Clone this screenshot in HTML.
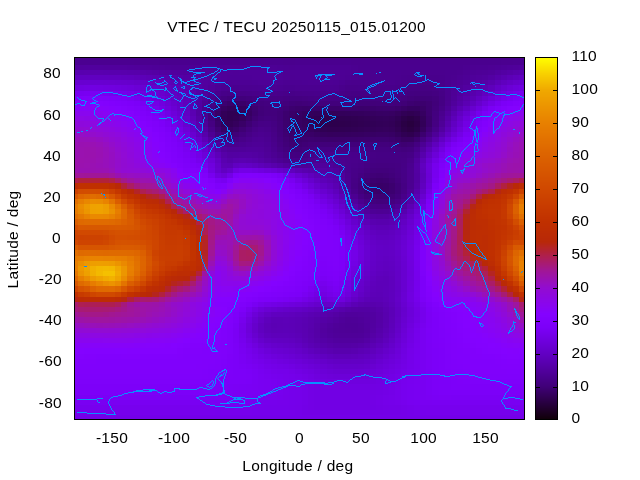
<!DOCTYPE html>
<html lang="en"><head><meta charset="utf-8"><title>VTEC / TECU 20250115_015.01200</title>
<style>html,body{margin:0;padding:0;background:#fff;overflow:hidden}svg{display:block}text{font-family:"Liberation Sans",Arial,Helvetica,sans-serif;font-size:15.5px;letter-spacing:0.28px;fill:#000}</style></head><body>
<svg width="640" height="480" viewBox="0 0 640 480">
<rect width="640" height="480" fill="#fff"/>
<g shape-rendering="crispEdges">
<rect x="74" y="57" width="103" height="3" fill="#49008c"/><rect x="177" y="57" width="31" height="3" fill="#49008b"/><rect x="208" y="57" width="56" height="3" fill="#48008b"/><rect x="264" y="57" width="31" height="3" fill="#49008b"/><rect x="295" y="57" width="230" height="3" fill="#49008c"/><rect x="74" y="60" width="60" height="5" fill="#4b0091"/><rect x="134" y="60" width="25" height="5" fill="#4b0090"/><rect x="159" y="60" width="43" height="5" fill="#4a008f"/><rect x="202" y="60" width="62" height="5" fill="#4a008e"/><rect x="264" y="60" width="19" height="5" fill="#4a008f"/><rect x="283" y="60" width="12" height="5" fill="#4a008e"/><rect x="295" y="60" width="56" height="5" fill="#4a008f"/><rect x="351" y="60" width="119" height="5" fill="#4a008e"/><rect x="470" y="60" width="31" height="5" fill="#4a008f"/><rect x="501" y="60" width="12" height="5" fill="#4b0090"/><rect x="513" y="60" width="12" height="5" fill="#4b0091"/><rect x="74" y="65" width="10" height="5" fill="#51009d"/><rect x="84" y="65" width="19" height="5" fill="#51009e"/><rect x="103" y="65" width="24" height="5" fill="#51009d"/><rect x="127" y="65" width="7" height="5" fill="#50009c"/><rect x="134" y="65" width="6" height="5" fill="#50009b"/><rect x="140" y="65" width="6" height="5" fill="#4f009a"/><rect x="146" y="65" width="6" height="5" fill="#4f0099"/><rect x="152" y="65" width="7" height="5" fill="#4e0098"/><rect x="159" y="65" width="6" height="5" fill="#4e0097"/><rect x="165" y="65" width="6" height="5" fill="#4d0096"/><rect x="171" y="65" width="37" height="5" fill="#4d0095"/><rect x="208" y="65" width="38" height="5" fill="#4d0094"/><rect x="246" y="65" width="31" height="5" fill="#4d0095"/><rect x="277" y="65" width="6" height="5" fill="#4c0094"/><rect x="283" y="65" width="6" height="5" fill="#4c0093"/><rect x="289" y="65" width="6" height="5" fill="#4c0092"/><rect x="295" y="65" width="56" height="5" fill="#4c0093"/><rect x="351" y="65" width="7" height="5" fill="#4b0091"/><rect x="358" y="65" width="105" height="5" fill="#4a008f"/><rect x="463" y="65" width="7" height="5" fill="#4b0091"/><rect x="470" y="65" width="6" height="5" fill="#4c0092"/><rect x="476" y="65" width="12" height="5" fill="#4c0093"/><rect x="488" y="65" width="7" height="5" fill="#4d0094"/><rect x="495" y="65" width="6" height="5" fill="#4d0096"/><rect x="501" y="65" width="6" height="5" fill="#4e0098"/><rect x="507" y="65" width="6" height="5" fill="#4f009a"/><rect x="513" y="65" width="6" height="5" fill="#50009b"/><rect x="519" y="65" width="6" height="5" fill="#51009d"/><rect x="74" y="70" width="4" height="5" fill="#5800ae"/><rect x="78" y="70" width="6" height="5" fill="#5800af"/><rect x="84" y="70" width="19" height="5" fill="#5900af"/><rect x="103" y="70" width="6" height="5" fill="#5800af"/><rect x="109" y="70" width="12" height="5" fill="#5800ae"/><rect x="121" y="70" width="6" height="5" fill="#5800ad"/><rect x="127" y="70" width="7" height="5" fill="#5700ac"/><rect x="134" y="70" width="6" height="5" fill="#5700ab"/><rect x="140" y="70" width="6" height="5" fill="#5600a8"/><rect x="146" y="70" width="6" height="5" fill="#5500a6"/><rect x="152" y="70" width="7" height="5" fill="#5400a4"/><rect x="159" y="70" width="6" height="5" fill="#5200a1"/><rect x="165" y="70" width="6" height="5" fill="#52009f"/><rect x="171" y="70" width="6" height="5" fill="#51009e"/><rect x="177" y="70" width="6" height="5" fill="#51009d"/><rect x="183" y="70" width="13" height="5" fill="#50009c"/><rect x="196" y="70" width="6" height="5" fill="#50009b"/><rect x="202" y="70" width="6" height="5" fill="#4f009b"/><rect x="208" y="70" width="7" height="5" fill="#4f009a"/><rect x="215" y="70" width="18" height="5" fill="#4f0099"/><rect x="233" y="70" width="6" height="5" fill="#4f0098"/><rect x="239" y="70" width="25" height="5" fill="#4f0099"/><rect x="264" y="70" width="7" height="5" fill="#4f009a"/><rect x="271" y="70" width="6" height="5" fill="#4f0099"/><rect x="277" y="70" width="6" height="5" fill="#4e0097"/><rect x="283" y="70" width="62" height="5" fill="#4d0095"/><rect x="345" y="70" width="6" height="5" fill="#4d0094"/><rect x="351" y="70" width="7" height="5" fill="#4c0092"/><rect x="358" y="70" width="43" height="5" fill="#4a008f"/><rect x="401" y="70" width="44" height="5" fill="#4a008e"/><rect x="445" y="70" width="12" height="5" fill="#4a008f"/><rect x="457" y="70" width="6" height="5" fill="#4b0090"/><rect x="463" y="70" width="7" height="5" fill="#4c0093"/><rect x="470" y="70" width="6" height="5" fill="#4d0096"/><rect x="476" y="70" width="6" height="5" fill="#4e0097"/><rect x="482" y="70" width="6" height="5" fill="#4e0098"/><rect x="488" y="70" width="7" height="5" fill="#4f009a"/><rect x="495" y="70" width="6" height="5" fill="#51009f"/><rect x="501" y="70" width="6" height="5" fill="#5300a3"/><rect x="507" y="70" width="6" height="5" fill="#5500a7"/><rect x="513" y="70" width="6" height="5" fill="#5700ab"/><rect x="519" y="70" width="6" height="5" fill="#5800ae"/><rect x="74" y="75" width="4" height="5" fill="#6000bf"/><rect x="78" y="75" width="31" height="5" fill="#6000c0"/><rect x="109" y="75" width="12" height="5" fill="#6000bf"/><rect x="121" y="75" width="6" height="5" fill="#5f00be"/><rect x="127" y="75" width="7" height="5" fill="#5f00bd"/><rect x="134" y="75" width="6" height="5" fill="#5e00ba"/><rect x="140" y="75" width="6" height="5" fill="#5c00b8"/><rect x="146" y="75" width="6" height="5" fill="#5b00b5"/><rect x="152" y="75" width="7" height="5" fill="#5a00b2"/><rect x="159" y="75" width="6" height="5" fill="#5800ae"/><rect x="165" y="75" width="6" height="5" fill="#5700ab"/><rect x="171" y="75" width="6" height="5" fill="#5600a8"/><rect x="177" y="75" width="6" height="5" fill="#5400a6"/><rect x="183" y="75" width="7" height="5" fill="#5300a3"/><rect x="190" y="75" width="6" height="5" fill="#5200a1"/><rect x="196" y="75" width="6" height="5" fill="#51009f"/><rect x="202" y="75" width="6" height="5" fill="#51009e"/><rect x="208" y="75" width="7" height="5" fill="#51009d"/><rect x="215" y="75" width="6" height="5" fill="#50009b"/><rect x="221" y="75" width="6" height="5" fill="#4f0099"/><rect x="227" y="75" width="25" height="5" fill="#4e0098"/><rect x="252" y="75" width="12" height="5" fill="#4f0099"/><rect x="264" y="75" width="7" height="5" fill="#4f009a"/><rect x="271" y="75" width="6" height="5" fill="#4f0099"/><rect x="277" y="75" width="6" height="5" fill="#4e0097"/><rect x="283" y="75" width="6" height="5" fill="#4d0095"/><rect x="289" y="75" width="6" height="5" fill="#4d0094"/><rect x="295" y="75" width="25" height="5" fill="#4d0095"/><rect x="320" y="75" width="13" height="5" fill="#4d0096"/><rect x="333" y="75" width="6" height="5" fill="#4d0095"/><rect x="339" y="75" width="6" height="5" fill="#4d0094"/><rect x="345" y="75" width="6" height="5" fill="#4c0093"/><rect x="351" y="75" width="7" height="5" fill="#4b0091"/><rect x="358" y="75" width="6" height="5" fill="#4a008f"/><rect x="364" y="75" width="12" height="5" fill="#4a008e"/><rect x="376" y="75" width="19" height="5" fill="#4a008f"/><rect x="395" y="75" width="6" height="5" fill="#4a008e"/><rect x="401" y="75" width="6" height="5" fill="#49008d"/><rect x="407" y="75" width="32" height="5" fill="#49008c"/><rect x="439" y="75" width="6" height="5" fill="#49008d"/><rect x="445" y="75" width="6" height="5" fill="#4a008f"/><rect x="451" y="75" width="6" height="5" fill="#4b0090"/><rect x="457" y="75" width="6" height="5" fill="#4c0093"/><rect x="463" y="75" width="7" height="5" fill="#4d0096"/><rect x="470" y="75" width="6" height="5" fill="#4f009a"/><rect x="476" y="75" width="6" height="5" fill="#50009c"/><rect x="482" y="75" width="6" height="5" fill="#51009e"/><rect x="488" y="75" width="7" height="5" fill="#5300a3"/><rect x="495" y="75" width="6" height="5" fill="#5600aa"/><rect x="501" y="75" width="6" height="5" fill="#5900b0"/><rect x="507" y="75" width="6" height="5" fill="#5c00b6"/><rect x="513" y="75" width="6" height="5" fill="#5e00bb"/><rect x="519" y="75" width="6" height="5" fill="#6000bf"/><rect x="74" y="80" width="4" height="5" fill="#6700cf"/><rect x="78" y="80" width="6" height="5" fill="#6800d0"/><rect x="84" y="80" width="19" height="5" fill="#6800d1"/><rect x="103" y="80" width="6" height="5" fill="#6800d0"/><rect x="109" y="80" width="6" height="5" fill="#6800cf"/><rect x="115" y="80" width="6" height="5" fill="#6700ce"/><rect x="121" y="80" width="6" height="5" fill="#6700cd"/><rect x="127" y="80" width="7" height="5" fill="#6600cc"/><rect x="134" y="80" width="6" height="5" fill="#6500c9"/><rect x="140" y="80" width="6" height="5" fill="#6300c6"/><rect x="146" y="80" width="6" height="5" fill="#6200c3"/><rect x="152" y="80" width="7" height="5" fill="#6000c0"/><rect x="159" y="80" width="6" height="5" fill="#5e00bb"/><rect x="165" y="80" width="6" height="5" fill="#5c00b7"/><rect x="171" y="80" width="6" height="5" fill="#5a00b3"/><rect x="177" y="80" width="6" height="5" fill="#5800ae"/><rect x="183" y="80" width="7" height="5" fill="#5600aa"/><rect x="190" y="80" width="6" height="5" fill="#5400a5"/><rect x="196" y="80" width="6" height="5" fill="#5300a2"/><rect x="202" y="80" width="6" height="5" fill="#52009f"/><rect x="208" y="80" width="7" height="5" fill="#51009d"/><rect x="215" y="80" width="6" height="5" fill="#4f0099"/><rect x="221" y="80" width="6" height="5" fill="#4e0096"/><rect x="227" y="80" width="25" height="5" fill="#4d0095"/><rect x="252" y="80" width="6" height="5" fill="#4d0096"/><rect x="258" y="80" width="19" height="5" fill="#4e0097"/><rect x="277" y="80" width="6" height="5" fill="#4d0095"/><rect x="283" y="80" width="19" height="5" fill="#4c0093"/><rect x="302" y="80" width="6" height="5" fill="#4c0094"/><rect x="308" y="80" width="25" height="5" fill="#4d0094"/><rect x="333" y="80" width="6" height="5" fill="#4c0094"/><rect x="339" y="80" width="6" height="5" fill="#4b0091"/><rect x="345" y="80" width="6" height="5" fill="#4a008e"/><rect x="351" y="80" width="25" height="5" fill="#4a008d"/><rect x="376" y="80" width="19" height="5" fill="#4a008e"/><rect x="395" y="80" width="6" height="5" fill="#49008d"/><rect x="401" y="80" width="6" height="5" fill="#48008b"/><rect x="407" y="80" width="7" height="5" fill="#470088"/><rect x="414" y="80" width="18" height="5" fill="#470087"/><rect x="432" y="80" width="7" height="5" fill="#470088"/><rect x="439" y="80" width="6" height="5" fill="#48008b"/><rect x="445" y="80" width="6" height="5" fill="#4a008f"/><rect x="451" y="80" width="6" height="5" fill="#4c0093"/><rect x="457" y="80" width="6" height="5" fill="#4e0096"/><rect x="463" y="80" width="7" height="5" fill="#4f009a"/><rect x="470" y="80" width="6" height="5" fill="#51009f"/><rect x="476" y="80" width="6" height="5" fill="#5300a2"/><rect x="482" y="80" width="6" height="5" fill="#5500a7"/><rect x="488" y="80" width="7" height="5" fill="#5800ae"/><rect x="495" y="80" width="6" height="5" fill="#5c00b7"/><rect x="501" y="80" width="6" height="5" fill="#6000bf"/><rect x="507" y="80" width="6" height="5" fill="#6300c6"/><rect x="513" y="80" width="6" height="5" fill="#6600cb"/><rect x="519" y="80" width="6" height="5" fill="#6700cf"/><rect x="74" y="85" width="4" height="6" fill="#6f00df"/><rect x="78" y="85" width="6" height="6" fill="#7000e0"/><rect x="84" y="85" width="6" height="6" fill="#7100e1"/><rect x="90" y="85" width="6" height="6" fill="#7100e2"/><rect x="96" y="85" width="7" height="6" fill="#7100e1"/><rect x="103" y="85" width="6" height="6" fill="#7000e0"/><rect x="109" y="85" width="6" height="6" fill="#7000df"/><rect x="115" y="85" width="6" height="6" fill="#6f00de"/><rect x="121" y="85" width="6" height="6" fill="#6e00dc"/><rect x="127" y="85" width="7" height="6" fill="#6d00da"/><rect x="134" y="85" width="6" height="6" fill="#6b00d6"/><rect x="140" y="85" width="6" height="6" fill="#6900d2"/><rect x="146" y="85" width="6" height="6" fill="#6700ce"/><rect x="152" y="85" width="7" height="6" fill="#6500ca"/><rect x="159" y="85" width="6" height="6" fill="#6300c5"/><rect x="165" y="85" width="6" height="6" fill="#6000c0"/><rect x="171" y="85" width="6" height="6" fill="#5e00bb"/><rect x="177" y="85" width="6" height="6" fill="#5c00b6"/><rect x="183" y="85" width="7" height="6" fill="#5900b1"/><rect x="190" y="85" width="6" height="6" fill="#5600aa"/><rect x="196" y="85" width="6" height="6" fill="#5400a4"/><rect x="202" y="85" width="6" height="6" fill="#51009e"/><rect x="208" y="85" width="7" height="6" fill="#4f0099"/><rect x="215" y="85" width="6" height="6" fill="#4d0094"/><rect x="221" y="85" width="6" height="6" fill="#4b0091"/><rect x="227" y="85" width="6" height="6" fill="#4b0090"/><rect x="233" y="85" width="6" height="6" fill="#4a008f"/><rect x="239" y="85" width="13" height="6" fill="#4b0090"/><rect x="252" y="85" width="6" height="6" fill="#4b0091"/><rect x="258" y="85" width="6" height="6" fill="#4b0092"/><rect x="264" y="85" width="13" height="6" fill="#4c0093"/><rect x="277" y="85" width="6" height="6" fill="#4b0091"/><rect x="283" y="85" width="12" height="6" fill="#4a008f"/><rect x="295" y="85" width="32" height="6" fill="#4b0090"/><rect x="327" y="85" width="6" height="6" fill="#4b0091"/><rect x="333" y="85" width="6" height="6" fill="#4b0090"/><rect x="339" y="85" width="6" height="6" fill="#49008c"/><rect x="345" y="85" width="13" height="6" fill="#480089"/><rect x="358" y="85" width="25" height="6" fill="#48008a"/><rect x="383" y="85" width="12" height="6" fill="#48008b"/><rect x="395" y="85" width="6" height="6" fill="#48008a"/><rect x="401" y="85" width="6" height="6" fill="#470087"/><rect x="407" y="85" width="7" height="6" fill="#450084"/><rect x="414" y="85" width="18" height="6" fill="#450083"/><rect x="432" y="85" width="7" height="6" fill="#460084"/><rect x="439" y="85" width="6" height="6" fill="#470088"/><rect x="445" y="85" width="6" height="6" fill="#4a008e"/><rect x="451" y="85" width="6" height="6" fill="#4d0095"/><rect x="457" y="85" width="6" height="6" fill="#4f009a"/><rect x="463" y="85" width="7" height="6" fill="#5200a0"/><rect x="470" y="85" width="6" height="6" fill="#5400a5"/><rect x="476" y="85" width="6" height="6" fill="#5700ab"/><rect x="482" y="85" width="6" height="6" fill="#5a00b2"/><rect x="488" y="85" width="7" height="6" fill="#5e00bb"/><rect x="495" y="85" width="6" height="6" fill="#6300c6"/><rect x="501" y="85" width="6" height="6" fill="#6700ce"/><rect x="507" y="85" width="6" height="6" fill="#6b00d5"/><rect x="513" y="85" width="6" height="6" fill="#6d00db"/><rect x="519" y="85" width="6" height="6" fill="#6f00df"/><rect x="74" y="91" width="4" height="5" fill="#7700ee"/><rect x="78" y="91" width="6" height="5" fill="#7800f1"/><rect x="84" y="91" width="19" height="5" fill="#7900f2"/><rect x="103" y="91" width="6" height="5" fill="#7800f1"/><rect x="109" y="91" width="6" height="5" fill="#7700ef"/><rect x="115" y="91" width="6" height="5" fill="#7600ed"/><rect x="121" y="91" width="6" height="5" fill="#7500ea"/><rect x="127" y="91" width="7" height="5" fill="#7400e7"/><rect x="134" y="91" width="6" height="5" fill="#7100e3"/><rect x="140" y="91" width="6" height="5" fill="#6f00dd"/><rect x="146" y="91" width="6" height="5" fill="#6c00d8"/><rect x="152" y="91" width="7" height="5" fill="#6900d3"/><rect x="159" y="91" width="6" height="5" fill="#6700cd"/><rect x="165" y="91" width="6" height="5" fill="#6400c7"/><rect x="171" y="91" width="6" height="5" fill="#6100c2"/><rect x="177" y="91" width="6" height="5" fill="#5e00bc"/><rect x="183" y="91" width="7" height="5" fill="#5c00b6"/><rect x="190" y="91" width="6" height="5" fill="#5800ae"/><rect x="196" y="91" width="6" height="5" fill="#5400a4"/><rect x="202" y="91" width="6" height="5" fill="#50009b"/><rect x="208" y="91" width="7" height="5" fill="#4c0093"/><rect x="215" y="91" width="6" height="5" fill="#49008d"/><rect x="221" y="91" width="6" height="5" fill="#470089"/><rect x="227" y="91" width="6" height="5" fill="#470087"/><rect x="233" y="91" width="6" height="5" fill="#460086"/><rect x="239" y="91" width="7" height="5" fill="#470087"/><rect x="246" y="91" width="6" height="5" fill="#470088"/><rect x="252" y="91" width="6" height="5" fill="#480089"/><rect x="258" y="91" width="6" height="5" fill="#48008a"/><rect x="264" y="91" width="13" height="5" fill="#49008c"/><rect x="277" y="91" width="6" height="5" fill="#48008b"/><rect x="283" y="91" width="6" height="5" fill="#480089"/><rect x="289" y="91" width="6" height="5" fill="#470088"/><rect x="295" y="91" width="7" height="5" fill="#480089"/><rect x="302" y="91" width="12" height="5" fill="#48008a"/><rect x="314" y="91" width="19" height="5" fill="#48008b"/><rect x="333" y="91" width="6" height="5" fill="#48008a"/><rect x="339" y="91" width="6" height="5" fill="#470087"/><rect x="345" y="91" width="6" height="5" fill="#460085"/><rect x="351" y="91" width="13" height="5" fill="#450084"/><rect x="364" y="91" width="19" height="5" fill="#460085"/><rect x="383" y="91" width="12" height="5" fill="#460086"/><rect x="395" y="91" width="6" height="5" fill="#460085"/><rect x="401" y="91" width="6" height="5" fill="#450083"/><rect x="407" y="91" width="7" height="5" fill="#430080"/><rect x="414" y="91" width="18" height="5" fill="#43007f"/><rect x="432" y="91" width="7" height="5" fill="#440081"/><rect x="439" y="91" width="6" height="5" fill="#460086"/><rect x="445" y="91" width="6" height="5" fill="#4a008e"/><rect x="451" y="91" width="6" height="5" fill="#4e0096"/><rect x="457" y="91" width="6" height="5" fill="#51009e"/><rect x="463" y="91" width="7" height="5" fill="#5400a6"/><rect x="470" y="91" width="6" height="5" fill="#5800ad"/><rect x="476" y="91" width="6" height="5" fill="#5b00b5"/><rect x="482" y="91" width="6" height="5" fill="#6000bf"/><rect x="488" y="91" width="7" height="5" fill="#6500c9"/><rect x="495" y="91" width="6" height="5" fill="#6a00d3"/><rect x="501" y="91" width="6" height="5" fill="#6e00dc"/><rect x="507" y="91" width="6" height="5" fill="#7200e4"/><rect x="513" y="91" width="6" height="5" fill="#7500ea"/><rect x="519" y="91" width="6" height="5" fill="#7700ee"/><rect x="74" y="96" width="4" height="5" fill="#7d00f9"/><rect x="78" y="96" width="6" height="5" fill="#7e01fa"/><rect x="84" y="96" width="6" height="5" fill="#7f01fa"/><rect x="90" y="96" width="6" height="5" fill="#7f01fb"/><rect x="96" y="96" width="7" height="5" fill="#7f01fa"/><rect x="103" y="96" width="6" height="5" fill="#7e01fa"/><rect x="109" y="96" width="6" height="5" fill="#7e00f9"/><rect x="115" y="96" width="6" height="5" fill="#7d00f9"/><rect x="121" y="96" width="6" height="5" fill="#7c00f7"/><rect x="127" y="96" width="7" height="5" fill="#7a00f3"/><rect x="134" y="96" width="6" height="5" fill="#7700ee"/><rect x="140" y="96" width="6" height="5" fill="#7400e8"/><rect x="146" y="96" width="6" height="5" fill="#7100e3"/><rect x="152" y="96" width="7" height="5" fill="#6e00dc"/><rect x="159" y="96" width="6" height="5" fill="#6b00d6"/><rect x="165" y="96" width="6" height="5" fill="#6700ce"/><rect x="171" y="96" width="6" height="5" fill="#6400c8"/><rect x="177" y="96" width="6" height="5" fill="#6100c1"/><rect x="183" y="96" width="7" height="5" fill="#5d00b9"/><rect x="190" y="96" width="6" height="5" fill="#5900af"/><rect x="196" y="96" width="6" height="5" fill="#5300a3"/><rect x="202" y="96" width="6" height="5" fill="#4e0097"/><rect x="208" y="96" width="7" height="5" fill="#49008d"/><rect x="215" y="96" width="6" height="5" fill="#460084"/><rect x="221" y="96" width="6" height="5" fill="#43007f"/><rect x="227" y="96" width="6" height="5" fill="#41007b"/><rect x="233" y="96" width="6" height="5" fill="#410079"/><rect x="239" y="96" width="7" height="5" fill="#41007b"/><rect x="246" y="96" width="6" height="5" fill="#42007d"/><rect x="252" y="96" width="6" height="5" fill="#440080"/><rect x="258" y="96" width="6" height="5" fill="#450083"/><rect x="264" y="96" width="13" height="5" fill="#460085"/><rect x="277" y="96" width="6" height="5" fill="#460084"/><rect x="283" y="96" width="6" height="5" fill="#450082"/><rect x="289" y="96" width="13" height="5" fill="#440081"/><rect x="302" y="96" width="6" height="5" fill="#450082"/><rect x="308" y="96" width="6" height="5" fill="#450084"/><rect x="314" y="96" width="19" height="5" fill="#460084"/><rect x="333" y="96" width="6" height="5" fill="#450084"/><rect x="339" y="96" width="6" height="5" fill="#450083"/><rect x="345" y="96" width="6" height="5" fill="#440081"/><rect x="351" y="96" width="7" height="5" fill="#430080"/><rect x="358" y="96" width="12" height="5" fill="#43007f"/><rect x="370" y="96" width="6" height="5" fill="#430080"/><rect x="376" y="96" width="7" height="5" fill="#440080"/><rect x="383" y="96" width="6" height="5" fill="#440081"/><rect x="389" y="96" width="6" height="5" fill="#440082"/><rect x="395" y="96" width="6" height="5" fill="#440081"/><rect x="401" y="96" width="6" height="5" fill="#43007e"/><rect x="407" y="96" width="7" height="5" fill="#41007a"/><rect x="414" y="96" width="12" height="5" fill="#400078"/><rect x="426" y="96" width="6" height="5" fill="#400079"/><rect x="432" y="96" width="7" height="5" fill="#42007c"/><rect x="439" y="96" width="6" height="5" fill="#450084"/><rect x="445" y="96" width="6" height="5" fill="#4a008e"/><rect x="451" y="96" width="6" height="5" fill="#4e0098"/><rect x="457" y="96" width="6" height="5" fill="#5300a2"/><rect x="463" y="96" width="7" height="5" fill="#5700ab"/><rect x="470" y="96" width="6" height="5" fill="#5b00b5"/><rect x="476" y="96" width="6" height="5" fill="#6100c1"/><rect x="482" y="96" width="6" height="5" fill="#6600cc"/><rect x="488" y="96" width="7" height="5" fill="#6c00d7"/><rect x="495" y="96" width="6" height="5" fill="#7100e1"/><rect x="501" y="96" width="6" height="5" fill="#7500e9"/><rect x="507" y="96" width="6" height="5" fill="#7800f0"/><rect x="513" y="96" width="6" height="5" fill="#7b00f7"/><rect x="519" y="96" width="6" height="5" fill="#7d00f9"/><rect x="74" y="101" width="4" height="5" fill="#8101fd"/><rect x="78" y="101" width="6" height="5" fill="#8202fe"/><rect x="84" y="101" width="19" height="5" fill="#8302fe"/><rect x="103" y="101" width="6" height="5" fill="#8202fd"/><rect x="109" y="101" width="6" height="5" fill="#8101fd"/><rect x="115" y="101" width="6" height="5" fill="#8001fc"/><rect x="121" y="101" width="6" height="5" fill="#7f01fb"/><rect x="127" y="101" width="7" height="5" fill="#7e00fa"/><rect x="134" y="101" width="6" height="5" fill="#7c00f8"/><rect x="140" y="101" width="6" height="5" fill="#7900f2"/><rect x="146" y="101" width="6" height="5" fill="#7600ec"/><rect x="152" y="101" width="7" height="5" fill="#7300e5"/><rect x="159" y="101" width="6" height="5" fill="#6f00de"/><rect x="165" y="101" width="6" height="5" fill="#6b00d6"/><rect x="171" y="101" width="6" height="5" fill="#6700ce"/><rect x="177" y="101" width="6" height="5" fill="#6300c6"/><rect x="183" y="101" width="7" height="5" fill="#5e00bc"/><rect x="190" y="101" width="6" height="5" fill="#5900af"/><rect x="196" y="101" width="6" height="5" fill="#5200a1"/><rect x="202" y="101" width="6" height="5" fill="#4c0093"/><rect x="208" y="101" width="7" height="5" fill="#460086"/><rect x="215" y="101" width="6" height="5" fill="#42007b"/><rect x="221" y="101" width="6" height="5" fill="#3d0071"/><rect x="227" y="101" width="6" height="5" fill="#3a006a"/><rect x="233" y="101" width="6" height="5" fill="#390067"/><rect x="239" y="101" width="7" height="5" fill="#3a006a"/><rect x="246" y="101" width="6" height="5" fill="#3d0071"/><rect x="252" y="101" width="6" height="5" fill="#400079"/><rect x="258" y="101" width="6" height="5" fill="#42007d"/><rect x="264" y="101" width="7" height="5" fill="#43007f"/><rect x="271" y="101" width="6" height="5" fill="#440080"/><rect x="277" y="101" width="6" height="5" fill="#43007f"/><rect x="283" y="101" width="6" height="5" fill="#42007c"/><rect x="289" y="101" width="6" height="5" fill="#400079"/><rect x="295" y="101" width="7" height="5" fill="#400077"/><rect x="302" y="101" width="6" height="5" fill="#410079"/><rect x="308" y="101" width="6" height="5" fill="#41007b"/><rect x="314" y="101" width="37" height="5" fill="#42007c"/><rect x="351" y="101" width="7" height="5" fill="#41007a"/><rect x="358" y="101" width="12" height="5" fill="#400078"/><rect x="370" y="101" width="6" height="5" fill="#410079"/><rect x="376" y="101" width="7" height="5" fill="#41007a"/><rect x="383" y="101" width="6" height="5" fill="#41007b"/><rect x="389" y="101" width="6" height="5" fill="#42007c"/><rect x="395" y="101" width="6" height="5" fill="#41007b"/><rect x="401" y="101" width="6" height="5" fill="#400077"/><rect x="407" y="101" width="7" height="5" fill="#3d0071"/><rect x="414" y="101" width="12" height="5" fill="#3c006e"/><rect x="426" y="101" width="6" height="5" fill="#3e0072"/><rect x="432" y="101" width="7" height="5" fill="#41007a"/><rect x="439" y="101" width="6" height="5" fill="#450084"/><rect x="445" y="101" width="6" height="5" fill="#4b0090"/><rect x="451" y="101" width="6" height="5" fill="#50009c"/><rect x="457" y="101" width="6" height="5" fill="#5500a8"/><rect x="463" y="101" width="7" height="5" fill="#5b00b3"/><rect x="470" y="101" width="6" height="5" fill="#6000c0"/><rect x="476" y="101" width="6" height="5" fill="#6700cd"/><rect x="482" y="101" width="6" height="5" fill="#6d00da"/><rect x="488" y="101" width="7" height="5" fill="#7300e6"/><rect x="495" y="101" width="6" height="5" fill="#7800f0"/><rect x="501" y="101" width="6" height="5" fill="#7c00f7"/><rect x="507" y="101" width="6" height="5" fill="#7e00fa"/><rect x="513" y="101" width="6" height="5" fill="#8001fb"/><rect x="519" y="101" width="6" height="5" fill="#8101fd"/><rect x="74" y="106" width="4" height="5" fill="#8503fa"/><rect x="78" y="106" width="6" height="5" fill="#8603f8"/><rect x="84" y="106" width="12" height="5" fill="#8604f8"/><rect x="96" y="106" width="7" height="5" fill="#8603f9"/><rect x="103" y="106" width="6" height="5" fill="#8503fb"/><rect x="109" y="106" width="6" height="5" fill="#8402fd"/><rect x="115" y="106" width="6" height="5" fill="#8302ff"/><rect x="121" y="106" width="6" height="5" fill="#8202fd"/><rect x="127" y="106" width="7" height="5" fill="#8101fc"/><rect x="134" y="106" width="6" height="5" fill="#7f01fb"/><rect x="140" y="106" width="6" height="5" fill="#7d00f9"/><rect x="146" y="106" width="6" height="5" fill="#7a00f4"/><rect x="152" y="106" width="7" height="5" fill="#7700ed"/><rect x="159" y="106" width="6" height="5" fill="#7300e5"/><rect x="165" y="106" width="6" height="5" fill="#6e00dd"/><rect x="171" y="106" width="6" height="5" fill="#6a00d4"/><rect x="177" y="106" width="6" height="5" fill="#6500ca"/><rect x="183" y="106" width="7" height="5" fill="#6000bf"/><rect x="190" y="106" width="6" height="5" fill="#5900b0"/><rect x="196" y="106" width="6" height="5" fill="#5200a0"/><rect x="202" y="106" width="6" height="5" fill="#4a008f"/><rect x="208" y="106" width="7" height="5" fill="#430080"/><rect x="215" y="106" width="6" height="5" fill="#3c0070"/><rect x="221" y="106" width="6" height="5" fill="#370062"/><rect x="227" y="106" width="6" height="5" fill="#34005b"/><rect x="233" y="106" width="6" height="5" fill="#33005a"/><rect x="239" y="106" width="7" height="5" fill="#35005e"/><rect x="246" y="106" width="6" height="5" fill="#380066"/><rect x="252" y="106" width="6" height="5" fill="#3d0071"/><rect x="258" y="106" width="6" height="5" fill="#410079"/><rect x="264" y="106" width="7" height="5" fill="#42007c"/><rect x="271" y="106" width="6" height="5" fill="#42007d"/><rect x="277" y="106" width="6" height="5" fill="#41007a"/><rect x="283" y="106" width="6" height="5" fill="#3f0075"/><rect x="289" y="106" width="6" height="5" fill="#3c006f"/><rect x="295" y="106" width="7" height="5" fill="#3b006c"/><rect x="302" y="106" width="6" height="5" fill="#3a006a"/><rect x="308" y="106" width="12" height="5" fill="#3a006b"/><rect x="320" y="106" width="19" height="5" fill="#3b006b"/><rect x="339" y="106" width="6" height="5" fill="#3b006c"/><rect x="345" y="106" width="6" height="5" fill="#3b006d"/><rect x="351" y="106" width="7" height="5" fill="#3b006c"/><rect x="358" y="106" width="6" height="5" fill="#3a006b"/><rect x="364" y="106" width="6" height="5" fill="#3b006b"/><rect x="370" y="106" width="6" height="5" fill="#3b006d"/><rect x="376" y="106" width="7" height="5" fill="#3c006f"/><rect x="383" y="106" width="12" height="5" fill="#3d0070"/><rect x="395" y="106" width="6" height="5" fill="#3b006d"/><rect x="401" y="106" width="6" height="5" fill="#390067"/><rect x="407" y="106" width="13" height="5" fill="#360062"/><rect x="420" y="106" width="6" height="5" fill="#390067"/><rect x="426" y="106" width="6" height="5" fill="#3d0071"/><rect x="432" y="106" width="7" height="5" fill="#42007c"/><rect x="439" y="106" width="6" height="5" fill="#470088"/><rect x="445" y="106" width="6" height="5" fill="#4d0096"/><rect x="451" y="106" width="6" height="5" fill="#5400a5"/><rect x="457" y="106" width="6" height="5" fill="#5b00b4"/><rect x="463" y="106" width="7" height="5" fill="#6100c2"/><rect x="470" y="106" width="6" height="5" fill="#6800cf"/><rect x="476" y="106" width="6" height="5" fill="#6e00dd"/><rect x="482" y="106" width="6" height="5" fill="#7500ea"/><rect x="488" y="106" width="7" height="5" fill="#7b00f5"/><rect x="495" y="106" width="6" height="5" fill="#7e01fa"/><rect x="501" y="106" width="6" height="5" fill="#8101fc"/><rect x="507" y="106" width="6" height="5" fill="#8302fe"/><rect x="513" y="106" width="6" height="5" fill="#8402fe"/><rect x="519" y="106" width="6" height="5" fill="#8503fa"/><rect x="74" y="111" width="10" height="5" fill="#8906ee"/><rect x="84" y="111" width="6" height="5" fill="#8906ef"/><rect x="90" y="111" width="6" height="5" fill="#8905f0"/><rect x="96" y="111" width="7" height="5" fill="#8805f1"/><rect x="103" y="111" width="6" height="5" fill="#8805f3"/><rect x="109" y="111" width="6" height="5" fill="#8704f6"/><rect x="115" y="111" width="6" height="5" fill="#8603fa"/><rect x="121" y="111" width="6" height="5" fill="#8402fd"/><rect x="127" y="111" width="7" height="5" fill="#8302fe"/><rect x="134" y="111" width="6" height="5" fill="#8101fc"/><rect x="140" y="111" width="6" height="5" fill="#7f01fb"/><rect x="146" y="111" width="6" height="5" fill="#7d00f9"/><rect x="152" y="111" width="7" height="5" fill="#7a00f5"/><rect x="159" y="111" width="6" height="5" fill="#7600ed"/><rect x="165" y="111" width="6" height="5" fill="#7200e4"/><rect x="171" y="111" width="6" height="5" fill="#6d00da"/><rect x="177" y="111" width="6" height="5" fill="#6800d0"/><rect x="183" y="111" width="7" height="5" fill="#6100c3"/><rect x="190" y="111" width="6" height="5" fill="#5a00b2"/><rect x="196" y="111" width="6" height="5" fill="#5200a0"/><rect x="202" y="111" width="6" height="5" fill="#4a008e"/><rect x="208" y="111" width="7" height="5" fill="#42007c"/><rect x="215" y="111" width="6" height="5" fill="#390067"/><rect x="221" y="111" width="6" height="5" fill="#330059"/><rect x="227" y="111" width="6" height="5" fill="#300054"/><rect x="233" y="111" width="6" height="5" fill="#310054"/><rect x="239" y="111" width="7" height="5" fill="#320058"/><rect x="246" y="111" width="6" height="5" fill="#370062"/><rect x="252" y="111" width="6" height="5" fill="#3c006f"/><rect x="258" y="111" width="6" height="5" fill="#400079"/><rect x="264" y="111" width="13" height="5" fill="#42007c"/><rect x="277" y="111" width="6" height="5" fill="#400078"/><rect x="283" y="111" width="6" height="5" fill="#3c006f"/><rect x="289" y="111" width="6" height="5" fill="#3a0069"/><rect x="295" y="111" width="7" height="5" fill="#380064"/><rect x="302" y="111" width="6" height="5" fill="#35005f"/><rect x="308" y="111" width="6" height="5" fill="#34005c"/><rect x="314" y="111" width="6" height="5" fill="#33005a"/><rect x="320" y="111" width="19" height="5" fill="#330059"/><rect x="339" y="111" width="6" height="5" fill="#33005a"/><rect x="345" y="111" width="6" height="5" fill="#33005b"/><rect x="351" y="111" width="7" height="5" fill="#34005c"/><rect x="358" y="111" width="6" height="5" fill="#34005d"/><rect x="364" y="111" width="6" height="5" fill="#35005f"/><rect x="370" y="111" width="6" height="5" fill="#360061"/><rect x="376" y="111" width="7" height="5" fill="#370063"/><rect x="383" y="111" width="6" height="5" fill="#370064"/><rect x="389" y="111" width="6" height="5" fill="#370062"/><rect x="395" y="111" width="6" height="5" fill="#35005d"/><rect x="401" y="111" width="6" height="5" fill="#310056"/><rect x="407" y="111" width="7" height="5" fill="#300052"/><rect x="414" y="111" width="6" height="5" fill="#310056"/><rect x="420" y="111" width="6" height="5" fill="#360061"/><rect x="426" y="111" width="6" height="5" fill="#3d0070"/><rect x="432" y="111" width="7" height="5" fill="#43007f"/><rect x="439" y="111" width="6" height="5" fill="#4a008e"/><rect x="445" y="111" width="6" height="5" fill="#51009e"/><rect x="451" y="111" width="6" height="5" fill="#5900b0"/><rect x="457" y="111" width="6" height="5" fill="#6100c2"/><rect x="463" y="111" width="7" height="5" fill="#6800d1"/><rect x="470" y="111" width="6" height="5" fill="#6f00de"/><rect x="476" y="111" width="6" height="5" fill="#7600ec"/><rect x="482" y="111" width="6" height="5" fill="#7c00f8"/><rect x="488" y="111" width="7" height="5" fill="#7f01fb"/><rect x="495" y="111" width="6" height="5" fill="#8202fd"/><rect x="501" y="111" width="6" height="5" fill="#8503fc"/><rect x="507" y="111" width="6" height="5" fill="#8704f5"/><rect x="513" y="111" width="6" height="5" fill="#8805f0"/><rect x="519" y="111" width="6" height="5" fill="#8906ee"/><rect x="74" y="116" width="4" height="5" fill="#8c08e4"/><rect x="78" y="116" width="6" height="5" fill="#8c08e5"/><rect x="84" y="116" width="6" height="5" fill="#8b07e6"/><rect x="90" y="116" width="6" height="5" fill="#8b07e8"/><rect x="96" y="116" width="7" height="5" fill="#8a06ea"/><rect x="103" y="116" width="6" height="5" fill="#8906ed"/><rect x="109" y="116" width="6" height="5" fill="#8805f0"/><rect x="115" y="116" width="6" height="5" fill="#8704f4"/><rect x="121" y="116" width="6" height="5" fill="#8603f8"/><rect x="127" y="116" width="7" height="5" fill="#8502fd"/><rect x="134" y="116" width="6" height="5" fill="#8302fe"/><rect x="140" y="116" width="6" height="5" fill="#8101fd"/><rect x="146" y="116" width="6" height="5" fill="#8001fb"/><rect x="152" y="116" width="7" height="5" fill="#7d00f9"/><rect x="159" y="116" width="6" height="5" fill="#7a00f5"/><rect x="165" y="116" width="6" height="5" fill="#7600eb"/><rect x="171" y="116" width="6" height="5" fill="#7100e1"/><rect x="177" y="116" width="6" height="5" fill="#6b00d6"/><rect x="183" y="116" width="7" height="5" fill="#6400c9"/><rect x="190" y="116" width="6" height="5" fill="#5d00b8"/><rect x="196" y="116" width="6" height="5" fill="#5400a5"/><rect x="202" y="116" width="6" height="5" fill="#4b0091"/><rect x="208" y="116" width="7" height="5" fill="#42007d"/><rect x="215" y="116" width="6" height="5" fill="#380066"/><rect x="221" y="116" width="6" height="5" fill="#320057"/><rect x="227" y="116" width="6" height="5" fill="#300053"/><rect x="233" y="116" width="6" height="5" fill="#310056"/><rect x="239" y="116" width="7" height="5" fill="#34005c"/><rect x="246" y="116" width="6" height="5" fill="#390068"/><rect x="252" y="116" width="6" height="5" fill="#3f0075"/><rect x="258" y="116" width="6" height="5" fill="#42007d"/><rect x="264" y="116" width="7" height="5" fill="#430080"/><rect x="271" y="116" width="6" height="5" fill="#43007e"/><rect x="277" y="116" width="6" height="5" fill="#400078"/><rect x="283" y="116" width="6" height="5" fill="#3c006e"/><rect x="289" y="116" width="6" height="5" fill="#390067"/><rect x="295" y="116" width="7" height="5" fill="#370062"/><rect x="302" y="116" width="6" height="5" fill="#34005d"/><rect x="308" y="116" width="6" height="5" fill="#320057"/><rect x="314" y="116" width="6" height="5" fill="#300053"/><rect x="320" y="116" width="7" height="5" fill="#2f0050"/><rect x="327" y="116" width="12" height="5" fill="#2e004f"/><rect x="339" y="116" width="6" height="5" fill="#2f0050"/><rect x="345" y="116" width="6" height="5" fill="#2f0051"/><rect x="351" y="116" width="7" height="5" fill="#300052"/><rect x="358" y="116" width="6" height="5" fill="#310054"/><rect x="364" y="116" width="6" height="5" fill="#320056"/><rect x="370" y="116" width="6" height="5" fill="#330059"/><rect x="376" y="116" width="7" height="5" fill="#33005b"/><rect x="383" y="116" width="6" height="5" fill="#34005c"/><rect x="389" y="116" width="6" height="5" fill="#33005a"/><rect x="395" y="116" width="6" height="5" fill="#300054"/><rect x="401" y="116" width="6" height="5" fill="#2c004a"/><rect x="407" y="116" width="7" height="5" fill="#2a0045"/><rect x="414" y="116" width="6" height="5" fill="#2d004b"/><rect x="420" y="116" width="6" height="5" fill="#33005a"/><rect x="426" y="116" width="6" height="5" fill="#3b006d"/><rect x="432" y="116" width="7" height="5" fill="#440080"/><rect x="439" y="116" width="6" height="5" fill="#4c0092"/><rect x="445" y="116" width="6" height="5" fill="#5400a6"/><rect x="451" y="116" width="6" height="5" fill="#5d00b9"/><rect x="457" y="116" width="6" height="5" fill="#6600cb"/><rect x="463" y="116" width="7" height="5" fill="#6e00db"/><rect x="470" y="116" width="6" height="5" fill="#7500ea"/><rect x="476" y="116" width="6" height="5" fill="#7b00f7"/><rect x="482" y="116" width="6" height="5" fill="#7f01fb"/><rect x="488" y="116" width="7" height="5" fill="#8302fe"/><rect x="495" y="116" width="6" height="5" fill="#8503fa"/><rect x="501" y="116" width="6" height="5" fill="#8805f2"/><rect x="507" y="116" width="6" height="5" fill="#8a06ec"/><rect x="513" y="116" width="6" height="5" fill="#8b07e7"/><rect x="519" y="116" width="6" height="5" fill="#8c08e4"/><rect x="74" y="121" width="4" height="6" fill="#8f0adb"/><rect x="78" y="121" width="6" height="6" fill="#8e09dc"/><rect x="84" y="121" width="6" height="6" fill="#8e09de"/><rect x="90" y="121" width="6" height="6" fill="#8d09e0"/><rect x="96" y="121" width="7" height="6" fill="#8c08e3"/><rect x="103" y="121" width="6" height="6" fill="#8b07e6"/><rect x="109" y="121" width="6" height="6" fill="#8a07ea"/><rect x="115" y="121" width="6" height="6" fill="#8906ee"/><rect x="121" y="121" width="6" height="6" fill="#8805f3"/><rect x="127" y="121" width="7" height="6" fill="#8604f7"/><rect x="134" y="121" width="6" height="6" fill="#8503fc"/><rect x="140" y="121" width="6" height="6" fill="#8302ff"/><rect x="146" y="121" width="6" height="6" fill="#8201fd"/><rect x="152" y="121" width="7" height="6" fill="#8001fb"/><rect x="159" y="121" width="6" height="6" fill="#7d00f9"/><rect x="165" y="121" width="6" height="6" fill="#7900f3"/><rect x="171" y="121" width="6" height="6" fill="#7400e8"/><rect x="177" y="121" width="6" height="6" fill="#6f00dd"/><rect x="183" y="121" width="7" height="6" fill="#6800d0"/><rect x="190" y="121" width="6" height="6" fill="#6000c1"/><rect x="196" y="121" width="6" height="6" fill="#5800ad"/><rect x="202" y="121" width="6" height="6" fill="#4e0098"/><rect x="208" y="121" width="7" height="6" fill="#450082"/><rect x="215" y="121" width="6" height="6" fill="#3a006b"/><rect x="221" y="121" width="6" height="6" fill="#33005a"/><rect x="227" y="121" width="6" height="6" fill="#320057"/><rect x="233" y="121" width="6" height="6" fill="#35005d"/><rect x="239" y="121" width="7" height="6" fill="#390067"/><rect x="246" y="121" width="6" height="6" fill="#3e0074"/><rect x="252" y="121" width="6" height="6" fill="#43007f"/><rect x="258" y="121" width="6" height="6" fill="#460085"/><rect x="264" y="121" width="7" height="6" fill="#460086"/><rect x="271" y="121" width="6" height="6" fill="#440082"/><rect x="277" y="121" width="6" height="6" fill="#41007a"/><rect x="283" y="121" width="6" height="6" fill="#3c006f"/><rect x="289" y="121" width="6" height="6" fill="#390068"/><rect x="295" y="121" width="7" height="6" fill="#370063"/><rect x="302" y="121" width="6" height="6" fill="#35005e"/><rect x="308" y="121" width="6" height="6" fill="#320058"/><rect x="314" y="121" width="6" height="6" fill="#300052"/><rect x="320" y="121" width="7" height="6" fill="#2e004e"/><rect x="327" y="121" width="12" height="6" fill="#2d004d"/><rect x="339" y="121" width="6" height="6" fill="#2e004d"/><rect x="345" y="121" width="6" height="6" fill="#2e004e"/><rect x="351" y="121" width="7" height="6" fill="#2f0050"/><rect x="358" y="121" width="6" height="6" fill="#300052"/><rect x="364" y="121" width="6" height="6" fill="#300054"/><rect x="370" y="121" width="6" height="6" fill="#310056"/><rect x="376" y="121" width="7" height="6" fill="#320058"/><rect x="383" y="121" width="6" height="6" fill="#330059"/><rect x="389" y="121" width="6" height="6" fill="#320057"/><rect x="395" y="121" width="6" height="6" fill="#2f0050"/><rect x="401" y="121" width="6" height="6" fill="#2a0045"/><rect x="407" y="121" width="7" height="6" fill="#28003f"/><rect x="414" y="121" width="6" height="6" fill="#2b0047"/><rect x="420" y="121" width="6" height="6" fill="#320058"/><rect x="426" y="121" width="6" height="6" fill="#3b006d"/><rect x="432" y="121" width="7" height="6" fill="#450082"/><rect x="439" y="121" width="6" height="6" fill="#4e0097"/><rect x="445" y="121" width="6" height="6" fill="#5800ad"/><rect x="451" y="121" width="6" height="6" fill="#6100c2"/><rect x="457" y="121" width="6" height="6" fill="#6900d3"/><rect x="463" y="121" width="7" height="6" fill="#7200e3"/><rect x="470" y="121" width="6" height="6" fill="#7900f2"/><rect x="476" y="121" width="6" height="6" fill="#7e01fa"/><rect x="482" y="121" width="6" height="6" fill="#8201fd"/><rect x="488" y="121" width="7" height="6" fill="#8503fb"/><rect x="495" y="121" width="6" height="6" fill="#8805f2"/><rect x="501" y="121" width="6" height="6" fill="#8a06eb"/><rect x="507" y="121" width="6" height="6" fill="#8c08e4"/><rect x="513" y="121" width="6" height="6" fill="#8e09df"/><rect x="519" y="121" width="6" height="6" fill="#8f0adb"/><rect x="74" y="127" width="4" height="5" fill="#910bd2"/><rect x="78" y="127" width="6" height="5" fill="#910bd3"/><rect x="84" y="127" width="6" height="5" fill="#910bd5"/><rect x="90" y="127" width="6" height="5" fill="#900bd7"/><rect x="96" y="127" width="7" height="5" fill="#8f0ada"/><rect x="103" y="127" width="6" height="5" fill="#8e09de"/><rect x="109" y="127" width="6" height="5" fill="#8d08e2"/><rect x="115" y="127" width="6" height="5" fill="#8b07e7"/><rect x="121" y="127" width="6" height="5" fill="#8a06ec"/><rect x="127" y="127" width="7" height="5" fill="#8805f1"/><rect x="134" y="127" width="6" height="5" fill="#8704f6"/><rect x="140" y="127" width="6" height="5" fill="#8503fb"/><rect x="146" y="127" width="6" height="5" fill="#8402ff"/><rect x="152" y="127" width="7" height="5" fill="#8101fd"/><rect x="159" y="127" width="6" height="5" fill="#7f01fb"/><rect x="165" y="127" width="6" height="5" fill="#7c00f8"/><rect x="171" y="127" width="6" height="5" fill="#7800f0"/><rect x="177" y="127" width="6" height="5" fill="#7200e5"/><rect x="183" y="127" width="7" height="5" fill="#6c00d7"/><rect x="190" y="127" width="6" height="5" fill="#6400c9"/><rect x="196" y="127" width="6" height="5" fill="#5c00b6"/><rect x="202" y="127" width="6" height="5" fill="#5200a0"/><rect x="208" y="127" width="7" height="5" fill="#48008a"/><rect x="215" y="127" width="6" height="5" fill="#3f0075"/><rect x="221" y="127" width="6" height="5" fill="#370064"/><rect x="227" y="127" width="6" height="5" fill="#370062"/><rect x="233" y="127" width="6" height="5" fill="#3a006a"/><rect x="239" y="127" width="7" height="5" fill="#3f0075"/><rect x="246" y="127" width="6" height="5" fill="#43007f"/><rect x="252" y="127" width="6" height="5" fill="#470087"/><rect x="258" y="127" width="6" height="5" fill="#49008c"/><rect x="264" y="127" width="7" height="5" fill="#48008a"/><rect x="271" y="127" width="6" height="5" fill="#460084"/><rect x="277" y="127" width="6" height="5" fill="#41007b"/><rect x="283" y="127" width="6" height="5" fill="#3d0071"/><rect x="289" y="127" width="6" height="5" fill="#3a0069"/><rect x="295" y="127" width="7" height="5" fill="#380065"/><rect x="302" y="127" width="6" height="5" fill="#370062"/><rect x="308" y="127" width="6" height="5" fill="#35005e"/><rect x="314" y="127" width="6" height="5" fill="#320058"/><rect x="320" y="127" width="7" height="5" fill="#300054"/><rect x="327" y="127" width="12" height="5" fill="#300052"/><rect x="339" y="127" width="6" height="5" fill="#300053"/><rect x="345" y="127" width="6" height="5" fill="#300054"/><rect x="351" y="127" width="7" height="5" fill="#310055"/><rect x="358" y="127" width="6" height="5" fill="#320057"/><rect x="364" y="127" width="6" height="5" fill="#330059"/><rect x="370" y="127" width="6" height="5" fill="#33005a"/><rect x="376" y="127" width="7" height="5" fill="#34005c"/><rect x="383" y="127" width="6" height="5" fill="#35005d"/><rect x="389" y="127" width="6" height="5" fill="#34005b"/><rect x="395" y="127" width="6" height="5" fill="#310054"/><rect x="401" y="127" width="6" height="5" fill="#2c0049"/><rect x="407" y="127" width="7" height="5" fill="#2a0044"/><rect x="414" y="127" width="6" height="5" fill="#2d004c"/><rect x="420" y="127" width="6" height="5" fill="#35005f"/><rect x="426" y="127" width="6" height="5" fill="#3f0076"/><rect x="432" y="127" width="7" height="5" fill="#48008a"/><rect x="439" y="127" width="6" height="5" fill="#5200a0"/><rect x="445" y="127" width="6" height="5" fill="#5c00b7"/><rect x="451" y="127" width="6" height="5" fill="#6500cb"/><rect x="457" y="127" width="6" height="5" fill="#6e00db"/><rect x="463" y="127" width="7" height="5" fill="#7600eb"/><rect x="470" y="127" width="6" height="5" fill="#7d00f9"/><rect x="476" y="127" width="6" height="5" fill="#8101fc"/><rect x="482" y="127" width="6" height="5" fill="#8402fe"/><rect x="488" y="127" width="7" height="5" fill="#8704f4"/><rect x="495" y="127" width="6" height="5" fill="#8a06eb"/><rect x="501" y="127" width="6" height="5" fill="#8c08e3"/><rect x="507" y="127" width="6" height="5" fill="#8e09dc"/><rect x="513" y="127" width="6" height="5" fill="#900bd7"/><rect x="519" y="127" width="6" height="5" fill="#910bd2"/><rect x="74" y="132" width="10" height="5" fill="#950ec6"/><rect x="84" y="132" width="6" height="5" fill="#940dc8"/><rect x="90" y="132" width="6" height="5" fill="#930dcc"/><rect x="96" y="132" width="7" height="5" fill="#920cd1"/><rect x="103" y="132" width="6" height="5" fill="#900bd5"/><rect x="109" y="132" width="6" height="5" fill="#8f0ada"/><rect x="115" y="132" width="6" height="5" fill="#8e09df"/><rect x="121" y="132" width="6" height="5" fill="#8c08e5"/><rect x="127" y="132" width="7" height="5" fill="#8a06eb"/><rect x="134" y="132" width="6" height="5" fill="#8805f0"/><rect x="140" y="132" width="6" height="5" fill="#8704f6"/><rect x="146" y="132" width="6" height="5" fill="#8503fc"/><rect x="152" y="132" width="7" height="5" fill="#8302fe"/><rect x="159" y="132" width="6" height="5" fill="#8101fc"/><rect x="165" y="132" width="6" height="5" fill="#7e01fa"/><rect x="171" y="132" width="6" height="5" fill="#7b00f6"/><rect x="177" y="132" width="6" height="5" fill="#7600ec"/><rect x="183" y="132" width="7" height="5" fill="#6f00df"/><rect x="190" y="132" width="6" height="5" fill="#6800d1"/><rect x="196" y="132" width="6" height="5" fill="#6000c0"/><rect x="202" y="132" width="6" height="5" fill="#5700ab"/><rect x="208" y="132" width="7" height="5" fill="#4d0095"/><rect x="215" y="132" width="6" height="5" fill="#440081"/><rect x="221" y="132" width="6" height="5" fill="#3f0075"/><rect x="227" y="132" width="6" height="5" fill="#3e0072"/><rect x="233" y="132" width="6" height="5" fill="#400079"/><rect x="239" y="132" width="7" height="5" fill="#430080"/><rect x="246" y="132" width="6" height="5" fill="#470087"/><rect x="252" y="132" width="6" height="5" fill="#4a008d"/><rect x="258" y="132" width="6" height="5" fill="#4b0090"/><rect x="264" y="132" width="7" height="5" fill="#4a008e"/><rect x="271" y="132" width="6" height="5" fill="#470087"/><rect x="277" y="132" width="6" height="5" fill="#42007d"/><rect x="283" y="132" width="6" height="5" fill="#3e0073"/><rect x="289" y="132" width="6" height="5" fill="#3b006c"/><rect x="295" y="132" width="7" height="5" fill="#3a0069"/><rect x="302" y="132" width="6" height="5" fill="#390068"/><rect x="308" y="132" width="6" height="5" fill="#390067"/><rect x="314" y="132" width="6" height="5" fill="#370063"/><rect x="320" y="132" width="7" height="5" fill="#35005f"/><rect x="327" y="132" width="6" height="5" fill="#35005d"/><rect x="333" y="132" width="12" height="5" fill="#35005e"/><rect x="345" y="132" width="6" height="5" fill="#35005f"/><rect x="351" y="132" width="7" height="5" fill="#360060"/><rect x="358" y="132" width="6" height="5" fill="#360061"/><rect x="364" y="132" width="6" height="5" fill="#370063"/><rect x="370" y="132" width="6" height="5" fill="#370064"/><rect x="376" y="132" width="13" height="5" fill="#380066"/><rect x="389" y="132" width="6" height="5" fill="#370064"/><rect x="395" y="132" width="6" height="5" fill="#34005d"/><rect x="401" y="132" width="6" height="5" fill="#300054"/><rect x="407" y="132" width="7" height="5" fill="#2f0050"/><rect x="414" y="132" width="6" height="5" fill="#33005a"/><rect x="420" y="132" width="6" height="5" fill="#3c006f"/><rect x="426" y="132" width="6" height="5" fill="#450083"/><rect x="432" y="132" width="7" height="5" fill="#4e0098"/><rect x="439" y="132" width="6" height="5" fill="#5900af"/><rect x="445" y="132" width="6" height="5" fill="#6300c5"/><rect x="451" y="132" width="6" height="5" fill="#6b00d7"/><rect x="457" y="132" width="6" height="5" fill="#7300e6"/><rect x="463" y="132" width="7" height="5" fill="#7a00f4"/><rect x="470" y="132" width="6" height="5" fill="#7f01fb"/><rect x="476" y="132" width="6" height="5" fill="#8302fe"/><rect x="482" y="132" width="6" height="5" fill="#8704f6"/><rect x="488" y="132" width="7" height="5" fill="#8906ed"/><rect x="495" y="132" width="6" height="5" fill="#8c08e5"/><rect x="501" y="132" width="6" height="5" fill="#8e09dc"/><rect x="507" y="132" width="6" height="5" fill="#910bd5"/><rect x="513" y="132" width="6" height="5" fill="#930cce"/><rect x="519" y="132" width="6" height="5" fill="#950ec6"/><rect x="74" y="137" width="4" height="5" fill="#9710bb"/><rect x="78" y="137" width="6" height="5" fill="#9810b9"/><rect x="84" y="137" width="6" height="5" fill="#9710bb"/><rect x="90" y="137" width="6" height="5" fill="#970fbe"/><rect x="96" y="137" width="7" height="5" fill="#950ec3"/><rect x="103" y="137" width="6" height="5" fill="#930dcb"/><rect x="109" y="137" width="6" height="5" fill="#910bd3"/><rect x="115" y="137" width="6" height="5" fill="#8f0ad8"/><rect x="121" y="137" width="6" height="5" fill="#8e09df"/><rect x="127" y="137" width="7" height="5" fill="#8c07e5"/><rect x="134" y="137" width="6" height="5" fill="#8a06ec"/><rect x="140" y="137" width="6" height="5" fill="#8805f2"/><rect x="146" y="137" width="6" height="5" fill="#8603f9"/><rect x="152" y="137" width="7" height="5" fill="#8402ff"/><rect x="159" y="137" width="6" height="5" fill="#8201fd"/><rect x="165" y="137" width="6" height="5" fill="#7f01fb"/><rect x="171" y="137" width="6" height="5" fill="#7d00f9"/><rect x="177" y="137" width="6" height="5" fill="#7900f2"/><rect x="183" y="137" width="7" height="5" fill="#7300e7"/><rect x="190" y="137" width="6" height="5" fill="#6d00da"/><rect x="196" y="137" width="6" height="5" fill="#6500cb"/><rect x="202" y="137" width="6" height="5" fill="#5c00b7"/><rect x="208" y="137" width="7" height="5" fill="#5300a2"/><rect x="215" y="137" width="6" height="5" fill="#4a008f"/><rect x="221" y="137" width="6" height="5" fill="#450083"/><rect x="227" y="137" width="6" height="5" fill="#440081"/><rect x="233" y="137" width="6" height="5" fill="#450084"/><rect x="239" y="137" width="7" height="5" fill="#480089"/><rect x="246" y="137" width="6" height="5" fill="#4a008e"/><rect x="252" y="137" width="6" height="5" fill="#4c0093"/><rect x="258" y="137" width="6" height="5" fill="#4d0094"/><rect x="264" y="137" width="7" height="5" fill="#4b0091"/><rect x="271" y="137" width="6" height="5" fill="#480089"/><rect x="277" y="137" width="6" height="5" fill="#430080"/><rect x="283" y="137" width="6" height="5" fill="#400077"/><rect x="289" y="137" width="6" height="5" fill="#3c0070"/><rect x="295" y="137" width="7" height="5" fill="#3b006d"/><rect x="302" y="137" width="6" height="5" fill="#3c006f"/><rect x="308" y="137" width="6" height="5" fill="#3d0071"/><rect x="314" y="137" width="6" height="5" fill="#3c006f"/><rect x="320" y="137" width="7" height="5" fill="#3b006d"/><rect x="327" y="137" width="18" height="5" fill="#3b006c"/><rect x="345" y="137" width="13" height="5" fill="#3b006d"/><rect x="358" y="137" width="6" height="5" fill="#3c006e"/><rect x="364" y="137" width="6" height="5" fill="#3c0070"/><rect x="370" y="137" width="6" height="5" fill="#3d0071"/><rect x="376" y="137" width="13" height="5" fill="#3d0072"/><rect x="389" y="137" width="6" height="5" fill="#3c006f"/><rect x="395" y="137" width="6" height="5" fill="#3a0069"/><rect x="401" y="137" width="13" height="5" fill="#370062"/><rect x="414" y="137" width="6" height="5" fill="#3c006f"/><rect x="420" y="137" width="6" height="5" fill="#450082"/><rect x="426" y="137" width="6" height="5" fill="#4d0095"/><rect x="432" y="137" width="7" height="5" fill="#5700aa"/><rect x="439" y="137" width="6" height="5" fill="#6100c3"/><rect x="445" y="137" width="6" height="5" fill="#6b00d6"/><rect x="451" y="137" width="6" height="5" fill="#7300e6"/><rect x="457" y="137" width="6" height="5" fill="#7900f2"/><rect x="463" y="137" width="7" height="5" fill="#7e00fa"/><rect x="470" y="137" width="6" height="5" fill="#8201fd"/><rect x="476" y="137" width="6" height="5" fill="#8603f9"/><rect x="482" y="137" width="6" height="5" fill="#8906ee"/><rect x="488" y="137" width="7" height="5" fill="#8b07e6"/><rect x="495" y="137" width="6" height="5" fill="#8e09df"/><rect x="501" y="137" width="6" height="5" fill="#900bd6"/><rect x="507" y="137" width="6" height="5" fill="#930ccd"/><rect x="513" y="137" width="6" height="5" fill="#950ec3"/><rect x="519" y="137" width="6" height="5" fill="#9710bb"/><rect x="74" y="142" width="4" height="5" fill="#9911b5"/><rect x="78" y="142" width="6" height="5" fill="#9911b2"/><rect x="84" y="142" width="6" height="5" fill="#9a11b2"/><rect x="90" y="142" width="6" height="5" fill="#9911b4"/><rect x="96" y="142" width="7" height="5" fill="#9810b9"/><rect x="103" y="142" width="6" height="5" fill="#960fc1"/><rect x="109" y="142" width="6" height="5" fill="#930dcb"/><rect x="115" y="142" width="6" height="5" fill="#910bd4"/><rect x="121" y="142" width="6" height="5" fill="#8f0ada"/><rect x="127" y="142" width="7" height="5" fill="#8d08e1"/><rect x="134" y="142" width="6" height="5" fill="#8b07e8"/><rect x="140" y="142" width="6" height="5" fill="#8905ef"/><rect x="146" y="142" width="6" height="5" fill="#8704f6"/><rect x="152" y="142" width="7" height="5" fill="#8502fd"/><rect x="159" y="142" width="6" height="5" fill="#8302fe"/><rect x="165" y="142" width="6" height="5" fill="#8001fc"/><rect x="171" y="142" width="6" height="5" fill="#7e01fa"/><rect x="177" y="142" width="6" height="5" fill="#7b00f7"/><rect x="183" y="142" width="7" height="5" fill="#7700ed"/><rect x="190" y="142" width="6" height="5" fill="#7100e2"/><rect x="196" y="142" width="6" height="5" fill="#6b00d5"/><rect x="202" y="142" width="6" height="5" fill="#6200c5"/><rect x="208" y="142" width="7" height="5" fill="#5900b0"/><rect x="215" y="142" width="6" height="5" fill="#51009d"/><rect x="221" y="142" width="6" height="5" fill="#4b0091"/><rect x="227" y="142" width="12" height="5" fill="#4a008e"/><rect x="239" y="142" width="7" height="5" fill="#4b0092"/><rect x="246" y="142" width="6" height="5" fill="#4d0095"/><rect x="252" y="142" width="12" height="5" fill="#4e0097"/><rect x="264" y="142" width="7" height="5" fill="#4c0094"/><rect x="271" y="142" width="6" height="5" fill="#49008c"/><rect x="277" y="142" width="6" height="5" fill="#450082"/><rect x="283" y="142" width="6" height="5" fill="#41007a"/><rect x="289" y="142" width="6" height="5" fill="#3e0074"/><rect x="295" y="142" width="7" height="5" fill="#3e0072"/><rect x="302" y="142" width="6" height="5" fill="#3f0076"/><rect x="308" y="142" width="6" height="5" fill="#410079"/><rect x="314" y="142" width="25" height="5" fill="#41007a"/><rect x="339" y="142" width="19" height="5" fill="#41007b"/><rect x="358" y="142" width="6" height="5" fill="#42007b"/><rect x="364" y="142" width="25" height="5" fill="#42007c"/><rect x="389" y="142" width="6" height="5" fill="#41007a"/><rect x="395" y="142" width="6" height="5" fill="#3f0076"/><rect x="401" y="142" width="6" height="5" fill="#3e0072"/><rect x="407" y="142" width="7" height="5" fill="#3f0075"/><rect x="414" y="142" width="6" height="5" fill="#440081"/><rect x="420" y="142" width="6" height="5" fill="#4c0094"/><rect x="426" y="142" width="6" height="5" fill="#5500a8"/><rect x="432" y="142" width="7" height="5" fill="#5f00bd"/><rect x="439" y="142" width="6" height="5" fill="#6a00d4"/><rect x="445" y="142" width="6" height="5" fill="#7400e8"/><rect x="451" y="142" width="6" height="5" fill="#7b00f5"/><rect x="457" y="142" width="6" height="5" fill="#7e01fa"/><rect x="463" y="142" width="7" height="5" fill="#8101fd"/><rect x="470" y="142" width="6" height="5" fill="#8402fd"/><rect x="476" y="142" width="6" height="5" fill="#8805f2"/><rect x="482" y="142" width="6" height="5" fill="#8b07e8"/><rect x="488" y="142" width="7" height="5" fill="#8d08e1"/><rect x="495" y="142" width="6" height="5" fill="#8f0ada"/><rect x="501" y="142" width="6" height="5" fill="#910cd2"/><rect x="507" y="142" width="6" height="5" fill="#950ec6"/><rect x="513" y="142" width="6" height="5" fill="#9710bc"/><rect x="519" y="142" width="6" height="5" fill="#9911b5"/><rect x="74" y="147" width="4" height="5" fill="#9911b4"/><rect x="78" y="147" width="6" height="5" fill="#9a12b0"/><rect x="84" y="147" width="6" height="5" fill="#9a12ae"/><rect x="90" y="147" width="6" height="5" fill="#9a12b0"/><rect x="96" y="147" width="7" height="5" fill="#9911b4"/><rect x="103" y="147" width="6" height="5" fill="#9710bb"/><rect x="109" y="147" width="6" height="5" fill="#950ec5"/><rect x="115" y="147" width="6" height="5" fill="#920cd0"/><rect x="121" y="147" width="6" height="5" fill="#900ad7"/><rect x="127" y="147" width="7" height="5" fill="#8e09de"/><rect x="134" y="147" width="6" height="5" fill="#8c07e6"/><rect x="140" y="147" width="6" height="5" fill="#8906ed"/><rect x="146" y="147" width="6" height="5" fill="#8704f4"/><rect x="152" y="147" width="7" height="5" fill="#8503fb"/><rect x="159" y="147" width="6" height="5" fill="#8302fe"/><rect x="165" y="147" width="6" height="5" fill="#8101fd"/><rect x="171" y="147" width="6" height="5" fill="#7f01fb"/><rect x="177" y="147" width="6" height="5" fill="#7d00f9"/><rect x="183" y="147" width="7" height="5" fill="#7900f2"/><rect x="190" y="147" width="6" height="5" fill="#7500e9"/><rect x="196" y="147" width="6" height="5" fill="#6f00de"/><rect x="202" y="147" width="6" height="5" fill="#6800cf"/><rect x="208" y="147" width="7" height="5" fill="#5f00be"/><rect x="215" y="147" width="6" height="5" fill="#5700ab"/><rect x="221" y="147" width="6" height="5" fill="#51009e"/><rect x="227" y="147" width="12" height="5" fill="#4f0099"/><rect x="239" y="147" width="7" height="5" fill="#4f009a"/><rect x="246" y="147" width="12" height="5" fill="#50009c"/><rect x="258" y="147" width="6" height="5" fill="#50009b"/><rect x="264" y="147" width="7" height="5" fill="#4e0096"/><rect x="271" y="147" width="6" height="5" fill="#4a008f"/><rect x="277" y="147" width="6" height="5" fill="#460086"/><rect x="283" y="147" width="6" height="5" fill="#43007f"/><rect x="289" y="147" width="6" height="5" fill="#41007a"/><rect x="295" y="147" width="7" height="5" fill="#400079"/><rect x="302" y="147" width="6" height="5" fill="#42007c"/><rect x="308" y="147" width="6" height="5" fill="#43007f"/><rect x="314" y="147" width="6" height="5" fill="#450082"/><rect x="320" y="147" width="19" height="5" fill="#450084"/><rect x="339" y="147" width="25" height="5" fill="#460085"/><rect x="364" y="147" width="6" height="5" fill="#450083"/><rect x="370" y="147" width="19" height="5" fill="#440082"/><rect x="389" y="147" width="6" height="5" fill="#440081"/><rect x="395" y="147" width="6" height="5" fill="#43007f"/><rect x="401" y="147" width="6" height="5" fill="#42007d"/><rect x="407" y="147" width="7" height="5" fill="#43007f"/><rect x="414" y="147" width="6" height="5" fill="#49008c"/><rect x="420" y="147" width="6" height="5" fill="#5200a1"/><rect x="426" y="147" width="6" height="5" fill="#5c00b7"/><rect x="432" y="147" width="7" height="5" fill="#6600cc"/><rect x="439" y="147" width="6" height="5" fill="#7000e1"/><rect x="445" y="147" width="6" height="5" fill="#7a00f4"/><rect x="451" y="147" width="6" height="5" fill="#7f01fb"/><rect x="457" y="147" width="6" height="5" fill="#8202fd"/><rect x="463" y="147" width="7" height="5" fill="#8502fd"/><rect x="470" y="147" width="6" height="5" fill="#8704f6"/><rect x="476" y="147" width="6" height="5" fill="#8906ed"/><rect x="482" y="147" width="6" height="5" fill="#8c08e4"/><rect x="488" y="147" width="7" height="5" fill="#8e09de"/><rect x="495" y="147" width="6" height="5" fill="#900ad7"/><rect x="501" y="147" width="6" height="5" fill="#920ccf"/><rect x="507" y="147" width="6" height="5" fill="#950ec2"/><rect x="513" y="147" width="6" height="5" fill="#9810ba"/><rect x="519" y="147" width="6" height="5" fill="#9911b4"/><rect x="74" y="152" width="4" height="6" fill="#9911b3"/><rect x="78" y="152" width="6" height="6" fill="#9a12b0"/><rect x="84" y="152" width="6" height="6" fill="#9a12ae"/><rect x="90" y="152" width="6" height="6" fill="#9a12af"/><rect x="96" y="152" width="7" height="6" fill="#9911b3"/><rect x="103" y="152" width="6" height="6" fill="#9810ba"/><rect x="109" y="152" width="6" height="6" fill="#950ec2"/><rect x="115" y="152" width="6" height="6" fill="#930dcd"/><rect x="121" y="152" width="6" height="6" fill="#910bd5"/><rect x="127" y="152" width="7" height="6" fill="#8e09dc"/><rect x="134" y="152" width="6" height="6" fill="#8c08e4"/><rect x="140" y="152" width="6" height="6" fill="#8a06eb"/><rect x="146" y="152" width="6" height="6" fill="#8805f2"/><rect x="152" y="152" width="7" height="6" fill="#8603f9"/><rect x="159" y="152" width="6" height="6" fill="#8402ff"/><rect x="165" y="152" width="6" height="6" fill="#8202fd"/><rect x="171" y="152" width="6" height="6" fill="#8001fc"/><rect x="177" y="152" width="6" height="6" fill="#7e00fa"/><rect x="183" y="152" width="7" height="6" fill="#7b00f6"/><rect x="190" y="152" width="6" height="6" fill="#7700ef"/><rect x="196" y="152" width="6" height="6" fill="#7300e6"/><rect x="202" y="152" width="6" height="6" fill="#6d00d9"/><rect x="208" y="152" width="7" height="6" fill="#6500ca"/><rect x="215" y="152" width="6" height="6" fill="#5d00b9"/><rect x="221" y="152" width="6" height="6" fill="#5600a8"/><rect x="227" y="152" width="6" height="6" fill="#5300a2"/><rect x="233" y="152" width="6" height="6" fill="#5300a3"/><rect x="239" y="152" width="13" height="6" fill="#5400a4"/><rect x="252" y="152" width="6" height="6" fill="#5300a2"/><rect x="258" y="152" width="6" height="6" fill="#51009f"/><rect x="264" y="152" width="7" height="6" fill="#4f0099"/><rect x="271" y="152" width="6" height="6" fill="#4c0093"/><rect x="277" y="152" width="6" height="6" fill="#49008c"/><rect x="283" y="152" width="6" height="6" fill="#460085"/><rect x="289" y="152" width="6" height="6" fill="#440081"/><rect x="295" y="152" width="7" height="6" fill="#430080"/><rect x="302" y="152" width="6" height="6" fill="#440082"/><rect x="308" y="152" width="6" height="6" fill="#460086"/><rect x="314" y="152" width="6" height="6" fill="#48008a"/><rect x="320" y="152" width="19" height="6" fill="#49008c"/><rect x="339" y="152" width="12" height="6" fill="#49008b"/><rect x="351" y="152" width="7" height="6" fill="#48008b"/><rect x="358" y="152" width="6" height="6" fill="#48008a"/><rect x="364" y="152" width="6" height="6" fill="#470087"/><rect x="370" y="152" width="6" height="6" fill="#460085"/><rect x="376" y="152" width="25" height="6" fill="#450084"/><rect x="401" y="152" width="6" height="6" fill="#450083"/><rect x="407" y="152" width="7" height="6" fill="#460086"/><rect x="414" y="152" width="6" height="6" fill="#4d0095"/><rect x="420" y="152" width="6" height="6" fill="#5700ac"/><rect x="426" y="152" width="6" height="6" fill="#6200c4"/><rect x="432" y="152" width="7" height="6" fill="#6c00d8"/><rect x="439" y="152" width="6" height="6" fill="#7600ec"/><rect x="445" y="152" width="6" height="6" fill="#7e00f9"/><rect x="451" y="152" width="6" height="6" fill="#8202fd"/><rect x="457" y="152" width="6" height="6" fill="#8503fb"/><rect x="463" y="152" width="7" height="6" fill="#8805f3"/><rect x="470" y="152" width="6" height="6" fill="#8a06ec"/><rect x="476" y="152" width="6" height="6" fill="#8c08e5"/><rect x="482" y="152" width="6" height="6" fill="#8e09de"/><rect x="488" y="152" width="7" height="6" fill="#8f0ad9"/><rect x="495" y="152" width="6" height="6" fill="#910bd4"/><rect x="501" y="152" width="6" height="6" fill="#940dca"/><rect x="507" y="152" width="6" height="6" fill="#970fbe"/><rect x="513" y="152" width="6" height="6" fill="#9810b7"/><rect x="519" y="152" width="6" height="6" fill="#9911b3"/><rect x="74" y="158" width="4" height="5" fill="#9a12ae"/><rect x="78" y="158" width="6" height="5" fill="#9b12ae"/><rect x="84" y="158" width="6" height="5" fill="#9a12af"/><rect x="90" y="158" width="6" height="5" fill="#9a11b1"/><rect x="96" y="158" width="7" height="5" fill="#9911b5"/><rect x="103" y="158" width="6" height="5" fill="#9710bb"/><rect x="109" y="158" width="6" height="5" fill="#950ec2"/><rect x="115" y="158" width="6" height="5" fill="#930dcb"/><rect x="121" y="158" width="6" height="5" fill="#910bd3"/><rect x="127" y="158" width="7" height="5" fill="#8f0ad9"/><rect x="134" y="158" width="6" height="5" fill="#8d08e1"/><rect x="140" y="158" width="6" height="5" fill="#8b07e8"/><rect x="146" y="158" width="6" height="5" fill="#8905ef"/><rect x="152" y="158" width="7" height="5" fill="#8704f6"/><rect x="159" y="158" width="6" height="5" fill="#8503fc"/><rect x="165" y="158" width="6" height="5" fill="#8302fe"/><rect x="171" y="158" width="6" height="5" fill="#8101fc"/><rect x="177" y="158" width="6" height="5" fill="#7f01fb"/><rect x="183" y="158" width="7" height="5" fill="#7d00f9"/><rect x="190" y="158" width="6" height="5" fill="#7a00f5"/><rect x="196" y="158" width="6" height="5" fill="#7600ed"/><rect x="202" y="158" width="6" height="5" fill="#7100e3"/><rect x="208" y="158" width="7" height="5" fill="#6b00d6"/><rect x="215" y="158" width="6" height="5" fill="#6200c5"/><rect x="221" y="158" width="6" height="5" fill="#5900b0"/><rect x="227" y="158" width="6" height="5" fill="#5600aa"/><rect x="233" y="158" width="6" height="5" fill="#5900af"/><rect x="239" y="158" width="7" height="5" fill="#5a00b1"/><rect x="246" y="158" width="6" height="5" fill="#5900af"/><rect x="252" y="158" width="6" height="5" fill="#5700ac"/><rect x="258" y="158" width="6" height="5" fill="#5500a6"/><rect x="264" y="158" width="7" height="5" fill="#5200a0"/><rect x="271" y="158" width="6" height="5" fill="#4f009a"/><rect x="277" y="158" width="6" height="5" fill="#4c0094"/><rect x="283" y="158" width="6" height="5" fill="#4a008e"/><rect x="289" y="158" width="6" height="5" fill="#480089"/><rect x="295" y="158" width="7" height="5" fill="#470088"/><rect x="302" y="158" width="6" height="5" fill="#480089"/><rect x="308" y="158" width="6" height="5" fill="#4a008e"/><rect x="314" y="158" width="6" height="5" fill="#4c0092"/><rect x="320" y="158" width="7" height="5" fill="#4d0094"/><rect x="327" y="158" width="6" height="5" fill="#4c0093"/><rect x="333" y="158" width="6" height="5" fill="#4b0091"/><rect x="339" y="158" width="6" height="5" fill="#4a008e"/><rect x="345" y="158" width="6" height="5" fill="#49008c"/><rect x="351" y="158" width="7" height="5" fill="#49008b"/><rect x="358" y="158" width="6" height="5" fill="#48008a"/><rect x="364" y="158" width="6" height="5" fill="#470087"/><rect x="370" y="158" width="6" height="5" fill="#450084"/><rect x="376" y="158" width="19" height="5" fill="#450083"/><rect x="395" y="158" width="6" height="5" fill="#450084"/><rect x="401" y="158" width="6" height="5" fill="#460085"/><rect x="407" y="158" width="7" height="5" fill="#49008b"/><rect x="414" y="158" width="6" height="5" fill="#51009e"/><rect x="420" y="158" width="6" height="5" fill="#5d00b8"/><rect x="426" y="158" width="6" height="5" fill="#6800d1"/><rect x="432" y="158" width="7" height="5" fill="#7200e5"/><rect x="439" y="158" width="6" height="5" fill="#7b00f6"/><rect x="445" y="158" width="6" height="5" fill="#8001fb"/><rect x="451" y="158" width="6" height="5" fill="#8402ff"/><rect x="457" y="158" width="6" height="5" fill="#8805f3"/><rect x="463" y="158" width="7" height="5" fill="#8b07e8"/><rect x="470" y="158" width="6" height="5" fill="#8e09df"/><rect x="476" y="158" width="6" height="5" fill="#8f0ad9"/><rect x="482" y="158" width="6" height="5" fill="#910bd4"/><rect x="488" y="158" width="7" height="5" fill="#920cd0"/><rect x="495" y="158" width="6" height="5" fill="#940dc9"/><rect x="501" y="158" width="6" height="5" fill="#960fbf"/><rect x="507" y="158" width="6" height="5" fill="#9911b6"/><rect x="513" y="158" width="6" height="5" fill="#9a12b1"/><rect x="519" y="158" width="6" height="5" fill="#9a12ae"/><rect x="74" y="163" width="4" height="5" fill="#9b12ac"/><rect x="78" y="163" width="6" height="5" fill="#9a12af"/><rect x="84" y="163" width="6" height="5" fill="#9a12b1"/><rect x="90" y="163" width="6" height="5" fill="#9911b3"/><rect x="96" y="163" width="7" height="5" fill="#9810b7"/><rect x="103" y="163" width="6" height="5" fill="#9710bb"/><rect x="109" y="163" width="6" height="5" fill="#950ec2"/><rect x="115" y="163" width="6" height="5" fill="#930dcc"/><rect x="121" y="163" width="6" height="5" fill="#910bd2"/><rect x="127" y="163" width="7" height="5" fill="#900ad7"/><rect x="134" y="163" width="6" height="5" fill="#8e09dd"/><rect x="140" y="163" width="6" height="5" fill="#8c08e3"/><rect x="146" y="163" width="6" height="5" fill="#8a07ea"/><rect x="152" y="163" width="7" height="5" fill="#8905ef"/><rect x="159" y="163" width="6" height="5" fill="#8704f5"/><rect x="165" y="163" width="6" height="5" fill="#8503fa"/><rect x="171" y="163" width="6" height="5" fill="#8302fe"/><rect x="177" y="163" width="6" height="5" fill="#8101fc"/><rect x="183" y="163" width="7" height="5" fill="#7e01fa"/><rect x="190" y="163" width="6" height="5" fill="#7d00f9"/><rect x="196" y="163" width="6" height="5" fill="#7b00f6"/><rect x="202" y="163" width="6" height="5" fill="#7600ec"/><rect x="208" y="163" width="7" height="5" fill="#6f00de"/><rect x="215" y="163" width="6" height="5" fill="#6600cb"/><rect x="221" y="163" width="6" height="5" fill="#5c00b6"/><rect x="227" y="163" width="6" height="5" fill="#5b00b5"/><rect x="233" y="163" width="6" height="5" fill="#6100c2"/><rect x="239" y="163" width="7" height="5" fill="#6300c6"/><rect x="246" y="163" width="6" height="5" fill="#6200c4"/><rect x="252" y="163" width="6" height="5" fill="#6000bf"/><rect x="258" y="163" width="6" height="5" fill="#5d00b9"/><rect x="264" y="163" width="7" height="5" fill="#5b00b3"/><rect x="271" y="163" width="6" height="5" fill="#5800ad"/><rect x="277" y="163" width="6" height="5" fill="#5500a6"/><rect x="283" y="163" width="6" height="5" fill="#52009f"/><rect x="289" y="163" width="6" height="5" fill="#4f009a"/><rect x="295" y="163" width="13" height="5" fill="#4e0096"/><rect x="308" y="163" width="6" height="5" fill="#4f0099"/><rect x="314" y="163" width="6" height="5" fill="#50009b"/><rect x="320" y="163" width="7" height="5" fill="#50009c"/><rect x="327" y="163" width="6" height="5" fill="#4f009a"/><rect x="333" y="163" width="6" height="5" fill="#4d0095"/><rect x="339" y="163" width="6" height="5" fill="#4b0090"/><rect x="345" y="163" width="6" height="5" fill="#49008c"/><rect x="351" y="163" width="7" height="5" fill="#48008a"/><rect x="358" y="163" width="6" height="5" fill="#470088"/><rect x="364" y="163" width="6" height="5" fill="#450084"/><rect x="370" y="163" width="6" height="5" fill="#440081"/><rect x="376" y="163" width="13" height="5" fill="#440080"/><rect x="389" y="163" width="6" height="5" fill="#440081"/><rect x="395" y="163" width="6" height="5" fill="#450082"/><rect x="401" y="163" width="6" height="5" fill="#460086"/><rect x="407" y="163" width="7" height="5" fill="#4a008f"/><rect x="414" y="163" width="6" height="5" fill="#5300a3"/><rect x="420" y="163" width="6" height="5" fill="#6000bf"/><rect x="426" y="163" width="6" height="5" fill="#6c00d8"/><rect x="432" y="163" width="7" height="5" fill="#7700ed"/><rect x="439" y="163" width="6" height="5" fill="#7e00fa"/><rect x="445" y="163" width="6" height="5" fill="#8202fe"/><rect x="451" y="163" width="6" height="5" fill="#8603f8"/><rect x="457" y="163" width="6" height="5" fill="#8a06ec"/><rect x="463" y="163" width="7" height="5" fill="#8d09e0"/><rect x="470" y="163" width="6" height="5" fill="#900ad7"/><rect x="476" y="163" width="6" height="5" fill="#920cd1"/><rect x="482" y="163" width="6" height="5" fill="#940dc9"/><rect x="488" y="163" width="7" height="5" fill="#950ec4"/><rect x="495" y="163" width="6" height="5" fill="#960fbf"/><rect x="501" y="163" width="6" height="5" fill="#9811b7"/><rect x="507" y="163" width="6" height="5" fill="#9a12af"/><rect x="513" y="163" width="12" height="5" fill="#9b12ac"/><rect x="74" y="168" width="4" height="5" fill="#9a12af"/><rect x="78" y="168" width="6" height="5" fill="#9911b3"/><rect x="84" y="168" width="12" height="5" fill="#9911b2"/><rect x="96" y="168" width="7" height="5" fill="#9911b3"/><rect x="103" y="168" width="6" height="5" fill="#9911b4"/><rect x="109" y="168" width="6" height="5" fill="#9710bc"/><rect x="115" y="168" width="6" height="5" fill="#930dcd"/><rect x="121" y="168" width="6" height="5" fill="#910bd4"/><rect x="127" y="168" width="7" height="5" fill="#910bd5"/><rect x="134" y="168" width="6" height="5" fill="#900bd7"/><rect x="140" y="168" width="6" height="5" fill="#8f0ada"/><rect x="146" y="168" width="6" height="5" fill="#8e09dd"/><rect x="152" y="168" width="7" height="5" fill="#8d09e0"/><rect x="159" y="168" width="6" height="5" fill="#8c08e3"/><rect x="165" y="168" width="6" height="5" fill="#8b07e8"/><rect x="171" y="168" width="6" height="5" fill="#8805f2"/><rect x="177" y="168" width="6" height="5" fill="#8302fe"/><rect x="183" y="168" width="7" height="5" fill="#8001fc"/><rect x="190" y="168" width="6" height="5" fill="#8001fb"/><rect x="196" y="168" width="6" height="5" fill="#7f01fb"/><rect x="202" y="168" width="6" height="5" fill="#7c00f8"/><rect x="208" y="168" width="7" height="5" fill="#7100e2"/><rect x="215" y="168" width="6" height="5" fill="#6700cf"/><rect x="221" y="168" width="6" height="5" fill="#6100c1"/><rect x="227" y="168" width="6" height="5" fill="#6500ca"/><rect x="233" y="168" width="6" height="5" fill="#6f00de"/><rect x="239" y="168" width="13" height="5" fill="#7300e6"/><rect x="252" y="168" width="6" height="5" fill="#7100e3"/><rect x="258" y="168" width="6" height="5" fill="#6f00df"/><rect x="264" y="168" width="7" height="5" fill="#6d00da"/><rect x="271" y="168" width="6" height="5" fill="#6b00d5"/><rect x="277" y="168" width="6" height="5" fill="#6700ce"/><rect x="283" y="168" width="6" height="5" fill="#6300c7"/><rect x="289" y="168" width="6" height="5" fill="#5f00bd"/><rect x="295" y="168" width="7" height="5" fill="#5b00b4"/><rect x="302" y="168" width="6" height="5" fill="#5800ae"/><rect x="308" y="168" width="6" height="5" fill="#5600aa"/><rect x="314" y="168" width="6" height="5" fill="#5500a7"/><rect x="320" y="168" width="7" height="5" fill="#5400a4"/><rect x="327" y="168" width="6" height="5" fill="#5300a1"/><rect x="333" y="168" width="6" height="5" fill="#50009d"/><rect x="339" y="168" width="6" height="5" fill="#4d0095"/><rect x="345" y="168" width="6" height="5" fill="#49008d"/><rect x="351" y="168" width="7" height="5" fill="#470088"/><rect x="358" y="168" width="6" height="5" fill="#460085"/><rect x="364" y="168" width="6" height="5" fill="#440080"/><rect x="370" y="168" width="6" height="5" fill="#42007d"/><rect x="376" y="168" width="13" height="5" fill="#42007c"/><rect x="389" y="168" width="6" height="5" fill="#43007e"/><rect x="395" y="168" width="6" height="5" fill="#440082"/><rect x="401" y="168" width="6" height="5" fill="#460087"/><rect x="407" y="168" width="7" height="5" fill="#4b0090"/><rect x="414" y="168" width="6" height="5" fill="#5300a2"/><rect x="420" y="168" width="6" height="5" fill="#5f00bd"/><rect x="426" y="168" width="6" height="5" fill="#6c00d7"/><rect x="432" y="168" width="7" height="5" fill="#7700ef"/><rect x="439" y="168" width="6" height="5" fill="#8001fb"/><rect x="445" y="168" width="6" height="5" fill="#8503fb"/><rect x="451" y="168" width="6" height="5" fill="#8906ee"/><rect x="457" y="168" width="6" height="5" fill="#8c08e3"/><rect x="463" y="168" width="7" height="5" fill="#8e09dd"/><rect x="470" y="168" width="6" height="5" fill="#8f0ada"/><rect x="476" y="168" width="6" height="5" fill="#910bd4"/><rect x="482" y="168" width="6" height="5" fill="#930dcc"/><rect x="488" y="168" width="7" height="5" fill="#950ec5"/><rect x="495" y="168" width="6" height="5" fill="#970fbe"/><rect x="501" y="168" width="6" height="5" fill="#9911b4"/><rect x="507" y="168" width="6" height="5" fill="#9b12ad"/><rect x="513" y="168" width="6" height="5" fill="#9b13ab"/><rect x="519" y="168" width="6" height="5" fill="#9a12af"/><rect x="74" y="173" width="4" height="5" fill="#a01699"/><rect x="78" y="173" width="6" height="5" fill="#a0169a"/><rect x="84" y="173" width="6" height="5" fill="#a01698"/><rect x="90" y="173" width="13" height="5" fill="#a01697"/><rect x="103" y="173" width="6" height="5" fill="#a01696"/><rect x="109" y="173" width="6" height="5" fill="#9e15a0"/><rect x="115" y="173" width="6" height="5" fill="#9a11b1"/><rect x="121" y="173" width="6" height="5" fill="#970fbd"/><rect x="127" y="173" width="7" height="5" fill="#960fc2"/><rect x="134" y="173" width="6" height="5" fill="#950ec5"/><rect x="140" y="173" width="6" height="5" fill="#940ec7"/><rect x="146" y="173" width="6" height="5" fill="#940dca"/><rect x="152" y="173" width="7" height="5" fill="#930dcd"/><rect x="159" y="173" width="6" height="5" fill="#910bd5"/><rect x="165" y="173" width="6" height="5" fill="#8d09e0"/><rect x="171" y="173" width="6" height="5" fill="#8a06ec"/><rect x="177" y="173" width="6" height="5" fill="#8603fa"/><rect x="183" y="173" width="19" height="5" fill="#8302fe"/><rect x="202" y="173" width="6" height="5" fill="#8001fb"/><rect x="208" y="173" width="7" height="5" fill="#7800f0"/><rect x="215" y="173" width="6" height="5" fill="#6f00de"/><rect x="221" y="173" width="6" height="5" fill="#6c00d7"/><rect x="227" y="173" width="6" height="5" fill="#7300e6"/><rect x="233" y="173" width="6" height="5" fill="#7e00fa"/><rect x="239" y="173" width="7" height="5" fill="#8101fc"/><rect x="246" y="173" width="6" height="5" fill="#8101fd"/><rect x="252" y="173" width="6" height="5" fill="#8101fc"/><rect x="258" y="173" width="6" height="5" fill="#8001fb"/><rect x="264" y="173" width="7" height="5" fill="#7f01fa"/><rect x="271" y="173" width="6" height="5" fill="#7d00f9"/><rect x="277" y="173" width="6" height="5" fill="#7a00f4"/><rect x="283" y="173" width="6" height="5" fill="#7500ea"/><rect x="289" y="173" width="6" height="5" fill="#6f00de"/><rect x="295" y="173" width="7" height="5" fill="#6900d2"/><rect x="302" y="173" width="6" height="5" fill="#6400c8"/><rect x="308" y="173" width="6" height="5" fill="#5f00bd"/><rect x="314" y="173" width="6" height="5" fill="#5b00b4"/><rect x="320" y="173" width="7" height="5" fill="#5800ad"/><rect x="327" y="173" width="6" height="5" fill="#5600aa"/><rect x="333" y="173" width="6" height="5" fill="#5400a5"/><rect x="339" y="173" width="6" height="5" fill="#50009b"/><rect x="345" y="173" width="6" height="5" fill="#4a008f"/><rect x="351" y="173" width="7" height="5" fill="#470087"/><rect x="358" y="173" width="6" height="5" fill="#440081"/><rect x="364" y="173" width="6" height="5" fill="#41007b"/><rect x="370" y="173" width="6" height="5" fill="#400077"/><rect x="376" y="173" width="7" height="5" fill="#3f0075"/><rect x="383" y="173" width="6" height="5" fill="#400077"/><rect x="389" y="173" width="6" height="5" fill="#41007b"/><rect x="395" y="173" width="6" height="5" fill="#440080"/><rect x="401" y="173" width="6" height="5" fill="#460086"/><rect x="407" y="173" width="7" height="5" fill="#4b0090"/><rect x="414" y="173" width="6" height="5" fill="#5200a1"/><rect x="420" y="173" width="6" height="5" fill="#5d00ba"/><rect x="426" y="173" width="6" height="5" fill="#6b00d5"/><rect x="432" y="173" width="7" height="5" fill="#7800ef"/><rect x="439" y="173" width="6" height="5" fill="#8101fc"/><rect x="445" y="173" width="6" height="5" fill="#8805f3"/><rect x="451" y="173" width="6" height="5" fill="#8d08e2"/><rect x="457" y="173" width="6" height="5" fill="#8f0adb"/><rect x="463" y="173" width="7" height="5" fill="#8f0ad9"/><rect x="470" y="173" width="6" height="5" fill="#910bd5"/><rect x="476" y="173" width="6" height="5" fill="#940dca"/><rect x="482" y="173" width="6" height="5" fill="#960fbf"/><rect x="488" y="173" width="7" height="5" fill="#9811b6"/><rect x="495" y="173" width="6" height="5" fill="#9c13aa"/><rect x="501" y="173" width="6" height="5" fill="#9e14a0"/><rect x="507" y="173" width="6" height="5" fill="#9f159c"/><rect x="513" y="173" width="12" height="5" fill="#a01699"/><rect x="74" y="178" width="4" height="5" fill="#af1f4c"/><rect x="78" y="178" width="6" height="5" fill="#b2223b"/><rect x="84" y="178" width="25" height="5" fill="#b2223a"/><rect x="109" y="178" width="6" height="5" fill="#b02049"/><rect x="115" y="178" width="6" height="5" fill="#a91c6a"/><rect x="121" y="178" width="6" height="5" fill="#a3188a"/><rect x="127" y="178" width="7" height="5" fill="#9e14a0"/><rect x="134" y="178" width="6" height="5" fill="#9b12ac"/><rect x="140" y="178" width="6" height="5" fill="#9a12b1"/><rect x="146" y="178" width="6" height="5" fill="#9a11b2"/><rect x="152" y="178" width="7" height="5" fill="#9810b7"/><rect x="159" y="178" width="6" height="5" fill="#940dc9"/><rect x="165" y="178" width="6" height="5" fill="#900ad8"/><rect x="171" y="178" width="6" height="5" fill="#8c08e4"/><rect x="177" y="178" width="6" height="5" fill="#8905ef"/><rect x="183" y="178" width="7" height="5" fill="#8603f9"/><rect x="190" y="178" width="12" height="5" fill="#8402ff"/><rect x="202" y="178" width="6" height="5" fill="#8302fe"/><rect x="208" y="178" width="7" height="5" fill="#8001fb"/><rect x="215" y="178" width="6" height="5" fill="#7a00f4"/><rect x="221" y="178" width="6" height="5" fill="#7800f0"/><rect x="227" y="178" width="6" height="5" fill="#7f01fb"/><rect x="233" y="178" width="6" height="5" fill="#8503fb"/><rect x="239" y="178" width="13" height="5" fill="#8704f4"/><rect x="252" y="178" width="6" height="5" fill="#8704f5"/><rect x="258" y="178" width="6" height="5" fill="#8603f8"/><rect x="264" y="178" width="7" height="5" fill="#8503fd"/><rect x="271" y="178" width="6" height="5" fill="#8302fe"/><rect x="277" y="178" width="6" height="5" fill="#8001fc"/><rect x="283" y="178" width="6" height="5" fill="#7d00f9"/><rect x="289" y="178" width="6" height="5" fill="#7900f1"/><rect x="295" y="178" width="7" height="5" fill="#7200e5"/><rect x="302" y="178" width="6" height="5" fill="#6c00d9"/><rect x="308" y="178" width="6" height="5" fill="#6600cd"/><rect x="314" y="178" width="6" height="5" fill="#6100c1"/><rect x="320" y="178" width="7" height="5" fill="#5c00b8"/><rect x="327" y="178" width="6" height="5" fill="#5a00b2"/><rect x="333" y="178" width="6" height="5" fill="#5700ac"/><rect x="339" y="178" width="6" height="5" fill="#51009f"/><rect x="345" y="178" width="6" height="5" fill="#4b0090"/><rect x="351" y="178" width="7" height="5" fill="#460085"/><rect x="358" y="178" width="6" height="5" fill="#42007d"/><rect x="364" y="178" width="6" height="5" fill="#3f0075"/><rect x="370" y="178" width="6" height="5" fill="#3c006f"/><rect x="376" y="178" width="7" height="5" fill="#3b006d"/><rect x="383" y="178" width="6" height="5" fill="#3c006f"/><rect x="389" y="178" width="6" height="5" fill="#3f0075"/><rect x="395" y="178" width="6" height="5" fill="#42007d"/><rect x="401" y="178" width="6" height="5" fill="#460085"/><rect x="407" y="178" width="7" height="5" fill="#4b0090"/><rect x="414" y="178" width="6" height="5" fill="#5200a1"/><rect x="420" y="178" width="6" height="5" fill="#5e00bb"/><rect x="426" y="178" width="6" height="5" fill="#6b00d7"/><rect x="432" y="178" width="7" height="5" fill="#7900f3"/><rect x="439" y="178" width="6" height="5" fill="#8302fe"/><rect x="445" y="178" width="6" height="5" fill="#8a06eb"/><rect x="451" y="178" width="6" height="5" fill="#900ad8"/><rect x="457" y="178" width="6" height="5" fill="#920cd0"/><rect x="463" y="178" width="7" height="5" fill="#930dcb"/><rect x="470" y="178" width="6" height="5" fill="#970fbe"/><rect x="476" y="178" width="6" height="5" fill="#9911b3"/><rect x="482" y="178" width="6" height="5" fill="#9b13ab"/><rect x="488" y="178" width="7" height="5" fill="#9e159f"/><rect x="495" y="178" width="6" height="5" fill="#a21790"/><rect x="501" y="178" width="6" height="5" fill="#a41982"/><rect x="507" y="178" width="6" height="5" fill="#a81b71"/><rect x="513" y="178" width="6" height="5" fill="#ab1d63"/><rect x="519" y="178" width="6" height="5" fill="#af1f4c"/><rect x="74" y="183" width="4" height="6" fill="#bd2d03"/><rect x="78" y="183" width="12" height="6" fill="#c03100"/><rect x="90" y="183" width="19" height="6" fill="#c03000"/><rect x="109" y="183" width="6" height="6" fill="#bd2d03"/><rect x="115" y="183" width="6" height="6" fill="#b92907"/><rect x="121" y="183" width="6" height="6" fill="#b22238"/><rect x="127" y="183" width="7" height="6" fill="#ab1d62"/><rect x="134" y="183" width="6" height="6" fill="#a51980"/><rect x="140" y="183" width="6" height="6" fill="#a11694"/><rect x="146" y="183" width="6" height="6" fill="#a01698"/><rect x="152" y="183" width="7" height="6" fill="#9f159e"/><rect x="159" y="183" width="6" height="6" fill="#9911b3"/><rect x="165" y="183" width="6" height="6" fill="#940dca"/><rect x="171" y="183" width="6" height="6" fill="#900ad7"/><rect x="177" y="183" width="6" height="6" fill="#8d08e2"/><rect x="183" y="183" width="7" height="6" fill="#8906ed"/><rect x="190" y="183" width="6" height="6" fill="#8604f7"/><rect x="196" y="183" width="6" height="6" fill="#8503fc"/><rect x="202" y="183" width="6" height="6" fill="#8502fd"/><rect x="208" y="183" width="7" height="6" fill="#8302fe"/><rect x="215" y="183" width="6" height="6" fill="#7f01fb"/><rect x="221" y="183" width="6" height="6" fill="#8001fc"/><rect x="227" y="183" width="6" height="6" fill="#8604f7"/><rect x="233" y="183" width="6" height="6" fill="#8b07e8"/><rect x="239" y="183" width="7" height="6" fill="#8c08e5"/><rect x="246" y="183" width="6" height="6" fill="#8b07e7"/><rect x="252" y="183" width="6" height="6" fill="#8a07ea"/><rect x="258" y="183" width="6" height="6" fill="#8906ee"/><rect x="264" y="183" width="7" height="6" fill="#8805f3"/><rect x="271" y="183" width="6" height="6" fill="#8603f9"/><rect x="277" y="183" width="6" height="6" fill="#8402ff"/><rect x="283" y="183" width="6" height="6" fill="#8101fc"/><rect x="289" y="183" width="6" height="6" fill="#7e00f9"/><rect x="295" y="183" width="7" height="6" fill="#7900f2"/><rect x="302" y="183" width="6" height="6" fill="#7300e6"/><rect x="308" y="183" width="6" height="6" fill="#6d00da"/><rect x="314" y="183" width="6" height="6" fill="#6700ce"/><rect x="320" y="183" width="7" height="6" fill="#6200c4"/><rect x="327" y="183" width="6" height="6" fill="#5e00bc"/><rect x="333" y="183" width="6" height="6" fill="#5a00b2"/><rect x="339" y="183" width="6" height="6" fill="#5300a3"/><rect x="345" y="183" width="6" height="6" fill="#4c0092"/><rect x="351" y="183" width="7" height="6" fill="#450084"/><rect x="358" y="183" width="6" height="6" fill="#41007a"/><rect x="364" y="183" width="6" height="6" fill="#3c006f"/><rect x="370" y="183" width="6" height="6" fill="#390069"/><rect x="376" y="183" width="7" height="6" fill="#390067"/><rect x="383" y="183" width="6" height="6" fill="#390069"/><rect x="389" y="183" width="6" height="6" fill="#3c006f"/><rect x="395" y="183" width="6" height="6" fill="#400079"/><rect x="401" y="183" width="6" height="6" fill="#450083"/><rect x="407" y="183" width="7" height="6" fill="#4b0091"/><rect x="414" y="183" width="6" height="6" fill="#5400a4"/><rect x="420" y="183" width="6" height="6" fill="#6000bf"/><rect x="426" y="183" width="6" height="6" fill="#6e00dc"/><rect x="432" y="183" width="7" height="6" fill="#7d00f9"/><rect x="439" y="183" width="6" height="6" fill="#8503fc"/><rect x="445" y="183" width="6" height="6" fill="#8c08e4"/><rect x="451" y="183" width="6" height="6" fill="#920cd0"/><rect x="457" y="183" width="6" height="6" fill="#9710bc"/><rect x="463" y="183" width="7" height="6" fill="#9911b4"/><rect x="470" y="183" width="6" height="6" fill="#9b13aa"/><rect x="476" y="183" width="6" height="6" fill="#9f159e"/><rect x="482" y="183" width="6" height="6" fill="#a01696"/><rect x="488" y="183" width="7" height="6" fill="#a31887"/><rect x="495" y="183" width="6" height="6" fill="#aa1c64"/><rect x="501" y="183" width="6" height="6" fill="#b1213f"/><rect x="507" y="183" width="6" height="6" fill="#b5251e"/><rect x="513" y="183" width="6" height="6" fill="#b92907"/><rect x="519" y="183" width="6" height="6" fill="#bd2d03"/><rect x="74" y="189" width="4" height="5" fill="#cc4200"/><rect x="78" y="189" width="6" height="5" fill="#d24c00"/><rect x="84" y="189" width="12" height="5" fill="#d24d00"/><rect x="96" y="189" width="7" height="5" fill="#d24c00"/><rect x="103" y="189" width="6" height="5" fill="#d04800"/><rect x="109" y="189" width="6" height="5" fill="#cb4000"/><rect x="115" y="189" width="6" height="5" fill="#c43700"/><rect x="121" y="189" width="6" height="5" fill="#be2e02"/><rect x="127" y="189" width="7" height="5" fill="#b92907"/><rect x="134" y="189" width="6" height="5" fill="#b42428"/><rect x="140" y="189" width="6" height="5" fill="#ae1f51"/><rect x="146" y="189" width="6" height="5" fill="#aa1c67"/><rect x="152" y="189" width="7" height="5" fill="#a71b74"/><rect x="159" y="189" width="6" height="5" fill="#a2178e"/><rect x="165" y="189" width="6" height="5" fill="#9c13a8"/><rect x="171" y="189" width="6" height="5" fill="#960fbe"/><rect x="177" y="189" width="6" height="5" fill="#920cd0"/><rect x="183" y="189" width="7" height="5" fill="#8f0adb"/><rect x="190" y="189" width="6" height="5" fill="#8c07e5"/><rect x="196" y="189" width="6" height="5" fill="#8906ee"/><rect x="202" y="189" width="6" height="5" fill="#8805f2"/><rect x="208" y="189" width="7" height="5" fill="#8603f9"/><rect x="215" y="189" width="6" height="5" fill="#8402ff"/><rect x="221" y="189" width="6" height="5" fill="#8704f4"/><rect x="227" y="189" width="6" height="5" fill="#8d08e1"/><rect x="233" y="189" width="13" height="5" fill="#900bd6"/><rect x="246" y="189" width="6" height="5" fill="#8f0adb"/><rect x="252" y="189" width="6" height="5" fill="#8e09df"/><rect x="258" y="189" width="6" height="5" fill="#8c08e4"/><rect x="264" y="189" width="7" height="5" fill="#8a06ea"/><rect x="271" y="189" width="6" height="5" fill="#8805f1"/><rect x="277" y="189" width="6" height="5" fill="#8603f9"/><rect x="283" y="189" width="6" height="5" fill="#8302ff"/><rect x="289" y="189" width="6" height="5" fill="#8101fc"/><rect x="295" y="189" width="7" height="5" fill="#7e00fa"/><rect x="302" y="189" width="6" height="5" fill="#7a00f3"/><rect x="308" y="189" width="6" height="5" fill="#7400e7"/><rect x="314" y="189" width="6" height="5" fill="#6d00db"/><rect x="320" y="189" width="7" height="5" fill="#6800d0"/><rect x="327" y="189" width="6" height="5" fill="#6300c7"/><rect x="333" y="189" width="6" height="5" fill="#5e00bc"/><rect x="339" y="189" width="6" height="5" fill="#5700ab"/><rect x="345" y="189" width="6" height="5" fill="#4f0099"/><rect x="351" y="189" width="7" height="5" fill="#470088"/><rect x="358" y="189" width="6" height="5" fill="#42007c"/><rect x="364" y="189" width="6" height="5" fill="#3d0072"/><rect x="370" y="189" width="6" height="5" fill="#3a006b"/><rect x="376" y="189" width="7" height="5" fill="#3a0069"/><rect x="383" y="189" width="6" height="5" fill="#3a006a"/><rect x="389" y="189" width="6" height="5" fill="#3c0070"/><rect x="395" y="189" width="6" height="5" fill="#400079"/><rect x="401" y="189" width="6" height="5" fill="#460084"/><rect x="407" y="189" width="7" height="5" fill="#4d0095"/><rect x="414" y="189" width="6" height="5" fill="#5700ab"/><rect x="420" y="189" width="6" height="5" fill="#6300c6"/><rect x="426" y="189" width="6" height="5" fill="#7200e4"/><rect x="432" y="189" width="7" height="5" fill="#8001fb"/><rect x="439" y="189" width="6" height="5" fill="#8905f0"/><rect x="445" y="189" width="6" height="5" fill="#900bd6"/><rect x="451" y="189" width="6" height="5" fill="#9810ba"/><rect x="457" y="189" width="6" height="5" fill="#9b12ae"/><rect x="463" y="189" width="7" height="5" fill="#9c13a7"/><rect x="470" y="189" width="6" height="5" fill="#a0169a"/><rect x="476" y="189" width="6" height="5" fill="#a51981"/><rect x="482" y="189" width="6" height="5" fill="#a91c6b"/><rect x="488" y="189" width="7" height="5" fill="#af1f4e"/><rect x="495" y="189" width="6" height="5" fill="#b62614"/><rect x="501" y="189" width="6" height="5" fill="#bc2c04"/><rect x="507" y="189" width="6" height="5" fill="#bf2f01"/><rect x="513" y="189" width="6" height="5" fill="#c33500"/><rect x="519" y="189" width="6" height="5" fill="#cc4200"/><rect x="74" y="194" width="4" height="5" fill="#d85900"/><rect x="78" y="194" width="6" height="5" fill="#de6600"/><rect x="84" y="194" width="6" height="5" fill="#df6b00"/><rect x="90" y="194" width="6" height="5" fill="#e06d00"/><rect x="96" y="194" width="7" height="5" fill="#df6a00"/><rect x="103" y="194" width="6" height="5" fill="#dc6200"/><rect x="109" y="194" width="6" height="5" fill="#d75700"/><rect x="115" y="194" width="6" height="5" fill="#d04800"/><rect x="121" y="194" width="6" height="5" fill="#c63a00"/><rect x="127" y="194" width="7" height="5" fill="#c13200"/><rect x="134" y="194" width="6" height="5" fill="#be2e02"/><rect x="140" y="194" width="6" height="5" fill="#b82808"/><rect x="146" y="194" width="6" height="5" fill="#b52522"/><rect x="152" y="194" width="7" height="5" fill="#b3232f"/><rect x="159" y="194" width="6" height="5" fill="#ad1e55"/><rect x="165" y="194" width="6" height="5" fill="#a41984"/><rect x="171" y="194" width="6" height="5" fill="#9d14a5"/><rect x="177" y="194" width="6" height="5" fill="#9810b8"/><rect x="183" y="194" width="7" height="5" fill="#940dc8"/><rect x="190" y="194" width="6" height="5" fill="#900bd6"/><rect x="196" y="194" width="6" height="5" fill="#8e09dc"/><rect x="202" y="194" width="6" height="5" fill="#8d08e2"/><rect x="208" y="194" width="7" height="5" fill="#8a06eb"/><rect x="215" y="194" width="6" height="5" fill="#8a06ec"/><rect x="221" y="194" width="6" height="5" fill="#8e09dd"/><rect x="227" y="194" width="6" height="5" fill="#930dca"/><rect x="233" y="194" width="6" height="5" fill="#950ec2"/><rect x="239" y="194" width="7" height="5" fill="#940dca"/><rect x="246" y="194" width="6" height="5" fill="#910bd3"/><rect x="252" y="194" width="6" height="5" fill="#8f0ad9"/><rect x="258" y="194" width="6" height="5" fill="#8e09de"/><rect x="264" y="194" width="7" height="5" fill="#8c08e4"/><rect x="271" y="194" width="6" height="5" fill="#8a06eb"/><rect x="277" y="194" width="6" height="5" fill="#8805f3"/><rect x="283" y="194" width="6" height="5" fill="#8503fa"/><rect x="289" y="194" width="6" height="5" fill="#8302fe"/><rect x="295" y="194" width="7" height="5" fill="#8001fc"/><rect x="302" y="194" width="6" height="5" fill="#7e00f9"/><rect x="308" y="194" width="6" height="5" fill="#7a00f3"/><rect x="314" y="194" width="6" height="5" fill="#7400e7"/><rect x="320" y="194" width="7" height="5" fill="#6e00dc"/><rect x="327" y="194" width="6" height="5" fill="#6900d2"/><rect x="333" y="194" width="6" height="5" fill="#6300c7"/><rect x="339" y="194" width="6" height="5" fill="#5c00b6"/><rect x="345" y="194" width="6" height="5" fill="#5300a3"/><rect x="351" y="194" width="7" height="5" fill="#4c0092"/><rect x="358" y="194" width="6" height="5" fill="#450084"/><rect x="364" y="194" width="6" height="5" fill="#41007b"/><rect x="370" y="194" width="6" height="5" fill="#3f0075"/><rect x="376" y="194" width="7" height="5" fill="#3e0072"/><rect x="383" y="194" width="6" height="5" fill="#3e0074"/><rect x="389" y="194" width="6" height="5" fill="#400077"/><rect x="395" y="194" width="6" height="5" fill="#42007e"/><rect x="401" y="194" width="6" height="5" fill="#48008a"/><rect x="407" y="194" width="7" height="5" fill="#50009c"/><rect x="414" y="194" width="6" height="5" fill="#5b00b4"/><rect x="420" y="194" width="6" height="5" fill="#6800d0"/><rect x="426" y="194" width="6" height="5" fill="#7700ee"/><rect x="432" y="194" width="7" height="5" fill="#8302fe"/><rect x="439" y="194" width="6" height="5" fill="#8c08e5"/><rect x="445" y="194" width="6" height="5" fill="#950ec6"/><rect x="451" y="194" width="6" height="5" fill="#9c13a7"/><rect x="457" y="194" width="6" height="5" fill="#9f159e"/><rect x="463" y="194" width="7" height="5" fill="#a01696"/><rect x="470" y="194" width="6" height="5" fill="#a61a79"/><rect x="476" y="194" width="6" height="5" fill="#b02044"/><rect x="482" y="194" width="6" height="5" fill="#b7270f"/><rect x="488" y="194" width="7" height="5" fill="#bb2b05"/><rect x="495" y="194" width="6" height="5" fill="#be2e02"/><rect x="501" y="194" width="6" height="5" fill="#c13200"/><rect x="507" y="194" width="6" height="5" fill="#c53800"/><rect x="513" y="194" width="6" height="5" fill="#cd4400"/><rect x="519" y="194" width="6" height="5" fill="#d85900"/><rect x="74" y="199" width="4" height="5" fill="#e27000"/><rect x="78" y="199" width="6" height="5" fill="#e77e00"/><rect x="84" y="199" width="6" height="5" fill="#e98700"/><rect x="90" y="199" width="6" height="5" fill="#eb8d00"/><rect x="96" y="199" width="7" height="5" fill="#ea8c00"/><rect x="103" y="199" width="6" height="5" fill="#e98300"/><rect x="109" y="199" width="6" height="5" fill="#e37300"/><rect x="115" y="199" width="6" height="5" fill="#da5d00"/><rect x="121" y="199" width="6" height="5" fill="#d14a00"/><rect x="127" y="199" width="7" height="5" fill="#c93d00"/><rect x="134" y="199" width="6" height="5" fill="#c33500"/><rect x="140" y="199" width="6" height="5" fill="#be2e02"/><rect x="146" y="199" width="6" height="5" fill="#bc2c04"/><rect x="152" y="199" width="7" height="5" fill="#bb2b05"/><rect x="159" y="199" width="6" height="5" fill="#b62616"/><rect x="165" y="199" width="6" height="5" fill="#ae1f53"/><rect x="171" y="199" width="6" height="5" fill="#a41885"/><rect x="177" y="199" width="6" height="5" fill="#9e15a0"/><rect x="183" y="199" width="7" height="5" fill="#9b12ac"/><rect x="190" y="199" width="6" height="5" fill="#9710ba"/><rect x="196" y="199" width="6" height="5" fill="#940dc8"/><rect x="202" y="199" width="6" height="5" fill="#910bd2"/><rect x="208" y="199" width="13" height="5" fill="#8f0ada"/><rect x="221" y="199" width="6" height="5" fill="#940dc8"/><rect x="227" y="199" width="6" height="5" fill="#9a11b2"/><rect x="233" y="199" width="6" height="5" fill="#9911b5"/><rect x="239" y="199" width="7" height="5" fill="#950ec3"/><rect x="246" y="199" width="6" height="5" fill="#920cd1"/><rect x="252" y="199" width="6" height="5" fill="#900ad7"/><rect x="258" y="199" width="6" height="5" fill="#8e09dc"/><rect x="264" y="199" width="7" height="5" fill="#8d08e1"/><rect x="271" y="199" width="6" height="5" fill="#8b07e7"/><rect x="277" y="199" width="6" height="5" fill="#8906ee"/><rect x="283" y="199" width="6" height="5" fill="#8704f6"/><rect x="289" y="199" width="6" height="5" fill="#8402fd"/><rect x="295" y="199" width="7" height="5" fill="#8202fd"/><rect x="302" y="199" width="6" height="5" fill="#8001fb"/><rect x="308" y="199" width="6" height="5" fill="#7d00f9"/><rect x="314" y="199" width="6" height="5" fill="#7900f1"/><rect x="320" y="199" width="7" height="5" fill="#7300e6"/><rect x="327" y="199" width="6" height="5" fill="#6e00dc"/><rect x="333" y="199" width="6" height="5" fill="#6900d1"/><rect x="339" y="199" width="6" height="5" fill="#6100c2"/><rect x="345" y="199" width="6" height="5" fill="#5800af"/><rect x="351" y="199" width="7" height="5" fill="#51009d"/><rect x="358" y="199" width="6" height="5" fill="#4a008f"/><rect x="364" y="199" width="6" height="5" fill="#460084"/><rect x="370" y="199" width="6" height="5" fill="#43007e"/><rect x="376" y="199" width="7" height="5" fill="#42007c"/><rect x="383" y="199" width="6" height="5" fill="#42007d"/><rect x="389" y="199" width="6" height="5" fill="#440080"/><rect x="395" y="199" width="6" height="5" fill="#470087"/><rect x="401" y="199" width="6" height="5" fill="#4c0094"/><rect x="407" y="199" width="7" height="5" fill="#5500a7"/><rect x="414" y="199" width="6" height="5" fill="#6000bf"/><rect x="420" y="199" width="6" height="5" fill="#6d00da"/><rect x="426" y="199" width="6" height="5" fill="#7c00f8"/><rect x="432" y="199" width="7" height="5" fill="#8503fa"/><rect x="439" y="199" width="6" height="5" fill="#8e09df"/><rect x="445" y="199" width="6" height="5" fill="#960fbf"/><rect x="451" y="199" width="6" height="5" fill="#9d14a3"/><rect x="457" y="199" width="6" height="5" fill="#a11695"/><rect x="463" y="199" width="7" height="5" fill="#a6197c"/><rect x="470" y="199" width="6" height="5" fill="#b02047"/><rect x="476" y="199" width="6" height="5" fill="#b92907"/><rect x="482" y="199" width="6" height="5" fill="#be2e02"/><rect x="488" y="199" width="7" height="5" fill="#c03000"/><rect x="495" y="199" width="6" height="5" fill="#c13100"/><rect x="501" y="199" width="6" height="5" fill="#c33500"/><rect x="507" y="199" width="6" height="5" fill="#cb4100"/><rect x="513" y="199" width="6" height="5" fill="#d65500"/><rect x="519" y="199" width="6" height="5" fill="#e27000"/><rect x="74" y="204" width="4" height="5" fill="#e77d00"/><rect x="78" y="204" width="6" height="5" fill="#eb8d00"/><rect x="84" y="204" width="6" height="5" fill="#ed9900"/><rect x="90" y="204" width="6" height="5" fill="#efa200"/><rect x="96" y="204" width="7" height="5" fill="#efa300"/><rect x="103" y="204" width="6" height="5" fill="#ee9d00"/><rect x="109" y="204" width="6" height="5" fill="#ea8a00"/><rect x="115" y="204" width="6" height="5" fill="#e37400"/><rect x="121" y="204" width="6" height="5" fill="#da5e00"/><rect x="127" y="204" width="7" height="5" fill="#d14b00"/><rect x="134" y="204" width="6" height="5" fill="#c93e00"/><rect x="140" y="204" width="6" height="5" fill="#c43600"/><rect x="146" y="204" width="6" height="5" fill="#c13100"/><rect x="152" y="204" width="7" height="5" fill="#c03000"/><rect x="159" y="204" width="6" height="5" fill="#bc2c04"/><rect x="165" y="204" width="6" height="5" fill="#b62616"/><rect x="171" y="204" width="6" height="5" fill="#ae1f54"/><rect x="177" y="204" width="6" height="5" fill="#a51980"/><rect x="183" y="204" width="7" height="5" fill="#a01698"/><rect x="190" y="204" width="6" height="5" fill="#9d14a4"/><rect x="196" y="204" width="6" height="5" fill="#9a11b1"/><rect x="202" y="204" width="6" height="5" fill="#9710bc"/><rect x="208" y="204" width="7" height="5" fill="#950ec4"/><rect x="215" y="204" width="6" height="5" fill="#940ec6"/><rect x="221" y="204" width="6" height="5" fill="#9a12b1"/><rect x="227" y="204" width="6" height="5" fill="#9d14a5"/><rect x="233" y="204" width="6" height="5" fill="#9a12b1"/><rect x="239" y="204" width="7" height="5" fill="#950ec3"/><rect x="246" y="204" width="6" height="5" fill="#910cd2"/><rect x="252" y="204" width="6" height="5" fill="#900ad8"/><rect x="258" y="204" width="6" height="5" fill="#8f0adc"/><rect x="264" y="204" width="7" height="5" fill="#8d09e0"/><rect x="271" y="204" width="6" height="5" fill="#8c08e5"/><rect x="277" y="204" width="6" height="5" fill="#8a06ec"/><rect x="283" y="204" width="6" height="5" fill="#8805f3"/><rect x="289" y="204" width="6" height="5" fill="#8503fa"/><rect x="295" y="204" width="7" height="5" fill="#8302fe"/><rect x="302" y="204" width="6" height="5" fill="#8101fc"/><rect x="308" y="204" width="6" height="5" fill="#7f01fa"/><rect x="314" y="204" width="6" height="5" fill="#7c00f8"/><rect x="320" y="204" width="7" height="5" fill="#7800ef"/><rect x="327" y="204" width="6" height="5" fill="#7300e6"/><rect x="333" y="204" width="6" height="5" fill="#6d00db"/><rect x="339" y="204" width="6" height="5" fill="#6600cc"/><rect x="345" y="204" width="6" height="5" fill="#5e00bb"/><rect x="351" y="204" width="7" height="5" fill="#5600aa"/><rect x="358" y="204" width="6" height="5" fill="#50009b"/><rect x="364" y="204" width="6" height="5" fill="#4b0090"/><rect x="370" y="204" width="6" height="5" fill="#470089"/><rect x="376" y="204" width="7" height="5" fill="#470087"/><rect x="383" y="204" width="6" height="5" fill="#470088"/><rect x="389" y="204" width="6" height="5" fill="#49008c"/><rect x="395" y="204" width="6" height="5" fill="#4c0094"/><rect x="401" y="204" width="6" height="5" fill="#5200a1"/><rect x="407" y="204" width="7" height="5" fill="#5b00b3"/><rect x="414" y="204" width="6" height="5" fill="#6500ca"/><rect x="420" y="204" width="6" height="5" fill="#7200e3"/><rect x="426" y="204" width="6" height="5" fill="#7f01fa"/><rect x="432" y="204" width="7" height="5" fill="#8805f2"/><rect x="439" y="204" width="6" height="5" fill="#8f0ada"/><rect x="445" y="204" width="6" height="5" fill="#9710bb"/><rect x="451" y="204" width="6" height="5" fill="#9e14a1"/><rect x="457" y="204" width="6" height="5" fill="#a3188b"/><rect x="463" y="204" width="7" height="5" fill="#ac1d5c"/><rect x="470" y="204" width="6" height="5" fill="#b72714"/><rect x="476" y="204" width="6" height="5" fill="#bd2d03"/><rect x="482" y="204" width="6" height="5" fill="#c03000"/><rect x="488" y="204" width="7" height="5" fill="#c13200"/><rect x="495" y="204" width="6" height="5" fill="#c23200"/><rect x="501" y="204" width="6" height="5" fill="#c53700"/><rect x="507" y="204" width="6" height="5" fill="#cf4700"/><rect x="513" y="204" width="6" height="5" fill="#db6000"/><rect x="519" y="204" width="6" height="5" fill="#e77d00"/><rect x="74" y="209" width="4" height="5" fill="#e67c00"/><rect x="78" y="209" width="6" height="5" fill="#ea8900"/><rect x="84" y="209" width="6" height="5" fill="#ec9600"/><rect x="90" y="209" width="6" height="5" fill="#efa100"/><rect x="96" y="209" width="7" height="5" fill="#efa200"/><rect x="103" y="209" width="6" height="5" fill="#ee9e00"/><rect x="109" y="209" width="6" height="5" fill="#eb9100"/><rect x="115" y="209" width="6" height="5" fill="#e77d00"/><rect x="121" y="209" width="6" height="5" fill="#df6900"/><rect x="127" y="209" width="7" height="5" fill="#d65500"/><rect x="134" y="209" width="6" height="5" fill="#ce4600"/><rect x="140" y="209" width="6" height="5" fill="#c93d00"/><rect x="146" y="209" width="6" height="5" fill="#c63900"/><rect x="152" y="209" width="7" height="5" fill="#c43600"/><rect x="159" y="209" width="6" height="5" fill="#c13200"/><rect x="165" y="209" width="6" height="5" fill="#bd2d03"/><rect x="171" y="209" width="6" height="5" fill="#b82808"/><rect x="177" y="209" width="6" height="5" fill="#b1213e"/><rect x="183" y="209" width="7" height="5" fill="#aa1c68"/><rect x="190" y="209" width="6" height="5" fill="#a41983"/><rect x="196" y="209" width="6" height="5" fill="#a01698"/><rect x="202" y="209" width="6" height="5" fill="#9d14a5"/><rect x="208" y="209" width="7" height="5" fill="#9a12b0"/><rect x="215" y="209" width="6" height="5" fill="#9911b3"/><rect x="221" y="209" width="6" height="5" fill="#9d14a4"/><rect x="227" y="209" width="6" height="5" fill="#9d14a3"/><rect x="233" y="209" width="6" height="5" fill="#9810b7"/><rect x="239" y="209" width="7" height="5" fill="#930dca"/><rect x="246" y="209" width="6" height="5" fill="#900bd5"/><rect x="252" y="209" width="6" height="5" fill="#8f0ada"/><rect x="258" y="209" width="6" height="5" fill="#8e09dc"/><rect x="264" y="209" width="7" height="5" fill="#8d09e0"/><rect x="271" y="209" width="6" height="5" fill="#8c08e4"/><rect x="277" y="209" width="6" height="5" fill="#8a07ea"/><rect x="283" y="209" width="6" height="5" fill="#8805f0"/><rect x="289" y="209" width="6" height="5" fill="#8604f8"/><rect x="295" y="209" width="7" height="5" fill="#8402ff"/><rect x="302" y="209" width="6" height="5" fill="#8202fd"/><rect x="308" y="209" width="6" height="5" fill="#8001fc"/><rect x="314" y="209" width="6" height="5" fill="#7e00fa"/><rect x="320" y="209" width="7" height="5" fill="#7b00f6"/><rect x="327" y="209" width="6" height="5" fill="#7700ee"/><rect x="333" y="209" width="6" height="5" fill="#7200e3"/><rect x="339" y="209" width="6" height="5" fill="#6b00d6"/><rect x="345" y="209" width="6" height="5" fill="#6400c7"/><rect x="351" y="209" width="7" height="5" fill="#5c00b6"/><rect x="358" y="209" width="6" height="5" fill="#5500a7"/><rect x="364" y="209" width="6" height="5" fill="#50009c"/><rect x="370" y="209" width="6" height="5" fill="#4d0096"/><rect x="376" y="209" width="7" height="5" fill="#4d0094"/><rect x="383" y="209" width="6" height="5" fill="#4d0095"/><rect x="389" y="209" width="6" height="5" fill="#4f0099"/><rect x="395" y="209" width="6" height="5" fill="#5300a2"/><rect x="401" y="209" width="6" height="5" fill="#5800af"/><rect x="407" y="209" width="7" height="5" fill="#6000c0"/><rect x="414" y="209" width="6" height="5" fill="#6a00d4"/><rect x="420" y="209" width="6" height="5" fill="#7600ec"/><rect x="426" y="209" width="6" height="5" fill="#8101fd"/><rect x="432" y="209" width="7" height="5" fill="#8a06eb"/><rect x="439" y="209" width="6" height="5" fill="#920cd2"/><rect x="445" y="209" width="6" height="5" fill="#9a12b1"/><rect x="451" y="209" width="6" height="5" fill="#a0169a"/><rect x="457" y="209" width="6" height="5" fill="#a71b74"/><rect x="463" y="209" width="7" height="5" fill="#b3232e"/><rect x="470" y="209" width="6" height="5" fill="#bb2b05"/><rect x="476" y="209" width="6" height="5" fill="#bf2f01"/><rect x="482" y="209" width="6" height="5" fill="#c13100"/><rect x="488" y="209" width="13" height="5" fill="#c23300"/><rect x="501" y="209" width="6" height="5" fill="#c63800"/><rect x="507" y="209" width="6" height="5" fill="#d04800"/><rect x="513" y="209" width="6" height="5" fill="#db6100"/><rect x="519" y="209" width="6" height="5" fill="#e67c00"/><rect x="74" y="214" width="4" height="5" fill="#e27000"/><rect x="78" y="214" width="6" height="5" fill="#e57900"/><rect x="84" y="214" width="6" height="5" fill="#e88200"/><rect x="90" y="214" width="13" height="5" fill="#ea8900"/><rect x="103" y="214" width="6" height="5" fill="#ea8800"/><rect x="109" y="214" width="6" height="5" fill="#e88200"/><rect x="115" y="214" width="6" height="5" fill="#e47700"/><rect x="121" y="214" width="6" height="5" fill="#df6800"/><rect x="127" y="214" width="7" height="5" fill="#d85900"/><rect x="134" y="214" width="6" height="5" fill="#d24c00"/><rect x="140" y="214" width="6" height="5" fill="#cd4300"/><rect x="146" y="214" width="6" height="5" fill="#ca3e00"/><rect x="152" y="214" width="7" height="5" fill="#c83c00"/><rect x="159" y="214" width="6" height="5" fill="#c53800"/><rect x="165" y="214" width="6" height="5" fill="#c23300"/><rect x="171" y="214" width="6" height="5" fill="#be2e02"/><rect x="177" y="214" width="6" height="5" fill="#bb2b05"/><rect x="183" y="214" width="7" height="5" fill="#b62618"/><rect x="190" y="214" width="6" height="5" fill="#af204c"/><rect x="196" y="214" width="6" height="5" fill="#a81b70"/><rect x="202" y="214" width="6" height="5" fill="#a31887"/><rect x="208" y="214" width="7" height="5" fill="#9f169b"/><rect x="215" y="214" width="6" height="5" fill="#9d14a2"/><rect x="221" y="214" width="6" height="5" fill="#9f159c"/><rect x="227" y="214" width="6" height="5" fill="#9c13a6"/><rect x="233" y="214" width="6" height="5" fill="#960fc0"/><rect x="239" y="214" width="7" height="5" fill="#910cd2"/><rect x="246" y="214" width="6" height="5" fill="#900ad8"/><rect x="252" y="214" width="6" height="5" fill="#8f0adb"/><rect x="258" y="214" width="6" height="5" fill="#8e09dc"/><rect x="264" y="214" width="7" height="5" fill="#8d09e0"/><rect x="271" y="214" width="6" height="5" fill="#8c08e4"/><rect x="277" y="214" width="6" height="5" fill="#8a07e9"/><rect x="283" y="214" width="6" height="5" fill="#8905ef"/><rect x="289" y="214" width="6" height="5" fill="#8704f6"/><rect x="295" y="214" width="7" height="5" fill="#8503fc"/><rect x="302" y="214" width="6" height="5" fill="#8302fe"/><rect x="308" y="214" width="6" height="5" fill="#8101fc"/><rect x="314" y="214" width="6" height="5" fill="#7f01fb"/><rect x="320" y="214" width="7" height="5" fill="#7d00f9"/><rect x="327" y="214" width="6" height="5" fill="#7a00f4"/><rect x="333" y="214" width="6" height="5" fill="#7500eb"/><rect x="339" y="214" width="6" height="5" fill="#7000df"/><rect x="345" y="214" width="6" height="5" fill="#6900d1"/><rect x="351" y="214" width="7" height="5" fill="#6100c2"/><rect x="358" y="214" width="6" height="5" fill="#5a00b3"/><rect x="364" y="214" width="6" height="5" fill="#5600a9"/><rect x="370" y="214" width="6" height="5" fill="#5400a4"/><rect x="376" y="214" width="7" height="5" fill="#5300a2"/><rect x="383" y="214" width="6" height="5" fill="#5300a3"/><rect x="389" y="214" width="6" height="5" fill="#5500a7"/><rect x="395" y="214" width="6" height="5" fill="#5800ae"/><rect x="401" y="214" width="6" height="5" fill="#5e00bb"/><rect x="407" y="214" width="7" height="5" fill="#6500ca"/><rect x="414" y="214" width="6" height="5" fill="#6e00dc"/><rect x="420" y="214" width="6" height="5" fill="#7900f2"/><rect x="426" y="214" width="6" height="5" fill="#8302fe"/><rect x="432" y="214" width="7" height="5" fill="#8c08e5"/><rect x="439" y="214" width="6" height="5" fill="#950ec6"/><rect x="445" y="214" width="6" height="5" fill="#9d14a5"/><rect x="451" y="214" width="6" height="5" fill="#a11791"/><rect x="457" y="214" width="6" height="5" fill="#ab1d63"/><rect x="463" y="214" width="7" height="5" fill="#b62616"/><rect x="470" y="214" width="6" height="5" fill="#bc2c04"/><rect x="476" y="214" width="6" height="5" fill="#bf2f01"/><rect x="482" y="214" width="6" height="5" fill="#c03000"/><rect x="488" y="214" width="7" height="5" fill="#c23200"/><rect x="495" y="214" width="6" height="5" fill="#c23300"/><rect x="501" y="214" width="6" height="5" fill="#c53800"/><rect x="507" y="214" width="6" height="5" fill="#ce4500"/><rect x="513" y="214" width="6" height="5" fill="#d85a00"/><rect x="519" y="214" width="6" height="5" fill="#e27000"/><rect x="74" y="219" width="4" height="6" fill="#db6000"/><rect x="78" y="219" width="6" height="6" fill="#df6900"/><rect x="84" y="219" width="6" height="6" fill="#df6b00"/><rect x="90" y="219" width="19" height="6" fill="#e06b00"/><rect x="109" y="219" width="6" height="6" fill="#df6a00"/><rect x="115" y="219" width="6" height="6" fill="#de6700"/><rect x="121" y="219" width="6" height="6" fill="#dc6100"/><rect x="127" y="219" width="7" height="6" fill="#d95b00"/><rect x="134" y="219" width="6" height="6" fill="#d45200"/><rect x="140" y="219" width="6" height="6" fill="#d04900"/><rect x="146" y="219" width="6" height="6" fill="#cd4400"/><rect x="152" y="219" width="7" height="6" fill="#cb4000"/><rect x="159" y="219" width="6" height="6" fill="#c73b00"/><rect x="165" y="219" width="6" height="6" fill="#c53700"/><rect x="171" y="219" width="6" height="6" fill="#c33500"/><rect x="177" y="219" width="6" height="6" fill="#c03000"/><rect x="183" y="219" width="7" height="6" fill="#bc2c04"/><rect x="190" y="219" width="6" height="6" fill="#b8280b"/><rect x="196" y="219" width="6" height="6" fill="#b12143"/><rect x="202" y="219" width="6" height="6" fill="#a91c6b"/><rect x="208" y="219" width="7" height="6" fill="#a41886"/><rect x="215" y="219" width="6" height="6" fill="#a11793"/><rect x="221" y="219" width="6" height="6" fill="#a11694"/><rect x="227" y="219" width="6" height="6" fill="#9c13a9"/><rect x="233" y="219" width="6" height="6" fill="#950ec6"/><rect x="239" y="219" width="7" height="6" fill="#910bd4"/><rect x="246" y="219" width="6" height="6" fill="#900ad7"/><rect x="252" y="219" width="6" height="6" fill="#8f0ad9"/><rect x="258" y="219" width="6" height="6" fill="#8f0ada"/><rect x="264" y="219" width="7" height="6" fill="#8e09de"/><rect x="271" y="219" width="6" height="6" fill="#8c08e5"/><rect x="277" y="219" width="6" height="6" fill="#8a06ea"/><rect x="283" y="219" width="6" height="6" fill="#8905ef"/><rect x="289" y="219" width="6" height="6" fill="#8704f5"/><rect x="295" y="219" width="7" height="6" fill="#8503fa"/><rect x="302" y="219" width="6" height="6" fill="#8402ff"/><rect x="308" y="219" width="6" height="6" fill="#8202fd"/><rect x="314" y="219" width="6" height="6" fill="#8001fc"/><rect x="320" y="219" width="7" height="6" fill="#7f01fa"/><rect x="327" y="219" width="6" height="6" fill="#7d00f9"/><rect x="333" y="219" width="6" height="6" fill="#7900f2"/><rect x="339" y="219" width="6" height="6" fill="#7400e8"/><rect x="345" y="219" width="6" height="6" fill="#6d00db"/><rect x="351" y="219" width="7" height="6" fill="#6600cd"/><rect x="358" y="219" width="6" height="6" fill="#6000c0"/><rect x="364" y="219" width="6" height="6" fill="#5c00b6"/><rect x="370" y="219" width="6" height="6" fill="#5900b0"/><rect x="376" y="219" width="13" height="6" fill="#5800ae"/><rect x="389" y="219" width="6" height="6" fill="#5a00b1"/><rect x="395" y="219" width="6" height="6" fill="#5d00b8"/><rect x="401" y="219" width="6" height="6" fill="#6200c3"/><rect x="407" y="219" width="7" height="6" fill="#6800d0"/><rect x="414" y="219" width="6" height="6" fill="#7000e1"/><rect x="420" y="219" width="6" height="6" fill="#7c00f7"/><rect x="426" y="219" width="6" height="6" fill="#8502fd"/><rect x="432" y="219" width="7" height="6" fill="#8d08e2"/><rect x="439" y="219" width="6" height="6" fill="#950ec5"/><rect x="445" y="219" width="6" height="6" fill="#9d14a5"/><rect x="451" y="219" width="6" height="6" fill="#a2178d"/><rect x="457" y="219" width="6" height="6" fill="#ab1d5f"/><rect x="463" y="219" width="7" height="6" fill="#b72711"/><rect x="470" y="219" width="6" height="6" fill="#bc2c04"/><rect x="476" y="219" width="12" height="6" fill="#be2e02"/><rect x="488" y="219" width="7" height="6" fill="#c03100"/><rect x="495" y="219" width="6" height="6" fill="#c23300"/><rect x="501" y="219" width="6" height="6" fill="#c33500"/><rect x="507" y="219" width="6" height="6" fill="#c93d00"/><rect x="513" y="219" width="6" height="6" fill="#d24d00"/><rect x="519" y="219" width="6" height="6" fill="#db6000"/><rect x="74" y="225" width="4" height="5" fill="#d45000"/><rect x="78" y="225" width="6" height="5" fill="#d85800"/><rect x="84" y="225" width="25" height="5" fill="#d75800"/><rect x="109" y="225" width="6" height="5" fill="#d85900"/><rect x="115" y="225" width="6" height="5" fill="#d85a00"/><rect x="121" y="225" width="6" height="5" fill="#d85900"/><rect x="127" y="225" width="7" height="5" fill="#d75800"/><rect x="134" y="225" width="6" height="5" fill="#d55400"/><rect x="140" y="225" width="6" height="5" fill="#d24d00"/><rect x="146" y="225" width="6" height="5" fill="#cf4700"/><rect x="152" y="225" width="7" height="5" fill="#cc4200"/><rect x="159" y="225" width="6" height="5" fill="#c83c00"/><rect x="165" y="225" width="6" height="5" fill="#c63800"/><rect x="171" y="225" width="6" height="5" fill="#c53800"/><rect x="177" y="225" width="6" height="5" fill="#c43600"/><rect x="183" y="225" width="7" height="5" fill="#c03100"/><rect x="190" y="225" width="6" height="5" fill="#bc2c04"/><rect x="196" y="225" width="6" height="5" fill="#b62619"/><rect x="202" y="225" width="6" height="5" fill="#ad1e57"/><rect x="208" y="225" width="7" height="5" fill="#a51980"/><rect x="215" y="225" width="6" height="5" fill="#a2178f"/><rect x="221" y="225" width="6" height="5" fill="#a11794"/><rect x="227" y="225" width="6" height="5" fill="#9b12ac"/><rect x="233" y="225" width="6" height="5" fill="#940ec7"/><rect x="239" y="225" width="7" height="5" fill="#910cd2"/><rect x="246" y="225" width="12" height="5" fill="#910bd4"/><rect x="258" y="225" width="6" height="5" fill="#910bd5"/><rect x="264" y="225" width="7" height="5" fill="#8f0adb"/><rect x="271" y="225" width="6" height="5" fill="#8c08e4"/><rect x="277" y="225" width="6" height="5" fill="#8a06eb"/><rect x="283" y="225" width="6" height="5" fill="#8905f0"/><rect x="289" y="225" width="6" height="5" fill="#8704f4"/><rect x="295" y="225" width="7" height="5" fill="#8603f9"/><rect x="302" y="225" width="6" height="5" fill="#8402fe"/><rect x="308" y="225" width="6" height="5" fill="#8302fe"/><rect x="314" y="225" width="6" height="5" fill="#8101fc"/><rect x="320" y="225" width="7" height="5" fill="#8001fb"/><rect x="327" y="225" width="6" height="5" fill="#7e01fa"/><rect x="333" y="225" width="6" height="5" fill="#7c00f8"/><rect x="339" y="225" width="6" height="5" fill="#7700ef"/><rect x="345" y="225" width="6" height="5" fill="#7100e2"/><rect x="351" y="225" width="7" height="5" fill="#6b00d6"/><rect x="358" y="225" width="6" height="5" fill="#6500ca"/><rect x="364" y="225" width="6" height="5" fill="#6000c0"/><rect x="370" y="225" width="6" height="5" fill="#5d00b9"/><rect x="376" y="225" width="13" height="5" fill="#5c00b6"/><rect x="389" y="225" width="6" height="5" fill="#5d00b9"/><rect x="395" y="225" width="6" height="5" fill="#6000c0"/><rect x="401" y="225" width="6" height="5" fill="#6400c9"/><rect x="407" y="225" width="7" height="5" fill="#6a00d4"/><rect x="414" y="225" width="6" height="5" fill="#7200e4"/><rect x="420" y="225" width="6" height="5" fill="#7d00f9"/><rect x="426" y="225" width="6" height="5" fill="#8503fa"/><rect x="432" y="225" width="7" height="5" fill="#8d08e0"/><rect x="439" y="225" width="6" height="5" fill="#940dc9"/><rect x="445" y="225" width="6" height="5" fill="#9b13aa"/><rect x="451" y="225" width="6" height="5" fill="#a2188c"/><rect x="457" y="225" width="6" height="5" fill="#ac1e5b"/><rect x="463" y="225" width="7" height="5" fill="#b72710"/><rect x="470" y="225" width="6" height="5" fill="#bc2c04"/><rect x="476" y="225" width="6" height="5" fill="#bd2d03"/><rect x="482" y="225" width="6" height="5" fill="#be2e02"/><rect x="488" y="225" width="7" height="5" fill="#c03000"/><rect x="495" y="225" width="6" height="5" fill="#c13200"/><rect x="501" y="225" width="6" height="5" fill="#c23300"/><rect x="507" y="225" width="6" height="5" fill="#c63900"/><rect x="513" y="225" width="6" height="5" fill="#cc4200"/><rect x="519" y="225" width="6" height="5" fill="#d45000"/><rect x="74" y="230" width="4" height="5" fill="#ce4500"/><rect x="78" y="230" width="25" height="5" fill="#d14900"/><rect x="103" y="230" width="6" height="5" fill="#d14b00"/><rect x="109" y="230" width="6" height="5" fill="#d34f00"/><rect x="115" y="230" width="12" height="5" fill="#d45100"/><rect x="127" y="230" width="7" height="5" fill="#d45000"/><rect x="134" y="230" width="6" height="5" fill="#d34e00"/><rect x="140" y="230" width="6" height="5" fill="#d14a00"/><rect x="146" y="230" width="6" height="5" fill="#cf4700"/><rect x="152" y="230" width="7" height="5" fill="#cd4300"/><rect x="159" y="230" width="6" height="5" fill="#c83c00"/><rect x="165" y="230" width="12" height="5" fill="#c63900"/><rect x="177" y="230" width="6" height="5" fill="#c73a00"/><rect x="183" y="230" width="7" height="5" fill="#c43600"/><rect x="190" y="230" width="6" height="5" fill="#be2e02"/><rect x="196" y="230" width="6" height="5" fill="#b7270d"/><rect x="202" y="230" width="6" height="5" fill="#ae1e54"/><rect x="208" y="230" width="7" height="5" fill="#a41984"/><rect x="215" y="230" width="6" height="5" fill="#9f159b"/><rect x="221" y="230" width="6" height="5" fill="#9e14a1"/><rect x="227" y="230" width="6" height="5" fill="#9a12b1"/><rect x="233" y="230" width="6" height="5" fill="#960fc1"/><rect x="239" y="230" width="13" height="5" fill="#950ec6"/><rect x="252" y="230" width="6" height="5" fill="#950ec3"/><rect x="258" y="230" width="6" height="5" fill="#940ec6"/><rect x="264" y="230" width="7" height="5" fill="#910bd4"/><rect x="271" y="230" width="6" height="5" fill="#8d09e0"/><rect x="277" y="230" width="6" height="5" fill="#8b07e8"/><rect x="283" y="230" width="6" height="5" fill="#8905ef"/><rect x="289" y="230" width="6" height="5" fill="#8704f4"/><rect x="295" y="230" width="7" height="5" fill="#8603fa"/><rect x="302" y="230" width="6" height="5" fill="#8402fe"/><rect x="308" y="230" width="6" height="5" fill="#8302fe"/><rect x="314" y="230" width="6" height="5" fill="#8101fc"/><rect x="320" y="230" width="7" height="5" fill="#8001fb"/><rect x="327" y="230" width="6" height="5" fill="#7f01fb"/><rect x="333" y="230" width="6" height="5" fill="#7e00f9"/><rect x="339" y="230" width="6" height="5" fill="#7a00f4"/><rect x="345" y="230" width="6" height="5" fill="#7400e8"/><rect x="351" y="230" width="7" height="5" fill="#6e00dc"/><rect x="358" y="230" width="6" height="5" fill="#6800d0"/><rect x="364" y="230" width="6" height="5" fill="#6300c6"/><rect x="370" y="230" width="6" height="5" fill="#6000bf"/><rect x="376" y="230" width="13" height="5" fill="#5e00bc"/><rect x="389" y="230" width="6" height="5" fill="#6000bf"/><rect x="395" y="230" width="6" height="5" fill="#6200c5"/><rect x="401" y="230" width="6" height="5" fill="#6600cc"/><rect x="407" y="230" width="7" height="5" fill="#6c00d7"/><rect x="414" y="230" width="6" height="5" fill="#7300e6"/><rect x="420" y="230" width="6" height="5" fill="#7d00f9"/><rect x="426" y="230" width="6" height="5" fill="#8603f9"/><rect x="432" y="230" width="7" height="5" fill="#8d09e0"/><rect x="439" y="230" width="6" height="5" fill="#940dca"/><rect x="445" y="230" width="6" height="5" fill="#9b13ab"/><rect x="451" y="230" width="6" height="5" fill="#a3188a"/><rect x="457" y="230" width="6" height="5" fill="#ad1e58"/><rect x="463" y="230" width="7" height="5" fill="#b7270e"/><rect x="470" y="230" width="6" height="5" fill="#bd2d03"/><rect x="476" y="230" width="12" height="5" fill="#be2e02"/><rect x="488" y="230" width="7" height="5" fill="#bf2f01"/><rect x="495" y="230" width="6" height="5" fill="#c13200"/><rect x="501" y="230" width="6" height="5" fill="#c33400"/><rect x="507" y="230" width="6" height="5" fill="#c53800"/><rect x="513" y="230" width="6" height="5" fill="#c93d00"/><rect x="519" y="230" width="6" height="5" fill="#ce4500"/><rect x="74" y="235" width="4" height="5" fill="#cc4200"/><rect x="78" y="235" width="6" height="5" fill="#cc4100"/><rect x="84" y="235" width="19" height="5" fill="#cc4200"/><rect x="103" y="235" width="6" height="5" fill="#ce4400"/><rect x="109" y="235" width="6" height="5" fill="#d14a00"/><rect x="115" y="235" width="12" height="5" fill="#d34e00"/><rect x="127" y="235" width="7" height="5" fill="#d24d00"/><rect x="134" y="235" width="6" height="5" fill="#d24c00"/><rect x="140" y="235" width="6" height="5" fill="#d14900"/><rect x="146" y="235" width="6" height="5" fill="#d04700"/><rect x="152" y="235" width="7" height="5" fill="#cd4400"/><rect x="159" y="235" width="6" height="5" fill="#c93d00"/><rect x="165" y="235" width="12" height="5" fill="#c73a00"/><rect x="177" y="235" width="6" height="5" fill="#c83b00"/><rect x="183" y="235" width="7" height="5" fill="#c63900"/><rect x="190" y="235" width="6" height="5" fill="#c13100"/><rect x="196" y="235" width="6" height="5" fill="#bb2b05"/><rect x="202" y="235" width="6" height="5" fill="#b32333"/><rect x="208" y="235" width="7" height="5" fill="#a41885"/><rect x="215" y="235" width="6" height="5" fill="#9b12ad"/><rect x="221" y="235" width="6" height="5" fill="#9a11b1"/><rect x="227" y="235" width="6" height="5" fill="#9911b6"/><rect x="233" y="235" width="6" height="5" fill="#9911b5"/><rect x="239" y="235" width="7" height="5" fill="#9b12ae"/><rect x="246" y="235" width="6" height="5" fill="#9b12ac"/><rect x="252" y="235" width="6" height="5" fill="#9c13a9"/><rect x="258" y="235" width="6" height="5" fill="#9a12ae"/><rect x="264" y="235" width="7" height="5" fill="#940ec6"/><rect x="271" y="235" width="6" height="5" fill="#8f0ada"/><rect x="277" y="235" width="6" height="5" fill="#8c07e6"/><rect x="283" y="235" width="6" height="5" fill="#8906ee"/><rect x="289" y="235" width="6" height="5" fill="#8704f5"/><rect x="295" y="235" width="7" height="5" fill="#8503fa"/><rect x="302" y="235" width="6" height="5" fill="#8402ff"/><rect x="308" y="235" width="6" height="5" fill="#8202fe"/><rect x="314" y="235" width="6" height="5" fill="#8101fc"/><rect x="320" y="235" width="7" height="5" fill="#8001fb"/><rect x="327" y="235" width="6" height="5" fill="#7f01fb"/><rect x="333" y="235" width="6" height="5" fill="#7e01fa"/><rect x="339" y="235" width="6" height="5" fill="#7c00f8"/><rect x="345" y="235" width="6" height="5" fill="#7600ec"/><rect x="351" y="235" width="7" height="5" fill="#7000e0"/><rect x="358" y="235" width="6" height="5" fill="#6a00d5"/><rect x="364" y="235" width="6" height="5" fill="#6500ca"/><rect x="370" y="235" width="6" height="5" fill="#6200c4"/><rect x="376" y="235" width="13" height="5" fill="#6000c0"/><rect x="389" y="235" width="6" height="5" fill="#6100c2"/><rect x="395" y="235" width="6" height="5" fill="#6400c8"/><rect x="401" y="235" width="6" height="5" fill="#6800d0"/><rect x="407" y="235" width="7" height="5" fill="#6d00da"/><rect x="414" y="235" width="6" height="5" fill="#7400e9"/><rect x="420" y="235" width="6" height="5" fill="#7e00f9"/><rect x="426" y="235" width="6" height="5" fill="#8603f9"/><rect x="432" y="235" width="7" height="5" fill="#8d09df"/><rect x="439" y="235" width="6" height="5" fill="#940dc8"/><rect x="445" y="235" width="6" height="5" fill="#9c13aa"/><rect x="451" y="235" width="6" height="5" fill="#a31888"/><rect x="457" y="235" width="6" height="5" fill="#ad1e56"/><rect x="463" y="235" width="7" height="5" fill="#b8280c"/><rect x="470" y="235" width="6" height="5" fill="#bd2d03"/><rect x="476" y="235" width="6" height="5" fill="#be2e02"/><rect x="482" y="235" width="6" height="5" fill="#bd2d03"/><rect x="488" y="235" width="7" height="5" fill="#bf2f01"/><rect x="495" y="235" width="6" height="5" fill="#c13200"/><rect x="501" y="235" width="6" height="5" fill="#c43500"/><rect x="507" y="235" width="6" height="5" fill="#c63a00"/><rect x="513" y="235" width="6" height="5" fill="#ca3f00"/><rect x="519" y="235" width="6" height="5" fill="#cc4200"/><rect x="74" y="240" width="4" height="5" fill="#d14900"/><rect x="78" y="240" width="25" height="5" fill="#ce4400"/><rect x="103" y="240" width="6" height="5" fill="#cf4700"/><rect x="109" y="240" width="6" height="5" fill="#d24d00"/><rect x="115" y="240" width="6" height="5" fill="#d55200"/><rect x="121" y="240" width="6" height="5" fill="#d55300"/><rect x="127" y="240" width="7" height="5" fill="#d55200"/><rect x="134" y="240" width="6" height="5" fill="#d45100"/><rect x="140" y="240" width="6" height="5" fill="#d34e00"/><rect x="146" y="240" width="6" height="5" fill="#d14a00"/><rect x="152" y="240" width="7" height="5" fill="#ce4500"/><rect x="159" y="240" width="6" height="5" fill="#c93e00"/><rect x="165" y="240" width="12" height="5" fill="#c73b00"/><rect x="177" y="240" width="6" height="5" fill="#c83c00"/><rect x="183" y="240" width="7" height="5" fill="#c63900"/><rect x="190" y="240" width="6" height="5" fill="#c23300"/><rect x="196" y="240" width="6" height="5" fill="#bd2d03"/><rect x="202" y="240" width="6" height="5" fill="#b52524"/><rect x="208" y="240" width="7" height="5" fill="#a3188b"/><rect x="215" y="240" width="6" height="5" fill="#9710ba"/><rect x="221" y="240" width="6" height="5" fill="#9710bb"/><rect x="227" y="240" width="6" height="5" fill="#9911b6"/><rect x="233" y="240" width="6" height="5" fill="#9d14a5"/><rect x="239" y="240" width="7" height="5" fill="#a11792"/><rect x="246" y="240" width="6" height="5" fill="#a2178c"/><rect x="252" y="240" width="6" height="5" fill="#a2178d"/><rect x="258" y="240" width="6" height="5" fill="#9f159b"/><rect x="264" y="240" width="7" height="5" fill="#9810ba"/><rect x="271" y="240" width="6" height="5" fill="#900bd7"/><rect x="277" y="240" width="6" height="5" fill="#8c08e4"/><rect x="283" y="240" width="6" height="5" fill="#8906ee"/><rect x="289" y="240" width="6" height="5" fill="#8704f6"/><rect x="295" y="240" width="7" height="5" fill="#8503fb"/><rect x="302" y="240" width="6" height="5" fill="#8402ff"/><rect x="308" y="240" width="6" height="5" fill="#8202fe"/><rect x="314" y="240" width="6" height="5" fill="#8101fc"/><rect x="320" y="240" width="7" height="5" fill="#8001fc"/><rect x="327" y="240" width="6" height="5" fill="#8001fb"/><rect x="333" y="240" width="6" height="5" fill="#7f01fb"/><rect x="339" y="240" width="6" height="5" fill="#7d00f9"/><rect x="345" y="240" width="6" height="5" fill="#7800f0"/><rect x="351" y="240" width="7" height="5" fill="#7200e4"/><rect x="358" y="240" width="6" height="5" fill="#6c00d9"/><rect x="364" y="240" width="6" height="5" fill="#6700ce"/><rect x="370" y="240" width="6" height="5" fill="#6400c7"/><rect x="376" y="240" width="7" height="5" fill="#6200c4"/><rect x="383" y="240" width="6" height="5" fill="#6200c3"/><rect x="389" y="240" width="6" height="5" fill="#6300c5"/><rect x="395" y="240" width="6" height="5" fill="#6500cb"/><rect x="401" y="240" width="6" height="5" fill="#6900d3"/><rect x="407" y="240" width="7" height="5" fill="#6f00dd"/><rect x="414" y="240" width="6" height="5" fill="#7600ec"/><rect x="420" y="240" width="6" height="5" fill="#7e01fa"/><rect x="426" y="240" width="6" height="5" fill="#8604f7"/><rect x="432" y="240" width="7" height="5" fill="#8e09de"/><rect x="439" y="240" width="6" height="5" fill="#940ec7"/><rect x="445" y="240" width="6" height="5" fill="#9c13a8"/><rect x="451" y="240" width="6" height="5" fill="#a41884"/><rect x="457" y="240" width="6" height="5" fill="#ad1e55"/><rect x="463" y="240" width="7" height="5" fill="#b7270e"/><rect x="470" y="240" width="6" height="5" fill="#bd2d03"/><rect x="476" y="240" width="6" height="5" fill="#be2e02"/><rect x="482" y="240" width="6" height="5" fill="#bd2d03"/><rect x="488" y="240" width="7" height="5" fill="#bf2f01"/><rect x="495" y="240" width="6" height="5" fill="#c23300"/><rect x="501" y="240" width="6" height="5" fill="#c53800"/><rect x="507" y="240" width="6" height="5" fill="#cb4000"/><rect x="513" y="240" width="6" height="5" fill="#d14a00"/><rect x="519" y="240" width="6" height="5" fill="#d14900"/><rect x="74" y="245" width="4" height="5" fill="#d95c00"/><rect x="78" y="245" width="31" height="5" fill="#d65500"/><rect x="109" y="245" width="6" height="5" fill="#d75800"/><rect x="115" y="245" width="6" height="5" fill="#d85a00"/><rect x="121" y="245" width="13" height="5" fill="#d95b00"/><rect x="134" y="245" width="6" height="5" fill="#d85a00"/><rect x="140" y="245" width="6" height="5" fill="#d65600"/><rect x="146" y="245" width="6" height="5" fill="#d24d00"/><rect x="152" y="245" width="7" height="5" fill="#ce4500"/><rect x="159" y="245" width="6" height="5" fill="#ca3e00"/><rect x="165" y="245" width="12" height="5" fill="#c83c00"/><rect x="177" y="245" width="6" height="5" fill="#c93d00"/><rect x="183" y="245" width="7" height="5" fill="#c73a00"/><rect x="190" y="245" width="6" height="5" fill="#c23300"/><rect x="196" y="245" width="6" height="5" fill="#bd2d03"/><rect x="202" y="245" width="6" height="5" fill="#b52523"/><rect x="208" y="245" width="7" height="5" fill="#a21790"/><rect x="215" y="245" width="6" height="5" fill="#960fc1"/><rect x="221" y="245" width="6" height="5" fill="#960fc0"/><rect x="227" y="245" width="6" height="5" fill="#9911b4"/><rect x="233" y="245" width="6" height="5" fill="#a01699"/><rect x="239" y="245" width="7" height="5" fill="#a71b74"/><rect x="246" y="245" width="6" height="5" fill="#a81b6e"/><rect x="252" y="245" width="6" height="5" fill="#a71a75"/><rect x="258" y="245" width="6" height="5" fill="#a2178f"/><rect x="264" y="245" width="7" height="5" fill="#9911b5"/><rect x="271" y="245" width="6" height="5" fill="#900bd6"/><rect x="277" y="245" width="6" height="5" fill="#8c08e5"/><rect x="283" y="245" width="6" height="5" fill="#8905ef"/><rect x="289" y="245" width="6" height="5" fill="#8604f7"/><rect x="295" y="245" width="7" height="5" fill="#8503fc"/><rect x="302" y="245" width="6" height="5" fill="#8302fe"/><rect x="308" y="245" width="6" height="5" fill="#8202fd"/><rect x="314" y="245" width="6" height="5" fill="#8101fc"/><rect x="320" y="245" width="13" height="5" fill="#8001fb"/><rect x="333" y="245" width="6" height="5" fill="#7f01fb"/><rect x="339" y="245" width="6" height="5" fill="#7d00f9"/><rect x="345" y="245" width="6" height="5" fill="#7900f3"/><rect x="351" y="245" width="7" height="5" fill="#7400e7"/><rect x="358" y="245" width="6" height="5" fill="#6e00db"/><rect x="364" y="245" width="6" height="5" fill="#6800d1"/><rect x="370" y="245" width="6" height="5" fill="#6500c9"/><rect x="376" y="245" width="7" height="5" fill="#6300c6"/><rect x="383" y="245" width="6" height="5" fill="#6200c5"/><rect x="389" y="245" width="6" height="5" fill="#6300c6"/><rect x="395" y="245" width="6" height="5" fill="#6600cc"/><rect x="401" y="245" width="6" height="5" fill="#6a00d4"/><rect x="407" y="245" width="7" height="5" fill="#6f00df"/><rect x="414" y="245" width="6" height="5" fill="#7700ee"/><rect x="420" y="245" width="6" height="5" fill="#7f01fb"/><rect x="426" y="245" width="6" height="5" fill="#8704f6"/><rect x="432" y="245" width="7" height="5" fill="#8e09de"/><rect x="439" y="245" width="6" height="5" fill="#940ec7"/><rect x="445" y="245" width="6" height="5" fill="#9d14a5"/><rect x="451" y="245" width="6" height="5" fill="#a5197f"/><rect x="457" y="245" width="6" height="5" fill="#ac1e5b"/><rect x="463" y="245" width="7" height="5" fill="#b52521"/><rect x="470" y="245" width="6" height="5" fill="#bb2b05"/><rect x="476" y="245" width="12" height="5" fill="#bd2d03"/><rect x="488" y="245" width="7" height="5" fill="#bf2f01"/><rect x="495" y="245" width="6" height="5" fill="#c23400"/><rect x="501" y="245" width="6" height="5" fill="#c83d00"/><rect x="507" y="245" width="6" height="5" fill="#d14a00"/><rect x="513" y="245" width="6" height="5" fill="#d85a00"/><rect x="519" y="245" width="6" height="5" fill="#d95c00"/><rect x="74" y="250" width="4" height="6" fill="#e16f00"/><rect x="78" y="250" width="6" height="6" fill="#df6a00"/><rect x="84" y="250" width="6" height="6" fill="#e06b00"/><rect x="90" y="250" width="6" height="6" fill="#df6b00"/><rect x="96" y="250" width="7" height="6" fill="#df6a00"/><rect x="103" y="250" width="6" height="6" fill="#df6900"/><rect x="109" y="250" width="18" height="6" fill="#df6a00"/><rect x="127" y="250" width="7" height="6" fill="#df6900"/><rect x="134" y="250" width="6" height="6" fill="#de6600"/><rect x="140" y="250" width="6" height="6" fill="#db5f00"/><rect x="146" y="250" width="6" height="6" fill="#d45100"/><rect x="152" y="250" width="7" height="6" fill="#cd4300"/><rect x="159" y="250" width="6" height="6" fill="#c93e00"/><rect x="165" y="250" width="12" height="6" fill="#c93d00"/><rect x="177" y="250" width="6" height="6" fill="#c93e00"/><rect x="183" y="250" width="7" height="6" fill="#c73b00"/><rect x="190" y="250" width="6" height="6" fill="#c23300"/><rect x="196" y="250" width="6" height="6" fill="#bd2d03"/><rect x="202" y="250" width="6" height="6" fill="#b42424"/><rect x="208" y="250" width="7" height="6" fill="#a01697"/><rect x="215" y="250" width="6" height="6" fill="#930dcb"/><rect x="221" y="250" width="6" height="6" fill="#940dc8"/><rect x="227" y="250" width="6" height="6" fill="#9810b7"/><rect x="233" y="250" width="6" height="6" fill="#a11792"/><rect x="239" y="250" width="7" height="6" fill="#aa1c65"/><rect x="246" y="250" width="6" height="6" fill="#ab1d60"/><rect x="252" y="250" width="6" height="6" fill="#a81b6e"/><rect x="258" y="250" width="6" height="6" fill="#a2178f"/><rect x="264" y="250" width="7" height="6" fill="#9811b7"/><rect x="271" y="250" width="6" height="6" fill="#900bd6"/><rect x="277" y="250" width="6" height="6" fill="#8c07e5"/><rect x="283" y="250" width="6" height="6" fill="#8805f0"/><rect x="289" y="250" width="6" height="6" fill="#8604f8"/><rect x="295" y="250" width="7" height="6" fill="#8502fd"/><rect x="302" y="250" width="6" height="6" fill="#8302fe"/><rect x="308" y="250" width="6" height="6" fill="#8101fd"/><rect x="314" y="250" width="6" height="6" fill="#8001fc"/><rect x="320" y="250" width="19" height="6" fill="#7f01fb"/><rect x="339" y="250" width="6" height="6" fill="#7e00f9"/><rect x="345" y="250" width="6" height="6" fill="#7a00f4"/><rect x="351" y="250" width="7" height="6" fill="#7400e8"/><rect x="358" y="250" width="6" height="6" fill="#6e00dc"/><rect x="364" y="250" width="6" height="6" fill="#6800d1"/><rect x="370" y="250" width="6" height="6" fill="#6400c9"/><rect x="376" y="250" width="7" height="6" fill="#6200c5"/><rect x="383" y="250" width="6" height="6" fill="#6200c4"/><rect x="389" y="250" width="6" height="6" fill="#6300c5"/><rect x="395" y="250" width="6" height="6" fill="#6500cb"/><rect x="401" y="250" width="6" height="6" fill="#6a00d3"/><rect x="407" y="250" width="7" height="6" fill="#6f00df"/><rect x="414" y="250" width="6" height="6" fill="#7700ee"/><rect x="420" y="250" width="6" height="6" fill="#7f01fb"/><rect x="426" y="250" width="6" height="6" fill="#8704f6"/><rect x="432" y="250" width="7" height="6" fill="#8e09df"/><rect x="439" y="250" width="6" height="6" fill="#940dc9"/><rect x="445" y="250" width="6" height="6" fill="#9d14a5"/><rect x="451" y="250" width="6" height="6" fill="#a5197e"/><rect x="457" y="250" width="6" height="6" fill="#ab1d62"/><rect x="463" y="250" width="7" height="6" fill="#b22239"/><rect x="470" y="250" width="6" height="6" fill="#b92907"/><rect x="476" y="250" width="6" height="6" fill="#bd2d03"/><rect x="482" y="250" width="6" height="6" fill="#be2e02"/><rect x="488" y="250" width="7" height="6" fill="#c03000"/><rect x="495" y="250" width="6" height="6" fill="#c43500"/><rect x="501" y="250" width="6" height="6" fill="#cb4100"/><rect x="507" y="250" width="6" height="6" fill="#d55200"/><rect x="513" y="250" width="6" height="6" fill="#dd6500"/><rect x="519" y="250" width="6" height="6" fill="#e16f00"/><rect x="74" y="256" width="4" height="5" fill="#e67a00"/><rect x="78" y="256" width="6" height="5" fill="#e77e00"/><rect x="84" y="256" width="6" height="5" fill="#e88200"/><rect x="90" y="256" width="13" height="5" fill="#e98300"/><rect x="103" y="256" width="12" height="5" fill="#e88200"/><rect x="115" y="256" width="6" height="5" fill="#e87f00"/><rect x="121" y="256" width="6" height="5" fill="#e77e00"/><rect x="127" y="256" width="7" height="5" fill="#e57800"/><rect x="134" y="256" width="6" height="5" fill="#e16e00"/><rect x="140" y="256" width="6" height="5" fill="#dd6400"/><rect x="146" y="256" width="6" height="5" fill="#d65600"/><rect x="152" y="256" width="7" height="5" fill="#cf4600"/><rect x="159" y="256" width="6" height="5" fill="#ca3f00"/><rect x="165" y="256" width="18" height="5" fill="#c93e00"/><rect x="183" y="256" width="7" height="5" fill="#c63a00"/><rect x="190" y="256" width="6" height="5" fill="#c23300"/><rect x="196" y="256" width="6" height="5" fill="#bd2d03"/><rect x="202" y="256" width="6" height="5" fill="#b4242b"/><rect x="208" y="256" width="7" height="5" fill="#9d14a3"/><rect x="215" y="256" width="6" height="5" fill="#900bd5"/><rect x="221" y="256" width="6" height="5" fill="#910cd2"/><rect x="227" y="256" width="6" height="5" fill="#970fbc"/><rect x="233" y="256" width="6" height="5" fill="#a11793"/><rect x="239" y="256" width="7" height="5" fill="#aa1c66"/><rect x="246" y="256" width="6" height="5" fill="#aa1c64"/><rect x="252" y="256" width="6" height="5" fill="#a71a77"/><rect x="258" y="256" width="6" height="5" fill="#a0169a"/><rect x="264" y="256" width="7" height="5" fill="#970fbd"/><rect x="271" y="256" width="6" height="5" fill="#900ad8"/><rect x="277" y="256" width="6" height="5" fill="#8b07e7"/><rect x="283" y="256" width="6" height="5" fill="#8805f1"/><rect x="289" y="256" width="6" height="5" fill="#8603f9"/><rect x="295" y="256" width="7" height="5" fill="#8402ff"/><rect x="302" y="256" width="6" height="5" fill="#8202fd"/><rect x="308" y="256" width="6" height="5" fill="#8001fc"/><rect x="314" y="256" width="6" height="5" fill="#7f01fb"/><rect x="320" y="256" width="7" height="5" fill="#7e01fa"/><rect x="327" y="256" width="6" height="5" fill="#7f01fa"/><rect x="333" y="256" width="6" height="5" fill="#7f01fb"/><rect x="339" y="256" width="6" height="5" fill="#7d00f9"/><rect x="345" y="256" width="6" height="5" fill="#7a00f3"/><rect x="351" y="256" width="7" height="5" fill="#7400e7"/><rect x="358" y="256" width="6" height="5" fill="#6e00db"/><rect x="364" y="256" width="6" height="5" fill="#6800d0"/><rect x="370" y="256" width="6" height="5" fill="#6400c8"/><rect x="376" y="256" width="7" height="5" fill="#6200c4"/><rect x="383" y="256" width="6" height="5" fill="#6100c2"/><rect x="389" y="256" width="6" height="5" fill="#6200c4"/><rect x="395" y="256" width="6" height="5" fill="#6500c9"/><rect x="401" y="256" width="6" height="5" fill="#6900d2"/><rect x="407" y="256" width="7" height="5" fill="#6f00de"/><rect x="414" y="256" width="6" height="5" fill="#7700ee"/><rect x="420" y="256" width="6" height="5" fill="#7f01fb"/><rect x="426" y="256" width="6" height="5" fill="#8604f7"/><rect x="432" y="256" width="7" height="5" fill="#8d08e1"/><rect x="439" y="256" width="6" height="5" fill="#920ccf"/><rect x="445" y="256" width="6" height="5" fill="#9b12ac"/><rect x="451" y="256" width="6" height="5" fill="#a31888"/><rect x="457" y="256" width="6" height="5" fill="#a81b6f"/><rect x="463" y="256" width="7" height="5" fill="#af1f4f"/><rect x="470" y="256" width="6" height="5" fill="#b52521"/><rect x="476" y="256" width="6" height="5" fill="#ba2a06"/><rect x="482" y="256" width="6" height="5" fill="#bd2d03"/><rect x="488" y="256" width="7" height="5" fill="#bf2f01"/><rect x="495" y="256" width="6" height="5" fill="#c43600"/><rect x="501" y="256" width="6" height="5" fill="#cd4400"/><rect x="507" y="256" width="6" height="5" fill="#d65600"/><rect x="513" y="256" width="6" height="5" fill="#df6a00"/><rect x="519" y="256" width="6" height="5" fill="#e67a00"/><rect x="74" y="261" width="4" height="5" fill="#e88000"/><rect x="78" y="261" width="6" height="5" fill="#eb8e00"/><rect x="84" y="261" width="6" height="5" fill="#ed9800"/><rect x="90" y="261" width="6" height="5" fill="#ee9e00"/><rect x="96" y="261" width="7" height="5" fill="#ee9f00"/><rect x="103" y="261" width="6" height="5" fill="#ee9e00"/><rect x="109" y="261" width="6" height="5" fill="#ee9c00"/><rect x="115" y="261" width="6" height="5" fill="#ec9400"/><rect x="121" y="261" width="6" height="5" fill="#ea8900"/><rect x="127" y="261" width="7" height="5" fill="#e77d00"/><rect x="134" y="261" width="6" height="5" fill="#e27100"/><rect x="140" y="261" width="6" height="5" fill="#dd6500"/><rect x="146" y="261" width="6" height="5" fill="#d75700"/><rect x="152" y="261" width="7" height="5" fill="#d14a00"/><rect x="159" y="261" width="6" height="5" fill="#cb4100"/><rect x="165" y="261" width="12" height="5" fill="#c83c00"/><rect x="177" y="261" width="6" height="5" fill="#c63900"/><rect x="183" y="261" width="7" height="5" fill="#c23400"/><rect x="190" y="261" width="6" height="5" fill="#c03000"/><rect x="196" y="261" width="6" height="5" fill="#bd2d03"/><rect x="202" y="261" width="6" height="5" fill="#b2223b"/><rect x="208" y="261" width="7" height="5" fill="#9911b4"/><rect x="215" y="261" width="6" height="5" fill="#8d09e0"/><rect x="221" y="261" width="6" height="5" fill="#8f0adc"/><rect x="227" y="261" width="6" height="5" fill="#940dc9"/><rect x="233" y="261" width="6" height="5" fill="#9e14a1"/><rect x="239" y="261" width="7" height="5" fill="#a51981"/><rect x="246" y="261" width="6" height="5" fill="#a41884"/><rect x="252" y="261" width="6" height="5" fill="#a01697"/><rect x="258" y="261" width="6" height="5" fill="#9b12ae"/><rect x="264" y="261" width="7" height="5" fill="#930dcc"/><rect x="271" y="261" width="6" height="5" fill="#8e09de"/><rect x="277" y="261" width="6" height="5" fill="#8a06ea"/><rect x="283" y="261" width="6" height="5" fill="#8704f4"/><rect x="289" y="261" width="6" height="5" fill="#8503fb"/><rect x="295" y="261" width="7" height="5" fill="#8302fe"/><rect x="302" y="261" width="6" height="5" fill="#8201fd"/><rect x="308" y="261" width="6" height="5" fill="#8001fb"/><rect x="314" y="261" width="6" height="5" fill="#7e01fa"/><rect x="320" y="261" width="7" height="5" fill="#7e00f9"/><rect x="327" y="261" width="6" height="5" fill="#7e01fa"/><rect x="333" y="261" width="6" height="5" fill="#7f01fa"/><rect x="339" y="261" width="6" height="5" fill="#7d00f9"/><rect x="345" y="261" width="6" height="5" fill="#7900f1"/><rect x="351" y="261" width="7" height="5" fill="#7200e5"/><rect x="358" y="261" width="6" height="5" fill="#6c00d9"/><rect x="364" y="261" width="6" height="5" fill="#6700ce"/><rect x="370" y="261" width="6" height="5" fill="#6300c7"/><rect x="376" y="261" width="7" height="5" fill="#6100c2"/><rect x="383" y="261" width="6" height="5" fill="#6000c0"/><rect x="389" y="261" width="6" height="5" fill="#6100c2"/><rect x="395" y="261" width="6" height="5" fill="#6400c8"/><rect x="401" y="261" width="6" height="5" fill="#6800d1"/><rect x="407" y="261" width="7" height="5" fill="#6f00dd"/><rect x="414" y="261" width="6" height="5" fill="#7700ed"/><rect x="420" y="261" width="6" height="5" fill="#7f01fb"/><rect x="426" y="261" width="6" height="5" fill="#8603f8"/><rect x="432" y="261" width="7" height="5" fill="#8c08e3"/><rect x="439" y="261" width="6" height="5" fill="#910bd3"/><rect x="445" y="261" width="6" height="5" fill="#9810b7"/><rect x="451" y="261" width="6" height="5" fill="#a01698"/><rect x="457" y="261" width="6" height="5" fill="#a5197e"/><rect x="463" y="261" width="7" height="5" fill="#a91c6a"/><rect x="470" y="261" width="6" height="5" fill="#ae1f54"/><rect x="476" y="261" width="6" height="5" fill="#b3232e"/><rect x="482" y="261" width="6" height="5" fill="#b92907"/><rect x="488" y="261" width="7" height="5" fill="#bd2d03"/><rect x="495" y="261" width="6" height="5" fill="#c33400"/><rect x="501" y="261" width="6" height="5" fill="#cc4200"/><rect x="507" y="261" width="6" height="5" fill="#d65400"/><rect x="513" y="261" width="6" height="5" fill="#df6900"/><rect x="519" y="261" width="6" height="5" fill="#e88000"/><rect x="74" y="266" width="4" height="5" fill="#e88000"/><rect x="78" y="266" width="6" height="5" fill="#ed9800"/><rect x="84" y="266" width="6" height="5" fill="#efa300"/><rect x="90" y="266" width="6" height="5" fill="#f2b000"/><rect x="96" y="266" width="7" height="5" fill="#f3b700"/><rect x="103" y="266" width="6" height="5" fill="#f3b900"/><rect x="109" y="266" width="6" height="5" fill="#f3b700"/><rect x="115" y="266" width="6" height="5" fill="#f0a700"/><rect x="121" y="266" width="6" height="5" fill="#ec9600"/><rect x="127" y="266" width="7" height="5" fill="#e88000"/><rect x="134" y="266" width="6" height="5" fill="#e27200"/><rect x="140" y="266" width="6" height="5" fill="#dd6400"/><rect x="146" y="266" width="6" height="5" fill="#d65400"/><rect x="152" y="266" width="7" height="5" fill="#d04700"/><rect x="159" y="266" width="6" height="5" fill="#ca3e00"/><rect x="165" y="266" width="6" height="5" fill="#c63900"/><rect x="171" y="266" width="6" height="5" fill="#c43700"/><rect x="177" y="266" width="6" height="5" fill="#c13200"/><rect x="183" y="266" width="13" height="5" fill="#bf2f01"/><rect x="196" y="266" width="6" height="5" fill="#bb2b05"/><rect x="202" y="266" width="6" height="5" fill="#ac1e5a"/><rect x="208" y="266" width="7" height="5" fill="#940dc9"/><rect x="215" y="266" width="6" height="5" fill="#8a07e9"/><rect x="221" y="266" width="6" height="5" fill="#8c08e5"/><rect x="227" y="266" width="6" height="5" fill="#900bd5"/><rect x="233" y="266" width="6" height="5" fill="#9810b8"/><rect x="239" y="266" width="7" height="5" fill="#9c13a7"/><rect x="246" y="266" width="6" height="5" fill="#9b12ad"/><rect x="252" y="266" width="6" height="5" fill="#9810b9"/><rect x="258" y="266" width="6" height="5" fill="#930dcb"/><rect x="264" y="266" width="7" height="5" fill="#8f0ad9"/><rect x="271" y="266" width="6" height="5" fill="#8c07e6"/><rect x="277" y="266" width="6" height="5" fill="#8905f0"/><rect x="283" y="266" width="6" height="5" fill="#8603f8"/><rect x="289" y="266" width="6" height="5" fill="#8402ff"/><rect x="295" y="266" width="7" height="5" fill="#8202fe"/><rect x="302" y="266" width="6" height="5" fill="#8101fc"/><rect x="308" y="266" width="6" height="5" fill="#8001fb"/><rect x="314" y="266" width="6" height="5" fill="#7e00fa"/><rect x="320" y="266" width="7" height="5" fill="#7d00f9"/><rect x="327" y="266" width="6" height="5" fill="#7e00fa"/><rect x="333" y="266" width="6" height="5" fill="#7e01fa"/><rect x="339" y="266" width="6" height="5" fill="#7d00f9"/><rect x="345" y="266" width="6" height="5" fill="#7700ee"/><rect x="351" y="266" width="7" height="5" fill="#7000e1"/><rect x="358" y="266" width="6" height="5" fill="#6b00d5"/><rect x="364" y="266" width="6" height="5" fill="#6600cc"/><rect x="370" y="266" width="6" height="5" fill="#6300c5"/><rect x="376" y="266" width="7" height="5" fill="#6100c1"/><rect x="383" y="266" width="6" height="5" fill="#6000bf"/><rect x="389" y="266" width="6" height="5" fill="#6000c1"/><rect x="395" y="266" width="6" height="5" fill="#6300c7"/><rect x="401" y="266" width="6" height="5" fill="#6800d0"/><rect x="407" y="266" width="7" height="5" fill="#6e00dd"/><rect x="414" y="266" width="6" height="5" fill="#7600ed"/><rect x="420" y="266" width="6" height="5" fill="#7f01fa"/><rect x="426" y="266" width="6" height="5" fill="#8603fa"/><rect x="432" y="266" width="7" height="5" fill="#8b07e6"/><rect x="439" y="266" width="6" height="5" fill="#900bd7"/><rect x="445" y="266" width="6" height="5" fill="#960fc1"/><rect x="451" y="266" width="6" height="5" fill="#9d14a6"/><rect x="457" y="266" width="6" height="5" fill="#a11792"/><rect x="463" y="266" width="7" height="5" fill="#a5197d"/><rect x="470" y="266" width="6" height="5" fill="#a91b6d"/><rect x="476" y="266" width="6" height="5" fill="#ac1e5b"/><rect x="482" y="266" width="6" height="5" fill="#b2223a"/><rect x="488" y="266" width="7" height="5" fill="#b92907"/><rect x="495" y="266" width="6" height="5" fill="#c03000"/><rect x="501" y="266" width="6" height="5" fill="#c93e00"/><rect x="507" y="266" width="6" height="5" fill="#d34e00"/><rect x="513" y="266" width="6" height="5" fill="#dc6200"/><rect x="519" y="266" width="6" height="5" fill="#e88000"/><rect x="74" y="271" width="4" height="5" fill="#e57800"/><rect x="78" y="271" width="6" height="5" fill="#ec9300"/><rect x="84" y="271" width="6" height="5" fill="#eea000"/><rect x="90" y="271" width="6" height="5" fill="#f1af00"/><rect x="96" y="271" width="7" height="5" fill="#f3b900"/><rect x="103" y="271" width="12" height="5" fill="#f5c000"/><rect x="115" y="271" width="6" height="5" fill="#f1ac00"/><rect x="121" y="271" width="6" height="5" fill="#ec9600"/><rect x="127" y="271" width="7" height="5" fill="#e77e00"/><rect x="134" y="271" width="6" height="5" fill="#e16e00"/><rect x="140" y="271" width="6" height="5" fill="#db5f00"/><rect x="146" y="271" width="6" height="5" fill="#d34e00"/><rect x="152" y="271" width="7" height="5" fill="#cb4100"/><rect x="159" y="271" width="6" height="5" fill="#c63900"/><rect x="165" y="271" width="6" height="5" fill="#c13200"/><rect x="171" y="271" width="6" height="5" fill="#bf2f01"/><rect x="177" y="271" width="13" height="5" fill="#bd2d03"/><rect x="190" y="271" width="6" height="5" fill="#ba2a06"/><rect x="196" y="271" width="6" height="5" fill="#b2223a"/><rect x="202" y="271" width="6" height="5" fill="#9d14a3"/><rect x="208" y="271" width="7" height="5" fill="#8e09de"/><rect x="215" y="271" width="6" height="5" fill="#8905f0"/><rect x="221" y="271" width="6" height="5" fill="#8b07e8"/><rect x="227" y="271" width="6" height="5" fill="#8e09dd"/><rect x="233" y="271" width="6" height="5" fill="#920cd1"/><rect x="239" y="271" width="7" height="5" fill="#940dc9"/><rect x="246" y="271" width="6" height="5" fill="#920cd0"/><rect x="252" y="271" width="6" height="5" fill="#900bd5"/><rect x="258" y="271" width="6" height="5" fill="#8e09dd"/><rect x="264" y="271" width="7" height="5" fill="#8c07e6"/><rect x="271" y="271" width="6" height="5" fill="#8905ef"/><rect x="277" y="271" width="6" height="5" fill="#8704f6"/><rect x="283" y="271" width="6" height="5" fill="#8503fc"/><rect x="289" y="271" width="6" height="5" fill="#8302fe"/><rect x="295" y="271" width="7" height="5" fill="#8101fd"/><rect x="302" y="271" width="6" height="5" fill="#8001fc"/><rect x="308" y="271" width="6" height="5" fill="#7f01fa"/><rect x="314" y="271" width="6" height="5" fill="#7d00f9"/><rect x="320" y="271" width="7" height="5" fill="#7c00f8"/><rect x="327" y="271" width="6" height="5" fill="#7d00f9"/><rect x="333" y="271" width="6" height="5" fill="#7e00f9"/><rect x="339" y="271" width="6" height="5" fill="#7c00f7"/><rect x="345" y="271" width="6" height="5" fill="#7500eb"/><rect x="351" y="271" width="7" height="5" fill="#6f00dd"/><rect x="358" y="271" width="6" height="5" fill="#6900d2"/><rect x="364" y="271" width="6" height="5" fill="#6500c9"/><rect x="370" y="271" width="6" height="5" fill="#6100c3"/><rect x="376" y="271" width="7" height="5" fill="#5f00be"/><rect x="383" y="271" width="6" height="5" fill="#5e00bc"/><rect x="389" y="271" width="6" height="5" fill="#6000bf"/><rect x="395" y="271" width="6" height="5" fill="#6300c6"/><rect x="401" y="271" width="6" height="5" fill="#6800d0"/><rect x="407" y="271" width="7" height="5" fill="#6e00dc"/><rect x="414" y="271" width="6" height="5" fill="#7600ec"/><rect x="420" y="271" width="6" height="5" fill="#7e01fa"/><rect x="426" y="271" width="6" height="5" fill="#8502fd"/><rect x="432" y="271" width="7" height="5" fill="#8a06eb"/><rect x="439" y="271" width="6" height="5" fill="#8e09de"/><rect x="445" y="271" width="6" height="5" fill="#920cd0"/><rect x="451" y="271" width="6" height="5" fill="#9911b4"/><rect x="457" y="271" width="6" height="5" fill="#9e14a1"/><rect x="463" y="271" width="7" height="5" fill="#a2178e"/><rect x="470" y="271" width="6" height="5" fill="#a6197c"/><rect x="476" y="271" width="6" height="5" fill="#a81b6f"/><rect x="482" y="271" width="6" height="5" fill="#ad1e59"/><rect x="488" y="271" width="7" height="5" fill="#b52522"/><rect x="495" y="271" width="6" height="5" fill="#bd2d03"/><rect x="501" y="271" width="6" height="5" fill="#c53700"/><rect x="507" y="271" width="6" height="5" fill="#cf4700"/><rect x="513" y="271" width="6" height="5" fill="#d85900"/><rect x="519" y="271" width="6" height="5" fill="#e57800"/><rect x="74" y="276" width="4" height="5" fill="#df6900"/><rect x="78" y="276" width="6" height="5" fill="#e77f00"/><rect x="84" y="276" width="6" height="5" fill="#ea8c00"/><rect x="90" y="276" width="6" height="5" fill="#ed9b00"/><rect x="96" y="276" width="7" height="5" fill="#efa300"/><rect x="103" y="276" width="6" height="5" fill="#f1ab00"/><rect x="109" y="276" width="6" height="5" fill="#f2b100"/><rect x="115" y="276" width="6" height="5" fill="#efa300"/><rect x="121" y="276" width="6" height="5" fill="#ea8c00"/><rect x="127" y="276" width="7" height="5" fill="#e37300"/><rect x="134" y="276" width="6" height="5" fill="#dd6300"/><rect x="140" y="276" width="6" height="5" fill="#d65500"/><rect x="146" y="276" width="6" height="5" fill="#ce4500"/><rect x="152" y="276" width="7" height="5" fill="#c73a00"/><rect x="159" y="276" width="6" height="5" fill="#c13100"/><rect x="165" y="276" width="6" height="5" fill="#bc2c04"/><rect x="171" y="276" width="6" height="5" fill="#ba2a06"/><rect x="177" y="276" width="6" height="5" fill="#b92907"/><rect x="183" y="276" width="7" height="5" fill="#b82808"/><rect x="190" y="276" width="6" height="5" fill="#b22237"/><rect x="196" y="276" width="6" height="5" fill="#a5197f"/><rect x="202" y="276" width="6" height="5" fill="#970fbe"/><rect x="208" y="276" width="7" height="5" fill="#8c08e3"/><rect x="215" y="276" width="6" height="5" fill="#8905f0"/><rect x="221" y="276" width="6" height="5" fill="#8a07e9"/><rect x="227" y="276" width="6" height="5" fill="#8c08e3"/><rect x="233" y="276" width="6" height="5" fill="#8e09de"/><rect x="239" y="276" width="7" height="5" fill="#8e09dd"/><rect x="246" y="276" width="6" height="5" fill="#8d09e0"/><rect x="252" y="276" width="6" height="5" fill="#8c08e5"/><rect x="258" y="276" width="6" height="5" fill="#8a06ea"/><rect x="264" y="276" width="7" height="5" fill="#8805f1"/><rect x="271" y="276" width="6" height="5" fill="#8604f8"/><rect x="277" y="276" width="6" height="5" fill="#8503fc"/><rect x="283" y="276" width="6" height="5" fill="#8402ff"/><rect x="289" y="276" width="6" height="5" fill="#8201fd"/><rect x="295" y="276" width="7" height="5" fill="#8001fc"/><rect x="302" y="276" width="6" height="5" fill="#7f01fb"/><rect x="308" y="276" width="6" height="5" fill="#7e00f9"/><rect x="314" y="276" width="6" height="5" fill="#7b00f7"/><rect x="320" y="276" width="7" height="5" fill="#7a00f4"/><rect x="327" y="276" width="6" height="5" fill="#7c00f7"/><rect x="333" y="276" width="6" height="5" fill="#7d00f9"/><rect x="339" y="276" width="6" height="5" fill="#7a00f4"/><rect x="345" y="276" width="6" height="5" fill="#7400e7"/><rect x="351" y="276" width="7" height="5" fill="#6d00da"/><rect x="358" y="276" width="6" height="5" fill="#6700cf"/><rect x="364" y="276" width="6" height="5" fill="#6300c6"/><rect x="370" y="276" width="6" height="5" fill="#6000bf"/><rect x="376" y="276" width="7" height="5" fill="#5e00ba"/><rect x="383" y="276" width="6" height="5" fill="#5d00b9"/><rect x="389" y="276" width="6" height="5" fill="#5f00bd"/><rect x="395" y="276" width="6" height="5" fill="#6300c6"/><rect x="401" y="276" width="6" height="5" fill="#6800d0"/><rect x="407" y="276" width="7" height="5" fill="#6e00dd"/><rect x="414" y="276" width="6" height="5" fill="#7600eb"/><rect x="420" y="276" width="6" height="5" fill="#7d00f9"/><rect x="426" y="276" width="6" height="5" fill="#8402ff"/><rect x="432" y="276" width="7" height="5" fill="#8805f1"/><rect x="439" y="276" width="6" height="5" fill="#8c07e5"/><rect x="445" y="276" width="6" height="5" fill="#8f0ad9"/><rect x="451" y="276" width="6" height="5" fill="#940ec8"/><rect x="457" y="276" width="6" height="5" fill="#9911b3"/><rect x="463" y="276" width="7" height="5" fill="#9d14a2"/><rect x="470" y="276" width="6" height="5" fill="#a11792"/><rect x="476" y="276" width="6" height="5" fill="#a5197f"/><rect x="482" y="276" width="6" height="5" fill="#a91b6d"/><rect x="488" y="276" width="7" height="5" fill="#b02048"/><rect x="495" y="276" width="6" height="5" fill="#b92907"/><rect x="501" y="276" width="6" height="5" fill="#c03000"/><rect x="507" y="276" width="6" height="5" fill="#c93d00"/><rect x="513" y="276" width="6" height="5" fill="#d24d00"/><rect x="519" y="276" width="6" height="5" fill="#df6900"/><rect x="74" y="281" width="4" height="5" fill="#d85900"/><rect x="78" y="281" width="6" height="5" fill="#df6a00"/><rect x="84" y="281" width="6" height="5" fill="#e27100"/><rect x="90" y="281" width="6" height="5" fill="#e77c00"/><rect x="96" y="281" width="7" height="5" fill="#e98600"/><rect x="103" y="281" width="6" height="5" fill="#eb8e00"/><rect x="109" y="281" width="6" height="5" fill="#ec9300"/><rect x="115" y="281" width="6" height="5" fill="#ea8a00"/><rect x="121" y="281" width="6" height="5" fill="#e37400"/><rect x="127" y="281" width="7" height="5" fill="#da5e00"/><rect x="134" y="281" width="6" height="5" fill="#d55300"/><rect x="140" y="281" width="6" height="5" fill="#cf4700"/><rect x="146" y="281" width="6" height="5" fill="#c63900"/><rect x="152" y="281" width="7" height="5" fill="#c13200"/><rect x="159" y="281" width="6" height="5" fill="#bd2d03"/><rect x="165" y="281" width="6" height="5" fill="#b92907"/><rect x="171" y="281" width="6" height="5" fill="#b5251e"/><rect x="177" y="281" width="6" height="5" fill="#b3232e"/><rect x="183" y="281" width="7" height="5" fill="#b12140"/><rect x="190" y="281" width="6" height="5" fill="#a81b70"/><rect x="196" y="281" width="6" height="5" fill="#9e14a1"/><rect x="202" y="281" width="6" height="5" fill="#950ec5"/><rect x="208" y="281" width="7" height="5" fill="#8c08e4"/><rect x="215" y="281" width="6" height="5" fill="#8805f0"/><rect x="221" y="281" width="6" height="5" fill="#8a06ec"/><rect x="227" y="281" width="6" height="5" fill="#8a06eb"/><rect x="233" y="281" width="6" height="5" fill="#8a06ea"/><rect x="239" y="281" width="7" height="5" fill="#8a06eb"/><rect x="246" y="281" width="6" height="5" fill="#8906ee"/><rect x="252" y="281" width="6" height="5" fill="#8805f2"/><rect x="258" y="281" width="6" height="5" fill="#8704f6"/><rect x="264" y="281" width="7" height="5" fill="#8503fb"/><rect x="271" y="281" width="6" height="5" fill="#8402ff"/><rect x="277" y="281" width="6" height="5" fill="#8302fe"/><rect x="283" y="281" width="6" height="5" fill="#8201fd"/><rect x="289" y="281" width="6" height="5" fill="#8101fc"/><rect x="295" y="281" width="7" height="5" fill="#7f01fb"/><rect x="302" y="281" width="6" height="5" fill="#7e00f9"/><rect x="308" y="281" width="6" height="5" fill="#7c00f8"/><rect x="314" y="281" width="6" height="5" fill="#7900f1"/><rect x="320" y="281" width="7" height="5" fill="#7700ee"/><rect x="327" y="281" width="6" height="5" fill="#7900f3"/><rect x="333" y="281" width="6" height="5" fill="#7b00f6"/><rect x="339" y="281" width="6" height="5" fill="#7800f1"/><rect x="345" y="281" width="6" height="5" fill="#7200e4"/><rect x="351" y="281" width="7" height="5" fill="#6c00d7"/><rect x="358" y="281" width="6" height="5" fill="#6600cc"/><rect x="364" y="281" width="6" height="5" fill="#6200c3"/><rect x="370" y="281" width="6" height="5" fill="#5f00bc"/><rect x="376" y="281" width="13" height="5" fill="#5d00b9"/><rect x="389" y="281" width="6" height="5" fill="#5f00bd"/><rect x="395" y="281" width="6" height="5" fill="#6300c5"/><rect x="401" y="281" width="6" height="5" fill="#6800d0"/><rect x="407" y="281" width="7" height="5" fill="#6f00dd"/><rect x="414" y="281" width="6" height="5" fill="#7600ec"/><rect x="420" y="281" width="6" height="5" fill="#7d00f9"/><rect x="426" y="281" width="6" height="5" fill="#8302fe"/><rect x="432" y="281" width="7" height="5" fill="#8704f5"/><rect x="439" y="281" width="6" height="5" fill="#8a06ea"/><rect x="445" y="281" width="6" height="5" fill="#8d08e1"/><rect x="451" y="281" width="6" height="5" fill="#900bd7"/><rect x="457" y="281" width="6" height="5" fill="#940ec6"/><rect x="463" y="281" width="7" height="5" fill="#9911b3"/><rect x="470" y="281" width="6" height="5" fill="#9d14a3"/><rect x="476" y="281" width="6" height="5" fill="#a11695"/><rect x="482" y="281" width="6" height="5" fill="#a41983"/><rect x="488" y="281" width="7" height="5" fill="#aa1c68"/><rect x="495" y="281" width="6" height="5" fill="#b22238"/><rect x="501" y="281" width="6" height="5" fill="#ba2a06"/><rect x="507" y="281" width="6" height="5" fill="#c13100"/><rect x="513" y="281" width="6" height="5" fill="#ca3f00"/><rect x="519" y="281" width="6" height="5" fill="#d85900"/><rect x="74" y="286" width="4" height="6" fill="#ce4500"/><rect x="78" y="286" width="6" height="6" fill="#d55200"/><rect x="84" y="286" width="6" height="6" fill="#d75700"/><rect x="90" y="286" width="6" height="6" fill="#dc6200"/><rect x="96" y="286" width="7" height="6" fill="#df6900"/><rect x="103" y="286" width="6" height="6" fill="#df6a00"/><rect x="109" y="286" width="6" height="6" fill="#e06b00"/><rect x="115" y="286" width="6" height="6" fill="#dd6600"/><rect x="121" y="286" width="6" height="6" fill="#d75700"/><rect x="127" y="286" width="7" height="6" fill="#d04800"/><rect x="134" y="286" width="6" height="6" fill="#ca4000"/><rect x="140" y="286" width="6" height="6" fill="#c43700"/><rect x="146" y="286" width="6" height="6" fill="#be2e02"/><rect x="152" y="286" width="7" height="6" fill="#bc2c04"/><rect x="159" y="286" width="6" height="6" fill="#ba2a06"/><rect x="165" y="286" width="6" height="6" fill="#b42428"/><rect x="171" y="286" width="6" height="6" fill="#ad1e55"/><rect x="177" y="286" width="6" height="6" fill="#a91b6d"/><rect x="183" y="286" width="7" height="6" fill="#a5197e"/><rect x="190" y="286" width="6" height="6" fill="#a01699"/><rect x="196" y="286" width="6" height="6" fill="#9a12b1"/><rect x="202" y="286" width="6" height="6" fill="#920cd1"/><rect x="208" y="286" width="7" height="6" fill="#8b07e9"/><rect x="215" y="286" width="6" height="6" fill="#8704f6"/><rect x="221" y="286" width="12" height="6" fill="#8805f3"/><rect x="233" y="286" width="6" height="6" fill="#8704f4"/><rect x="239" y="286" width="7" height="6" fill="#8704f6"/><rect x="246" y="286" width="6" height="6" fill="#8603f9"/><rect x="252" y="286" width="6" height="6" fill="#8503fc"/><rect x="258" y="286" width="6" height="6" fill="#8402ff"/><rect x="264" y="286" width="7" height="6" fill="#8302fe"/><rect x="271" y="286" width="6" height="6" fill="#8201fd"/><rect x="277" y="286" width="6" height="6" fill="#8101fc"/><rect x="283" y="286" width="6" height="6" fill="#8001fb"/><rect x="289" y="286" width="6" height="6" fill="#7f01fb"/><rect x="295" y="286" width="7" height="6" fill="#7e00fa"/><rect x="302" y="286" width="6" height="6" fill="#7c00f8"/><rect x="308" y="286" width="6" height="6" fill="#7900f1"/><rect x="314" y="286" width="6" height="6" fill="#7500ea"/><rect x="320" y="286" width="7" height="6" fill="#7400e8"/><rect x="327" y="286" width="6" height="6" fill="#7700ee"/><rect x="333" y="286" width="6" height="6" fill="#7900f3"/><rect x="339" y="286" width="6" height="6" fill="#7700ed"/><rect x="345" y="286" width="6" height="6" fill="#7100e1"/><rect x="351" y="286" width="7" height="6" fill="#6a00d4"/><rect x="358" y="286" width="6" height="6" fill="#6500c9"/><rect x="364" y="286" width="6" height="6" fill="#6000c0"/><rect x="370" y="286" width="6" height="6" fill="#5e00ba"/><rect x="376" y="286" width="7" height="6" fill="#5d00b8"/><rect x="383" y="286" width="6" height="6" fill="#5d00ba"/><rect x="389" y="286" width="6" height="6" fill="#5f00bd"/><rect x="395" y="286" width="6" height="6" fill="#6200c5"/><rect x="401" y="286" width="6" height="6" fill="#6800d0"/><rect x="407" y="286" width="7" height="6" fill="#6f00de"/><rect x="414" y="286" width="6" height="6" fill="#7600ed"/><rect x="420" y="286" width="6" height="6" fill="#7d00f9"/><rect x="426" y="286" width="6" height="6" fill="#8201fd"/><rect x="432" y="286" width="7" height="6" fill="#8603f9"/><rect x="439" y="286" width="6" height="6" fill="#8905ef"/><rect x="445" y="286" width="6" height="6" fill="#8b07e9"/><rect x="451" y="286" width="6" height="6" fill="#8d08e1"/><rect x="457" y="286" width="6" height="6" fill="#900bd7"/><rect x="463" y="286" width="7" height="6" fill="#940dca"/><rect x="470" y="286" width="6" height="6" fill="#9810b7"/><rect x="476" y="286" width="6" height="6" fill="#9b13ab"/><rect x="482" y="286" width="6" height="6" fill="#9e159f"/><rect x="488" y="286" width="7" height="6" fill="#a31889"/><rect x="495" y="286" width="6" height="6" fill="#a91c6a"/><rect x="501" y="286" width="6" height="6" fill="#b22239"/><rect x="507" y="286" width="6" height="6" fill="#ba2a06"/><rect x="513" y="286" width="6" height="6" fill="#c03000"/><rect x="519" y="286" width="6" height="6" fill="#ce4500"/><rect x="74" y="292" width="4" height="5" fill="#c13100"/><rect x="78" y="292" width="6" height="5" fill="#c73a00"/><rect x="84" y="292" width="6" height="5" fill="#c93e00"/><rect x="90" y="292" width="6" height="5" fill="#ce4500"/><rect x="96" y="292" width="19" height="5" fill="#d04900"/><rect x="115" y="292" width="6" height="5" fill="#cd4400"/><rect x="121" y="292" width="6" height="5" fill="#c73a00"/><rect x="127" y="292" width="7" height="5" fill="#c13100"/><rect x="134" y="292" width="6" height="5" fill="#bd2d03"/><rect x="140" y="292" width="6" height="5" fill="#ba2a06"/><rect x="146" y="292" width="6" height="5" fill="#b82809"/><rect x="152" y="292" width="7" height="5" fill="#b5251e"/><rect x="159" y="292" width="6" height="5" fill="#b12140"/><rect x="165" y="292" width="6" height="5" fill="#aa1c67"/><rect x="171" y="292" width="6" height="5" fill="#a31887"/><rect x="177" y="292" width="6" height="5" fill="#9e159f"/><rect x="183" y="292" width="7" height="5" fill="#9b13aa"/><rect x="190" y="292" width="6" height="5" fill="#9810b7"/><rect x="196" y="292" width="6" height="5" fill="#940dc8"/><rect x="202" y="292" width="6" height="5" fill="#8f0ad9"/><rect x="208" y="292" width="7" height="5" fill="#8906ee"/><rect x="215" y="292" width="6" height="5" fill="#8603f9"/><rect x="221" y="292" width="6" height="5" fill="#8604f8"/><rect x="227" y="292" width="6" height="5" fill="#8603f9"/><rect x="233" y="292" width="6" height="5" fill="#8503fb"/><rect x="239" y="292" width="7" height="5" fill="#8402fd"/><rect x="246" y="292" width="6" height="5" fill="#8302fe"/><rect x="252" y="292" width="6" height="5" fill="#8202fd"/><rect x="258" y="292" width="6" height="5" fill="#8101fc"/><rect x="264" y="292" width="7" height="5" fill="#8001fc"/><rect x="271" y="292" width="6" height="5" fill="#7f01fb"/><rect x="277" y="292" width="6" height="5" fill="#7f01fa"/><rect x="283" y="292" width="6" height="5" fill="#7e00fa"/><rect x="289" y="292" width="6" height="5" fill="#7d00f9"/><rect x="295" y="292" width="7" height="5" fill="#7c00f8"/><rect x="302" y="292" width="6" height="5" fill="#7900f2"/><rect x="308" y="292" width="6" height="5" fill="#7600eb"/><rect x="314" y="292" width="6" height="5" fill="#7200e4"/><rect x="320" y="292" width="7" height="5" fill="#7100e2"/><rect x="327" y="292" width="6" height="5" fill="#7400e8"/><rect x="333" y="292" width="6" height="5" fill="#7700ed"/><rect x="339" y="292" width="6" height="5" fill="#7400e8"/><rect x="345" y="292" width="6" height="5" fill="#6e00dc"/><rect x="351" y="292" width="7" height="5" fill="#6800cf"/><rect x="358" y="292" width="6" height="5" fill="#6200c5"/><rect x="364" y="292" width="6" height="5" fill="#5f00bd"/><rect x="370" y="292" width="6" height="5" fill="#5d00b8"/><rect x="376" y="292" width="7" height="5" fill="#5c00b7"/><rect x="383" y="292" width="6" height="5" fill="#5d00ba"/><rect x="389" y="292" width="6" height="5" fill="#5f00be"/><rect x="395" y="292" width="6" height="5" fill="#6300c6"/><rect x="401" y="292" width="6" height="5" fill="#6900d2"/><rect x="407" y="292" width="7" height="5" fill="#7000e0"/><rect x="414" y="292" width="6" height="5" fill="#7700ed"/><rect x="420" y="292" width="6" height="5" fill="#7d00f9"/><rect x="426" y="292" width="6" height="5" fill="#8101fc"/><rect x="432" y="292" width="7" height="5" fill="#8502fd"/><rect x="439" y="292" width="6" height="5" fill="#8704f4"/><rect x="445" y="292" width="6" height="5" fill="#8906ed"/><rect x="451" y="292" width="6" height="5" fill="#8a07e9"/><rect x="457" y="292" width="6" height="5" fill="#8c08e5"/><rect x="463" y="292" width="7" height="5" fill="#8d09df"/><rect x="470" y="292" width="6" height="5" fill="#900bd7"/><rect x="476" y="292" width="6" height="5" fill="#930dcb"/><rect x="482" y="292" width="6" height="5" fill="#9710bb"/><rect x="488" y="292" width="7" height="5" fill="#9b13ab"/><rect x="495" y="292" width="6" height="5" fill="#a01699"/><rect x="501" y="292" width="6" height="5" fill="#a71b74"/><rect x="507" y="292" width="6" height="5" fill="#b12141"/><rect x="513" y="292" width="6" height="5" fill="#b82808"/><rect x="519" y="292" width="6" height="5" fill="#c13100"/><rect x="74" y="297" width="4" height="5" fill="#b72713"/><rect x="78" y="297" width="6" height="5" fill="#bb2b05"/><rect x="84" y="297" width="6" height="5" fill="#bc2c04"/><rect x="90" y="297" width="25" height="5" fill="#bd2d03"/><rect x="115" y="297" width="6" height="5" fill="#bb2b05"/><rect x="121" y="297" width="6" height="5" fill="#b72711"/><rect x="127" y="297" width="7" height="5" fill="#b1213d"/><rect x="134" y="297" width="6" height="5" fill="#ab1d60"/><rect x="140" y="297" width="6" height="5" fill="#a81b70"/><rect x="146" y="297" width="6" height="5" fill="#a81b6e"/><rect x="152" y="297" width="7" height="5" fill="#a71a75"/><rect x="159" y="297" width="6" height="5" fill="#a3188a"/><rect x="165" y="297" width="6" height="5" fill="#9e15a0"/><rect x="171" y="297" width="6" height="5" fill="#9a12b0"/><rect x="177" y="297" width="6" height="5" fill="#9810b9"/><rect x="183" y="297" width="7" height="5" fill="#950ec5"/><rect x="190" y="297" width="6" height="5" fill="#910bd4"/><rect x="196" y="297" width="6" height="5" fill="#8f0adb"/><rect x="202" y="297" width="6" height="5" fill="#8c08e5"/><rect x="208" y="297" width="7" height="5" fill="#8704f6"/><rect x="215" y="297" width="18" height="5" fill="#8402ff"/><rect x="233" y="297" width="6" height="5" fill="#8302fe"/><rect x="239" y="297" width="7" height="5" fill="#8202fd"/><rect x="246" y="297" width="6" height="5" fill="#8101fc"/><rect x="252" y="297" width="6" height="5" fill="#7f01fb"/><rect x="258" y="297" width="6" height="5" fill="#7e00f9"/><rect x="264" y="297" width="7" height="5" fill="#7d00f9"/><rect x="271" y="297" width="6" height="5" fill="#7c00f8"/><rect x="277" y="297" width="6" height="5" fill="#7b00f6"/><rect x="283" y="297" width="6" height="5" fill="#7a00f4"/><rect x="289" y="297" width="6" height="5" fill="#7900f1"/><rect x="295" y="297" width="7" height="5" fill="#7700ee"/><rect x="302" y="297" width="6" height="5" fill="#7400e8"/><rect x="308" y="297" width="6" height="5" fill="#7100e2"/><rect x="314" y="297" width="6" height="5" fill="#6e00db"/><rect x="320" y="297" width="7" height="5" fill="#6c00d9"/><rect x="327" y="297" width="6" height="5" fill="#6f00de"/><rect x="333" y="297" width="6" height="5" fill="#7100e2"/><rect x="339" y="297" width="6" height="5" fill="#6f00dd"/><rect x="345" y="297" width="6" height="5" fill="#6900d2"/><rect x="351" y="297" width="7" height="5" fill="#6300c6"/><rect x="358" y="297" width="6" height="5" fill="#5f00bd"/><rect x="364" y="297" width="6" height="5" fill="#5c00b7"/><rect x="370" y="297" width="13" height="5" fill="#5b00b5"/><rect x="383" y="297" width="6" height="5" fill="#5d00b8"/><rect x="389" y="297" width="6" height="5" fill="#5f00be"/><rect x="395" y="297" width="6" height="5" fill="#6400c7"/><rect x="401" y="297" width="6" height="5" fill="#6900d3"/><rect x="407" y="297" width="7" height="5" fill="#7000e0"/><rect x="414" y="297" width="6" height="5" fill="#7600eb"/><rect x="420" y="297" width="6" height="5" fill="#7c00f7"/><rect x="426" y="297" width="6" height="5" fill="#8001fb"/><rect x="432" y="297" width="7" height="5" fill="#8302fe"/><rect x="439" y="297" width="6" height="5" fill="#8603fa"/><rect x="445" y="297" width="6" height="5" fill="#8704f4"/><rect x="451" y="297" width="6" height="5" fill="#8805f2"/><rect x="457" y="297" width="6" height="5" fill="#8805f1"/><rect x="463" y="297" width="7" height="5" fill="#8905f0"/><rect x="470" y="297" width="6" height="5" fill="#8a06eb"/><rect x="476" y="297" width="6" height="5" fill="#8d08e2"/><rect x="482" y="297" width="6" height="5" fill="#8f0ad9"/><rect x="488" y="297" width="7" height="5" fill="#920ccf"/><rect x="495" y="297" width="6" height="5" fill="#970fbe"/><rect x="501" y="297" width="6" height="5" fill="#9b13ab"/><rect x="507" y="297" width="6" height="5" fill="#a11793"/><rect x="513" y="297" width="6" height="5" fill="#a91c6a"/><rect x="519" y="297" width="6" height="5" fill="#b72713"/><rect x="74" y="302" width="4" height="5" fill="#a81b6e"/><rect x="78" y="302" width="6" height="5" fill="#ae1f54"/><rect x="84" y="302" width="6" height="5" fill="#ad1e55"/><rect x="90" y="302" width="6" height="5" fill="#ad1e56"/><rect x="96" y="302" width="7" height="5" fill="#ae1e54"/><rect x="103" y="302" width="6" height="5" fill="#ae1f51"/><rect x="109" y="302" width="6" height="5" fill="#ae1f50"/><rect x="115" y="302" width="6" height="5" fill="#ac1d5d"/><rect x="121" y="302" width="6" height="5" fill="#a5197d"/><rect x="127" y="302" width="7" height="5" fill="#9f159b"/><rect x="134" y="302" width="6" height="5" fill="#9c13a6"/><rect x="140" y="302" width="6" height="5" fill="#9c13aa"/><rect x="146" y="302" width="6" height="5" fill="#9c13a9"/><rect x="152" y="302" width="7" height="5" fill="#9b13aa"/><rect x="159" y="302" width="6" height="5" fill="#9911b2"/><rect x="165" y="302" width="6" height="5" fill="#960fc0"/><rect x="171" y="302" width="6" height="5" fill="#930dca"/><rect x="177" y="302" width="6" height="5" fill="#920ccf"/><rect x="183" y="302" width="7" height="5" fill="#900bd6"/><rect x="190" y="302" width="6" height="5" fill="#8d08e1"/><rect x="196" y="302" width="6" height="5" fill="#8b07e7"/><rect x="202" y="302" width="6" height="5" fill="#8906ee"/><rect x="208" y="302" width="7" height="5" fill="#8503fb"/><rect x="215" y="302" width="12" height="5" fill="#8302fe"/><rect x="227" y="302" width="6" height="5" fill="#8202fe"/><rect x="233" y="302" width="6" height="5" fill="#8101fd"/><rect x="239" y="302" width="7" height="5" fill="#7f01fb"/><rect x="246" y="302" width="6" height="5" fill="#7d00f9"/><rect x="252" y="302" width="6" height="5" fill="#7900f3"/><rect x="258" y="302" width="6" height="5" fill="#7600ec"/><rect x="264" y="302" width="7" height="5" fill="#7400e7"/><rect x="271" y="302" width="6" height="5" fill="#7200e5"/><rect x="277" y="302" width="6" height="5" fill="#7100e2"/><rect x="283" y="302" width="6" height="5" fill="#7000df"/><rect x="289" y="302" width="6" height="5" fill="#6e00dd"/><rect x="295" y="302" width="7" height="5" fill="#6d00da"/><rect x="302" y="302" width="6" height="5" fill="#6b00d6"/><rect x="308" y="302" width="6" height="5" fill="#6800d1"/><rect x="314" y="302" width="6" height="5" fill="#6600cc"/><rect x="320" y="302" width="7" height="5" fill="#6400c9"/><rect x="327" y="302" width="6" height="5" fill="#6500ca"/><rect x="333" y="302" width="6" height="5" fill="#6500cb"/><rect x="339" y="302" width="6" height="5" fill="#6300c6"/><rect x="345" y="302" width="6" height="5" fill="#5f00be"/><rect x="351" y="302" width="7" height="5" fill="#5b00b5"/><rect x="358" y="302" width="6" height="5" fill="#5900af"/><rect x="364" y="302" width="12" height="5" fill="#5800ad"/><rect x="376" y="302" width="7" height="5" fill="#5900af"/><rect x="383" y="302" width="6" height="5" fill="#5b00b4"/><rect x="389" y="302" width="6" height="5" fill="#5e00bb"/><rect x="395" y="302" width="6" height="5" fill="#6200c5"/><rect x="401" y="302" width="6" height="5" fill="#6800d0"/><rect x="407" y="302" width="7" height="5" fill="#6e00dc"/><rect x="414" y="302" width="6" height="5" fill="#7300e7"/><rect x="420" y="302" width="6" height="5" fill="#7900f1"/><rect x="426" y="302" width="6" height="5" fill="#7d00f9"/><rect x="432" y="302" width="7" height="5" fill="#8001fc"/><rect x="439" y="302" width="6" height="5" fill="#8302fe"/><rect x="445" y="302" width="6" height="5" fill="#8503fb"/><rect x="451" y="302" width="6" height="5" fill="#8604f8"/><rect x="457" y="302" width="6" height="5" fill="#8604f7"/><rect x="463" y="302" width="7" height="5" fill="#8704f6"/><rect x="470" y="302" width="6" height="5" fill="#8704f5"/><rect x="476" y="302" width="6" height="5" fill="#8805f1"/><rect x="482" y="302" width="6" height="5" fill="#8a06ea"/><rect x="488" y="302" width="7" height="5" fill="#8d08e2"/><rect x="495" y="302" width="6" height="5" fill="#900ad8"/><rect x="501" y="302" width="6" height="5" fill="#930dcb"/><rect x="507" y="302" width="6" height="5" fill="#9811b6"/><rect x="513" y="302" width="6" height="5" fill="#9e15a0"/><rect x="519" y="302" width="6" height="5" fill="#a81b6e"/><rect x="74" y="307" width="4" height="5" fill="#a51980"/><rect x="78" y="307" width="6" height="5" fill="#a71b74"/><rect x="84" y="307" width="6" height="5" fill="#a81b71"/><rect x="90" y="307" width="6" height="5" fill="#a81b70"/><rect x="96" y="307" width="7" height="5" fill="#a81b71"/><rect x="103" y="307" width="6" height="5" fill="#a71b73"/><rect x="109" y="307" width="6" height="5" fill="#a71a77"/><rect x="115" y="307" width="6" height="5" fill="#a51980"/><rect x="121" y="307" width="6" height="5" fill="#a2178c"/><rect x="127" y="307" width="7" height="5" fill="#a01699"/><rect x="134" y="307" width="6" height="5" fill="#9e15a0"/><rect x="140" y="307" width="6" height="5" fill="#9d14a6"/><rect x="146" y="307" width="6" height="5" fill="#9b13ab"/><rect x="152" y="307" width="7" height="5" fill="#9a12b0"/><rect x="159" y="307" width="6" height="5" fill="#9911b6"/><rect x="165" y="307" width="6" height="5" fill="#960fbe"/><rect x="171" y="307" width="6" height="5" fill="#940ec7"/><rect x="177" y="307" width="6" height="5" fill="#920cd0"/><rect x="183" y="307" width="7" height="5" fill="#900ad8"/><rect x="190" y="307" width="6" height="5" fill="#8d09e0"/><rect x="196" y="307" width="6" height="5" fill="#8b07e7"/><rect x="202" y="307" width="6" height="5" fill="#8906ee"/><rect x="208" y="307" width="7" height="5" fill="#8704f5"/><rect x="215" y="307" width="6" height="5" fill="#8503fc"/><rect x="221" y="307" width="6" height="5" fill="#8402ff"/><rect x="227" y="307" width="6" height="5" fill="#8201fd"/><rect x="233" y="307" width="6" height="5" fill="#7f01fb"/><rect x="239" y="307" width="7" height="5" fill="#7d00f8"/><rect x="246" y="307" width="6" height="5" fill="#7700ef"/><rect x="252" y="307" width="6" height="5" fill="#7200e3"/><rect x="258" y="307" width="6" height="5" fill="#6d00da"/><rect x="264" y="307" width="7" height="5" fill="#6a00d3"/><rect x="271" y="307" width="6" height="5" fill="#6800d0"/><rect x="277" y="307" width="6" height="5" fill="#6600cd"/><rect x="283" y="307" width="6" height="5" fill="#6500ca"/><rect x="289" y="307" width="6" height="5" fill="#6400c8"/><rect x="295" y="307" width="7" height="5" fill="#6300c6"/><rect x="302" y="307" width="6" height="5" fill="#6100c3"/><rect x="308" y="307" width="6" height="5" fill="#6000bf"/><rect x="314" y="307" width="6" height="5" fill="#5e00bb"/><rect x="320" y="307" width="7" height="5" fill="#5c00b7"/><rect x="327" y="307" width="6" height="5" fill="#5b00b4"/><rect x="333" y="307" width="6" height="5" fill="#5900b1"/><rect x="339" y="307" width="6" height="5" fill="#5700ac"/><rect x="345" y="307" width="6" height="5" fill="#5500a7"/><rect x="351" y="307" width="7" height="5" fill="#5400a4"/><rect x="358" y="307" width="12" height="5" fill="#5300a3"/><rect x="370" y="307" width="6" height="5" fill="#5400a5"/><rect x="376" y="307" width="7" height="5" fill="#5600a9"/><rect x="383" y="307" width="6" height="5" fill="#5900b0"/><rect x="389" y="307" width="6" height="5" fill="#5c00b7"/><rect x="395" y="307" width="6" height="5" fill="#6100c2"/><rect x="401" y="307" width="6" height="5" fill="#6600cd"/><rect x="407" y="307" width="7" height="5" fill="#6c00d9"/><rect x="414" y="307" width="6" height="5" fill="#7200e3"/><rect x="420" y="307" width="6" height="5" fill="#7600ed"/><rect x="426" y="307" width="6" height="5" fill="#7b00f7"/><rect x="432" y="307" width="7" height="5" fill="#7e01fa"/><rect x="439" y="307" width="6" height="5" fill="#8001fc"/><rect x="445" y="307" width="6" height="5" fill="#8201fd"/><rect x="451" y="307" width="6" height="5" fill="#8302fe"/><rect x="457" y="307" width="6" height="5" fill="#8402ff"/><rect x="463" y="307" width="7" height="5" fill="#8503fc"/><rect x="470" y="307" width="6" height="5" fill="#8603fa"/><rect x="476" y="307" width="6" height="5" fill="#8704f6"/><rect x="482" y="307" width="6" height="5" fill="#8805f1"/><rect x="488" y="307" width="7" height="5" fill="#8b07e9"/><rect x="495" y="307" width="6" height="5" fill="#8e09de"/><rect x="501" y="307" width="6" height="5" fill="#910bd3"/><rect x="507" y="307" width="6" height="5" fill="#970fbd"/><rect x="513" y="307" width="6" height="5" fill="#9d14a3"/><rect x="519" y="307" width="6" height="5" fill="#a51980"/><rect x="74" y="312" width="4" height="5" fill="#a01699"/><rect x="78" y="312" width="6" height="5" fill="#a2178f"/><rect x="84" y="312" width="6" height="5" fill="#a3188b"/><rect x="90" y="312" width="13" height="5" fill="#a31889"/><rect x="103" y="312" width="6" height="5" fill="#a2178c"/><rect x="109" y="312" width="6" height="5" fill="#a11792"/><rect x="115" y="312" width="6" height="5" fill="#a01697"/><rect x="121" y="312" width="6" height="5" fill="#9f169a"/><rect x="127" y="312" width="7" height="5" fill="#9f159e"/><rect x="134" y="312" width="6" height="5" fill="#9d14a2"/><rect x="140" y="312" width="6" height="5" fill="#9c13a9"/><rect x="146" y="312" width="6" height="5" fill="#9a12b1"/><rect x="152" y="312" width="7" height="5" fill="#9811b7"/><rect x="159" y="312" width="6" height="5" fill="#9710bc"/><rect x="165" y="312" width="6" height="5" fill="#950ec2"/><rect x="171" y="312" width="6" height="5" fill="#930dcb"/><rect x="177" y="312" width="6" height="5" fill="#910bd4"/><rect x="183" y="312" width="7" height="5" fill="#8f0adb"/><rect x="190" y="312" width="6" height="5" fill="#8d08e2"/><rect x="196" y="312" width="6" height="5" fill="#8a07e9"/><rect x="202" y="312" width="6" height="5" fill="#8805f0"/><rect x="208" y="312" width="7" height="5" fill="#8704f6"/><rect x="215" y="312" width="6" height="5" fill="#8503fb"/><rect x="221" y="312" width="6" height="5" fill="#8302fe"/><rect x="227" y="312" width="6" height="5" fill="#8101fc"/><rect x="233" y="312" width="6" height="5" fill="#7e00fa"/><rect x="239" y="312" width="7" height="5" fill="#7900f3"/><rect x="246" y="312" width="6" height="5" fill="#7300e6"/><rect x="252" y="312" width="6" height="5" fill="#6c00d8"/><rect x="258" y="312" width="6" height="5" fill="#6700cd"/><rect x="264" y="312" width="7" height="5" fill="#6300c5"/><rect x="271" y="312" width="6" height="5" fill="#6000c0"/><rect x="277" y="312" width="6" height="5" fill="#6000bf"/><rect x="283" y="312" width="6" height="5" fill="#5f00be"/><rect x="289" y="312" width="6" height="5" fill="#5f00bc"/><rect x="295" y="312" width="7" height="5" fill="#5d00ba"/><rect x="302" y="312" width="6" height="5" fill="#5c00b7"/><rect x="308" y="312" width="6" height="5" fill="#5a00b3"/><rect x="314" y="312" width="6" height="5" fill="#5900b0"/><rect x="320" y="312" width="7" height="5" fill="#5700ac"/><rect x="327" y="312" width="6" height="5" fill="#5600a8"/><rect x="333" y="312" width="6" height="5" fill="#5400a4"/><rect x="339" y="312" width="6" height="5" fill="#51009f"/><rect x="345" y="312" width="13" height="5" fill="#50009c"/><rect x="358" y="312" width="6" height="5" fill="#51009d"/><rect x="364" y="312" width="6" height="5" fill="#51009f"/><rect x="370" y="312" width="6" height="5" fill="#5200a1"/><rect x="376" y="312" width="7" height="5" fill="#5500a6"/><rect x="383" y="312" width="6" height="5" fill="#5800ae"/><rect x="389" y="312" width="6" height="5" fill="#5c00b7"/><rect x="395" y="312" width="6" height="5" fill="#6100c2"/><rect x="401" y="312" width="6" height="5" fill="#6700ce"/><rect x="407" y="312" width="7" height="5" fill="#6c00d9"/><rect x="414" y="312" width="6" height="5" fill="#7100e3"/><rect x="420" y="312" width="6" height="5" fill="#7600ec"/><rect x="426" y="312" width="6" height="5" fill="#7b00f5"/><rect x="432" y="312" width="7" height="5" fill="#7e00f9"/><rect x="439" y="312" width="6" height="5" fill="#7f01fb"/><rect x="445" y="312" width="6" height="5" fill="#8101fc"/><rect x="451" y="312" width="6" height="5" fill="#8201fd"/><rect x="457" y="312" width="6" height="5" fill="#8302fe"/><rect x="463" y="312" width="7" height="5" fill="#8402ff"/><rect x="470" y="312" width="6" height="5" fill="#8503fc"/><rect x="476" y="312" width="6" height="5" fill="#8603f8"/><rect x="482" y="312" width="6" height="5" fill="#8704f4"/><rect x="488" y="312" width="7" height="5" fill="#8906ed"/><rect x="495" y="312" width="6" height="5" fill="#8c08e5"/><rect x="501" y="312" width="6" height="5" fill="#8f0ada"/><rect x="507" y="312" width="6" height="5" fill="#930dcd"/><rect x="513" y="312" width="6" height="5" fill="#9911b2"/><rect x="519" y="312" width="6" height="5" fill="#a01699"/><rect x="74" y="317" width="4" height="6" fill="#9a12ae"/><rect x="78" y="317" width="6" height="6" fill="#9c13a7"/><rect x="84" y="317" width="6" height="6" fill="#9d14a3"/><rect x="90" y="317" width="6" height="6" fill="#9e14a1"/><rect x="96" y="317" width="13" height="6" fill="#9e15a0"/><rect x="109" y="317" width="6" height="6" fill="#9d14a2"/><rect x="115" y="317" width="6" height="6" fill="#9d14a5"/><rect x="121" y="317" width="6" height="6" fill="#9c13a8"/><rect x="127" y="317" width="7" height="6" fill="#9b12ac"/><rect x="134" y="317" width="6" height="6" fill="#9a12b0"/><rect x="140" y="317" width="6" height="6" fill="#9811b6"/><rect x="146" y="317" width="6" height="6" fill="#970fbc"/><rect x="152" y="317" width="7" height="6" fill="#950ec2"/><rect x="159" y="317" width="6" height="6" fill="#940dc8"/><rect x="165" y="317" width="6" height="6" fill="#920ccf"/><rect x="171" y="317" width="6" height="6" fill="#910bd4"/><rect x="177" y="317" width="6" height="6" fill="#8f0ada"/><rect x="183" y="317" width="7" height="6" fill="#8d08e1"/><rect x="190" y="317" width="6" height="6" fill="#8b07e8"/><rect x="196" y="317" width="6" height="6" fill="#8906ee"/><rect x="202" y="317" width="6" height="6" fill="#8704f5"/><rect x="208" y="317" width="7" height="6" fill="#8503fb"/><rect x="215" y="317" width="6" height="6" fill="#8402ff"/><rect x="221" y="317" width="6" height="6" fill="#8202fe"/><rect x="227" y="317" width="6" height="6" fill="#8001fb"/><rect x="233" y="317" width="6" height="6" fill="#7d00f9"/><rect x="239" y="317" width="7" height="6" fill="#7700ed"/><rect x="246" y="317" width="6" height="6" fill="#6f00df"/><rect x="252" y="317" width="6" height="6" fill="#6800d1"/><rect x="258" y="317" width="6" height="6" fill="#6300c5"/><rect x="264" y="317" width="7" height="6" fill="#5e00bc"/><rect x="271" y="317" width="12" height="6" fill="#5c00b7"/><rect x="283" y="317" width="6" height="6" fill="#5d00b8"/><rect x="289" y="317" width="6" height="6" fill="#5c00b7"/><rect x="295" y="317" width="7" height="6" fill="#5b00b5"/><rect x="302" y="317" width="6" height="6" fill="#5a00b2"/><rect x="308" y="317" width="6" height="6" fill="#5800ae"/><rect x="314" y="317" width="6" height="6" fill="#5600aa"/><rect x="320" y="317" width="7" height="6" fill="#5400a6"/><rect x="327" y="317" width="6" height="6" fill="#5300a2"/><rect x="333" y="317" width="6" height="6" fill="#51009e"/><rect x="339" y="317" width="6" height="6" fill="#4f009a"/><rect x="345" y="317" width="6" height="6" fill="#4e0097"/><rect x="351" y="317" width="7" height="6" fill="#4e0098"/><rect x="358" y="317" width="6" height="6" fill="#4f009a"/><rect x="364" y="317" width="6" height="6" fill="#51009d"/><rect x="370" y="317" width="6" height="6" fill="#5200a0"/><rect x="376" y="317" width="7" height="6" fill="#5500a6"/><rect x="383" y="317" width="6" height="6" fill="#5800ae"/><rect x="389" y="317" width="6" height="6" fill="#5d00b8"/><rect x="395" y="317" width="6" height="6" fill="#6200c4"/><rect x="401" y="317" width="6" height="6" fill="#6800d0"/><rect x="407" y="317" width="7" height="6" fill="#6d00db"/><rect x="414" y="317" width="6" height="6" fill="#7200e4"/><rect x="420" y="317" width="6" height="6" fill="#7600ed"/><rect x="426" y="317" width="6" height="6" fill="#7b00f5"/><rect x="432" y="317" width="7" height="6" fill="#7d00f9"/><rect x="439" y="317" width="6" height="6" fill="#7f01fb"/><rect x="445" y="317" width="6" height="6" fill="#8001fc"/><rect x="451" y="317" width="6" height="6" fill="#8201fd"/><rect x="457" y="317" width="6" height="6" fill="#8302fe"/><rect x="463" y="317" width="7" height="6" fill="#8402ff"/><rect x="470" y="317" width="6" height="6" fill="#8503fc"/><rect x="476" y="317" width="6" height="6" fill="#8603f9"/><rect x="482" y="317" width="6" height="6" fill="#8704f6"/><rect x="488" y="317" width="7" height="6" fill="#8805f1"/><rect x="495" y="317" width="6" height="6" fill="#8a06ea"/><rect x="501" y="317" width="6" height="6" fill="#8d08e2"/><rect x="507" y="317" width="6" height="6" fill="#900ad8"/><rect x="513" y="317" width="6" height="6" fill="#940ec7"/><rect x="519" y="317" width="6" height="6" fill="#9a12ae"/><rect x="74" y="323" width="4" height="5" fill="#950ec5"/><rect x="78" y="323" width="6" height="5" fill="#960fbf"/><rect x="84" y="323" width="6" height="5" fill="#9710bb"/><rect x="90" y="323" width="6" height="5" fill="#9810b9"/><rect x="96" y="323" width="7" height="5" fill="#9810b7"/><rect x="103" y="323" width="6" height="5" fill="#9811b7"/><rect x="109" y="323" width="6" height="5" fill="#9810b8"/><rect x="115" y="323" width="6" height="5" fill="#9710bb"/><rect x="121" y="323" width="6" height="5" fill="#960fbe"/><rect x="127" y="323" width="7" height="5" fill="#960fc2"/><rect x="134" y="323" width="6" height="5" fill="#940ec6"/><rect x="140" y="323" width="6" height="5" fill="#930dcb"/><rect x="146" y="323" width="6" height="5" fill="#920cd0"/><rect x="152" y="323" width="7" height="5" fill="#910bd3"/><rect x="159" y="323" width="6" height="5" fill="#900bd6"/><rect x="165" y="323" width="6" height="5" fill="#8f0ada"/><rect x="171" y="323" width="6" height="5" fill="#8e09de"/><rect x="177" y="323" width="6" height="5" fill="#8c08e3"/><rect x="183" y="323" width="7" height="5" fill="#8b07e8"/><rect x="190" y="323" width="6" height="5" fill="#8906ee"/><rect x="196" y="323" width="6" height="5" fill="#8704f4"/><rect x="202" y="323" width="6" height="5" fill="#8603f9"/><rect x="208" y="323" width="7" height="5" fill="#8402fe"/><rect x="215" y="323" width="6" height="5" fill="#8302fe"/><rect x="221" y="323" width="6" height="5" fill="#8101fd"/><rect x="227" y="323" width="6" height="5" fill="#7f01fb"/><rect x="233" y="323" width="6" height="5" fill="#7b00f7"/><rect x="239" y="323" width="7" height="5" fill="#7500e9"/><rect x="246" y="323" width="6" height="5" fill="#6d00da"/><rect x="252" y="323" width="6" height="5" fill="#6600cc"/><rect x="258" y="323" width="6" height="5" fill="#6000c0"/><rect x="264" y="323" width="7" height="5" fill="#5d00b8"/><rect x="271" y="323" width="6" height="5" fill="#5b00b5"/><rect x="277" y="323" width="6" height="5" fill="#5c00b6"/><rect x="283" y="323" width="6" height="5" fill="#5c00b7"/><rect x="289" y="323" width="6" height="5" fill="#5c00b6"/><rect x="295" y="323" width="7" height="5" fill="#5b00b4"/><rect x="302" y="323" width="6" height="5" fill="#5900b1"/><rect x="308" y="323" width="6" height="5" fill="#5800ad"/><rect x="314" y="323" width="6" height="5" fill="#5500a7"/><rect x="320" y="323" width="7" height="5" fill="#5300a1"/><rect x="327" y="323" width="6" height="5" fill="#50009d"/><rect x="333" y="323" width="6" height="5" fill="#4f0099"/><rect x="339" y="323" width="6" height="5" fill="#4e0097"/><rect x="345" y="323" width="13" height="5" fill="#4d0096"/><rect x="358" y="323" width="6" height="5" fill="#4e0098"/><rect x="364" y="323" width="6" height="5" fill="#50009c"/><rect x="370" y="323" width="6" height="5" fill="#5200a1"/><rect x="376" y="323" width="7" height="5" fill="#5500a7"/><rect x="383" y="323" width="6" height="5" fill="#5900af"/><rect x="389" y="323" width="6" height="5" fill="#5d00ba"/><rect x="395" y="323" width="6" height="5" fill="#6300c6"/><rect x="401" y="323" width="6" height="5" fill="#6900d3"/><rect x="407" y="323" width="7" height="5" fill="#6f00de"/><rect x="414" y="323" width="6" height="5" fill="#7400e8"/><rect x="420" y="323" width="6" height="5" fill="#7800ef"/><rect x="426" y="323" width="6" height="5" fill="#7b00f6"/><rect x="432" y="323" width="7" height="5" fill="#7d00f9"/><rect x="439" y="323" width="6" height="5" fill="#7f01fa"/><rect x="445" y="323" width="6" height="5" fill="#8001fc"/><rect x="451" y="323" width="6" height="5" fill="#8101fd"/><rect x="457" y="323" width="6" height="5" fill="#8202fe"/><rect x="463" y="323" width="7" height="5" fill="#8402ff"/><rect x="470" y="323" width="6" height="5" fill="#8502fd"/><rect x="476" y="323" width="6" height="5" fill="#8503fa"/><rect x="482" y="323" width="6" height="5" fill="#8604f7"/><rect x="488" y="323" width="7" height="5" fill="#8805f3"/><rect x="495" y="323" width="6" height="5" fill="#8906ee"/><rect x="501" y="323" width="6" height="5" fill="#8b07e7"/><rect x="507" y="323" width="6" height="5" fill="#8e09de"/><rect x="513" y="323" width="6" height="5" fill="#910bd4"/><rect x="519" y="323" width="6" height="5" fill="#950ec5"/><rect x="74" y="328" width="4" height="5" fill="#900ad7"/><rect x="78" y="328" width="6" height="5" fill="#900bd5"/><rect x="84" y="328" width="6" height="5" fill="#910bd4"/><rect x="90" y="328" width="6" height="5" fill="#910bd3"/><rect x="96" y="328" width="13" height="5" fill="#910cd2"/><rect x="109" y="328" width="6" height="5" fill="#910bd3"/><rect x="115" y="328" width="6" height="5" fill="#910bd4"/><rect x="121" y="328" width="6" height="5" fill="#900bd5"/><rect x="127" y="328" width="7" height="5" fill="#900ad7"/><rect x="134" y="328" width="6" height="5" fill="#8f0ad9"/><rect x="140" y="328" width="6" height="5" fill="#8f0adb"/><rect x="146" y="328" width="6" height="5" fill="#8e09de"/><rect x="152" y="328" width="7" height="5" fill="#8d09e0"/><rect x="159" y="328" width="6" height="5" fill="#8c08e3"/><rect x="165" y="328" width="6" height="5" fill="#8c07e5"/><rect x="171" y="328" width="6" height="5" fill="#8b07e8"/><rect x="177" y="328" width="6" height="5" fill="#8a06ec"/><rect x="183" y="328" width="7" height="5" fill="#8805f1"/><rect x="190" y="328" width="6" height="5" fill="#8704f5"/><rect x="196" y="328" width="6" height="5" fill="#8603f9"/><rect x="202" y="328" width="6" height="5" fill="#8402fd"/><rect x="208" y="328" width="7" height="5" fill="#8302fe"/><rect x="215" y="328" width="6" height="5" fill="#8201fd"/><rect x="221" y="328" width="6" height="5" fill="#8001fc"/><rect x="227" y="328" width="6" height="5" fill="#7e01fa"/><rect x="233" y="328" width="6" height="5" fill="#7b00f5"/><rect x="239" y="328" width="7" height="5" fill="#7400e8"/><rect x="246" y="328" width="6" height="5" fill="#6d00d9"/><rect x="252" y="328" width="6" height="5" fill="#6600cb"/><rect x="258" y="328" width="6" height="5" fill="#6000c0"/><rect x="264" y="328" width="7" height="5" fill="#5d00b9"/><rect x="271" y="328" width="6" height="5" fill="#5c00b6"/><rect x="277" y="328" width="6" height="5" fill="#5c00b7"/><rect x="283" y="328" width="6" height="5" fill="#5c00b8"/><rect x="289" y="328" width="6" height="5" fill="#5c00b7"/><rect x="295" y="328" width="7" height="5" fill="#5b00b4"/><rect x="302" y="328" width="6" height="5" fill="#5a00b1"/><rect x="308" y="328" width="6" height="5" fill="#5700ac"/><rect x="314" y="328" width="6" height="5" fill="#5500a6"/><rect x="320" y="328" width="7" height="5" fill="#52009f"/><rect x="327" y="328" width="6" height="5" fill="#4f009b"/><rect x="333" y="328" width="6" height="5" fill="#4e0098"/><rect x="339" y="328" width="6" height="5" fill="#4e0097"/><rect x="345" y="328" width="6" height="5" fill="#4e0096"/><rect x="351" y="328" width="7" height="5" fill="#4d0096"/><rect x="358" y="328" width="6" height="5" fill="#4e0097"/><rect x="364" y="328" width="6" height="5" fill="#50009b"/><rect x="370" y="328" width="6" height="5" fill="#5300a2"/><rect x="376" y="328" width="7" height="5" fill="#5600aa"/><rect x="383" y="328" width="6" height="5" fill="#5a00b2"/><rect x="389" y="328" width="6" height="5" fill="#5e00bc"/><rect x="395" y="328" width="6" height="5" fill="#6400c8"/><rect x="401" y="328" width="6" height="5" fill="#6b00d5"/><rect x="407" y="328" width="7" height="5" fill="#7100e1"/><rect x="414" y="328" width="6" height="5" fill="#7500eb"/><rect x="420" y="328" width="6" height="5" fill="#7900f2"/><rect x="426" y="328" width="6" height="5" fill="#7c00f7"/><rect x="432" y="328" width="7" height="5" fill="#7d00f9"/><rect x="439" y="328" width="6" height="5" fill="#7e01fa"/><rect x="445" y="328" width="6" height="5" fill="#8001fb"/><rect x="451" y="328" width="6" height="5" fill="#8101fc"/><rect x="457" y="328" width="6" height="5" fill="#8202fd"/><rect x="463" y="328" width="7" height="5" fill="#8302fe"/><rect x="470" y="328" width="6" height="5" fill="#8402fe"/><rect x="476" y="328" width="6" height="5" fill="#8503fb"/><rect x="482" y="328" width="6" height="5" fill="#8603f8"/><rect x="488" y="328" width="7" height="5" fill="#8704f5"/><rect x="495" y="328" width="6" height="5" fill="#8805f1"/><rect x="501" y="328" width="6" height="5" fill="#8a06eb"/><rect x="507" y="328" width="6" height="5" fill="#8c08e5"/><rect x="513" y="328" width="6" height="5" fill="#8e09de"/><rect x="519" y="328" width="6" height="5" fill="#900ad7"/><rect x="74" y="333" width="4" height="5" fill="#8c08e4"/><rect x="78" y="333" width="12" height="5" fill="#8c08e3"/><rect x="90" y="333" width="13" height="5" fill="#8d08e2"/><rect x="103" y="333" width="12" height="5" fill="#8d08e1"/><rect x="115" y="333" width="6" height="5" fill="#8d08e2"/><rect x="121" y="333" width="6" height="5" fill="#8c08e3"/><rect x="127" y="333" width="7" height="5" fill="#8c08e4"/><rect x="134" y="333" width="6" height="5" fill="#8b07e6"/><rect x="140" y="333" width="6" height="5" fill="#8b07e8"/><rect x="146" y="333" width="6" height="5" fill="#8a06ea"/><rect x="152" y="333" width="7" height="5" fill="#8a06ec"/><rect x="159" y="333" width="6" height="5" fill="#8906ee"/><rect x="165" y="333" width="6" height="5" fill="#8905ef"/><rect x="171" y="333" width="6" height="5" fill="#8805f2"/><rect x="177" y="333" width="6" height="5" fill="#8704f5"/><rect x="183" y="333" width="7" height="5" fill="#8603f8"/><rect x="190" y="333" width="6" height="5" fill="#8503fb"/><rect x="196" y="333" width="6" height="5" fill="#8402fe"/><rect x="202" y="333" width="6" height="5" fill="#8302fe"/><rect x="208" y="333" width="7" height="5" fill="#8202fd"/><rect x="215" y="333" width="6" height="5" fill="#8101fd"/><rect x="221" y="333" width="6" height="5" fill="#8001fc"/><rect x="227" y="333" width="6" height="5" fill="#7e01fa"/><rect x="233" y="333" width="6" height="5" fill="#7b00f5"/><rect x="239" y="333" width="7" height="5" fill="#7500ea"/><rect x="246" y="333" width="6" height="5" fill="#6e00dd"/><rect x="252" y="333" width="6" height="5" fill="#6800d0"/><rect x="258" y="333" width="6" height="5" fill="#6300c5"/><rect x="264" y="333" width="7" height="5" fill="#5f00be"/><rect x="271" y="333" width="18" height="5" fill="#5e00bb"/><rect x="289" y="333" width="6" height="5" fill="#5d00ba"/><rect x="295" y="333" width="7" height="5" fill="#5c00b7"/><rect x="302" y="333" width="6" height="5" fill="#5a00b2"/><rect x="308" y="333" width="6" height="5" fill="#5800ad"/><rect x="314" y="333" width="6" height="5" fill="#5500a7"/><rect x="320" y="333" width="7" height="5" fill="#5200a1"/><rect x="327" y="333" width="6" height="5" fill="#50009d"/><rect x="333" y="333" width="6" height="5" fill="#4f009a"/><rect x="339" y="333" width="19" height="5" fill="#4f0099"/><rect x="358" y="333" width="6" height="5" fill="#4f009a"/><rect x="364" y="333" width="6" height="5" fill="#51009e"/><rect x="370" y="333" width="6" height="5" fill="#5500a6"/><rect x="376" y="333" width="7" height="5" fill="#5800ad"/><rect x="383" y="333" width="6" height="5" fill="#5c00b6"/><rect x="389" y="333" width="6" height="5" fill="#6000c0"/><rect x="395" y="333" width="6" height="5" fill="#6600cc"/><rect x="401" y="333" width="6" height="5" fill="#6c00d8"/><rect x="407" y="333" width="7" height="5" fill="#7100e3"/><rect x="414" y="333" width="6" height="5" fill="#7600ec"/><rect x="420" y="333" width="6" height="5" fill="#7900f2"/><rect x="426" y="333" width="6" height="5" fill="#7b00f7"/><rect x="432" y="333" width="7" height="5" fill="#7d00f9"/><rect x="439" y="333" width="6" height="5" fill="#7e01fa"/><rect x="445" y="333" width="6" height="5" fill="#7f01fb"/><rect x="451" y="333" width="6" height="5" fill="#8101fc"/><rect x="457" y="333" width="6" height="5" fill="#8201fd"/><rect x="463" y="333" width="7" height="5" fill="#8302fe"/><rect x="470" y="333" width="6" height="5" fill="#8402ff"/><rect x="476" y="333" width="6" height="5" fill="#8402fe"/><rect x="482" y="333" width="6" height="5" fill="#8503fc"/><rect x="488" y="333" width="7" height="5" fill="#8603f9"/><rect x="495" y="333" width="6" height="5" fill="#8704f5"/><rect x="501" y="333" width="6" height="5" fill="#8805f1"/><rect x="507" y="333" width="6" height="5" fill="#8a06ec"/><rect x="513" y="333" width="6" height="5" fill="#8b07e8"/><rect x="519" y="333" width="6" height="5" fill="#8c08e4"/><rect x="74" y="338" width="29" height="5" fill="#8905ef"/><rect x="103" y="338" width="6" height="5" fill="#8906ef"/><rect x="109" y="338" width="18" height="5" fill="#8906ee"/><rect x="127" y="338" width="7" height="5" fill="#8905ef"/><rect x="134" y="338" width="6" height="5" fill="#8805f1"/><rect x="140" y="338" width="6" height="5" fill="#8805f3"/><rect x="146" y="338" width="6" height="5" fill="#8704f5"/><rect x="152" y="338" width="13" height="5" fill="#8704f6"/><rect x="165" y="338" width="6" height="5" fill="#8604f7"/><rect x="171" y="338" width="6" height="5" fill="#8603f9"/><rect x="177" y="338" width="6" height="5" fill="#8503fc"/><rect x="183" y="338" width="7" height="5" fill="#8402ff"/><rect x="190" y="338" width="12" height="5" fill="#8302fe"/><rect x="202" y="338" width="6" height="5" fill="#8202fd"/><rect x="208" y="338" width="13" height="5" fill="#8101fc"/><rect x="221" y="338" width="6" height="5" fill="#8001fb"/><rect x="227" y="338" width="6" height="5" fill="#7e01fa"/><rect x="233" y="338" width="6" height="5" fill="#7b00f6"/><rect x="239" y="338" width="7" height="5" fill="#7600ed"/><rect x="246" y="338" width="6" height="5" fill="#7100e2"/><rect x="252" y="338" width="6" height="5" fill="#6c00d7"/><rect x="258" y="338" width="6" height="5" fill="#6600cd"/><rect x="264" y="338" width="7" height="5" fill="#6300c6"/><rect x="271" y="338" width="6" height="5" fill="#6200c3"/><rect x="277" y="338" width="6" height="5" fill="#6100c2"/><rect x="283" y="338" width="6" height="5" fill="#6100c1"/><rect x="289" y="338" width="6" height="5" fill="#6000bf"/><rect x="295" y="338" width="7" height="5" fill="#5e00bb"/><rect x="302" y="338" width="6" height="5" fill="#5b00b5"/><rect x="308" y="338" width="6" height="5" fill="#5900af"/><rect x="314" y="338" width="6" height="5" fill="#5600aa"/><rect x="320" y="338" width="7" height="5" fill="#5400a6"/><rect x="327" y="338" width="6" height="5" fill="#5300a2"/><rect x="333" y="338" width="6" height="5" fill="#51009f"/><rect x="339" y="338" width="19" height="5" fill="#51009e"/><rect x="358" y="338" width="6" height="5" fill="#52009f"/><rect x="364" y="338" width="6" height="5" fill="#5400a4"/><rect x="370" y="338" width="6" height="5" fill="#5700ac"/><rect x="376" y="338" width="7" height="5" fill="#5a00b3"/><rect x="383" y="338" width="6" height="5" fill="#5e00bb"/><rect x="389" y="338" width="6" height="5" fill="#6300c5"/><rect x="395" y="338" width="6" height="5" fill="#6800d0"/><rect x="401" y="338" width="6" height="5" fill="#6d00da"/><rect x="407" y="338" width="7" height="5" fill="#7200e4"/><rect x="414" y="338" width="6" height="5" fill="#7600ec"/><rect x="420" y="338" width="6" height="5" fill="#7900f2"/><rect x="426" y="338" width="6" height="5" fill="#7b00f7"/><rect x="432" y="338" width="7" height="5" fill="#7d00f9"/><rect x="439" y="338" width="6" height="5" fill="#7e00fa"/><rect x="445" y="338" width="6" height="5" fill="#7f01fb"/><rect x="451" y="338" width="6" height="5" fill="#8001fc"/><rect x="457" y="338" width="6" height="5" fill="#8101fd"/><rect x="463" y="338" width="7" height="5" fill="#8202fe"/><rect x="470" y="338" width="6" height="5" fill="#8302fe"/><rect x="476" y="338" width="6" height="5" fill="#8302ff"/><rect x="482" y="338" width="6" height="5" fill="#8402ff"/><rect x="488" y="338" width="7" height="5" fill="#8402fd"/><rect x="495" y="338" width="6" height="5" fill="#8503fa"/><rect x="501" y="338" width="6" height="5" fill="#8704f7"/><rect x="507" y="338" width="6" height="5" fill="#8704f3"/><rect x="513" y="338" width="6" height="5" fill="#8805f1"/><rect x="519" y="338" width="6" height="5" fill="#8905ef"/><rect x="74" y="343" width="4" height="5" fill="#8603f8"/><rect x="78" y="343" width="56" height="5" fill="#8603f9"/><rect x="134" y="343" width="6" height="5" fill="#8503fa"/><rect x="140" y="343" width="6" height="5" fill="#8503fb"/><rect x="146" y="343" width="13" height="5" fill="#8503fc"/><rect x="159" y="343" width="6" height="5" fill="#8502fd"/><rect x="165" y="343" width="6" height="5" fill="#8402fd"/><rect x="171" y="343" width="6" height="5" fill="#8402ff"/><rect x="177" y="343" width="6" height="5" fill="#8302fe"/><rect x="183" y="343" width="7" height="5" fill="#8202fd"/><rect x="190" y="343" width="12" height="5" fill="#8201fd"/><rect x="202" y="343" width="13" height="5" fill="#8101fc"/><rect x="215" y="343" width="6" height="5" fill="#8001fc"/><rect x="221" y="343" width="6" height="5" fill="#8001fb"/><rect x="227" y="343" width="6" height="5" fill="#7e01fa"/><rect x="233" y="343" width="6" height="5" fill="#7c00f7"/><rect x="239" y="343" width="7" height="5" fill="#7800f0"/><rect x="246" y="343" width="6" height="5" fill="#7400e8"/><rect x="252" y="343" width="6" height="5" fill="#7000df"/><rect x="258" y="343" width="6" height="5" fill="#6b00d6"/><rect x="264" y="343" width="7" height="5" fill="#6800d0"/><rect x="271" y="343" width="6" height="5" fill="#6600cc"/><rect x="277" y="343" width="6" height="5" fill="#6500ca"/><rect x="283" y="343" width="6" height="5" fill="#6400c8"/><rect x="289" y="343" width="6" height="5" fill="#6300c6"/><rect x="295" y="343" width="7" height="5" fill="#6100c2"/><rect x="302" y="343" width="6" height="5" fill="#5e00bb"/><rect x="308" y="343" width="6" height="5" fill="#5b00b5"/><rect x="314" y="343" width="6" height="5" fill="#5900b0"/><rect x="320" y="343" width="7" height="5" fill="#5700ac"/><rect x="327" y="343" width="6" height="5" fill="#5600a8"/><rect x="333" y="343" width="6" height="5" fill="#5400a6"/><rect x="339" y="343" width="12" height="5" fill="#5400a5"/><rect x="351" y="343" width="7" height="5" fill="#5500a6"/><rect x="358" y="343" width="6" height="5" fill="#5600a9"/><rect x="364" y="343" width="6" height="5" fill="#5800ad"/><rect x="370" y="343" width="6" height="5" fill="#5b00b4"/><rect x="376" y="343" width="7" height="5" fill="#5e00bb"/><rect x="383" y="343" width="6" height="5" fill="#6100c3"/><rect x="389" y="343" width="6" height="5" fill="#6500cb"/><rect x="395" y="343" width="6" height="5" fill="#6a00d4"/><rect x="401" y="343" width="6" height="5" fill="#6f00de"/><rect x="407" y="343" width="7" height="5" fill="#7300e7"/><rect x="414" y="343" width="6" height="5" fill="#7700ed"/><rect x="420" y="343" width="6" height="5" fill="#7900f2"/><rect x="426" y="343" width="6" height="5" fill="#7b00f6"/><rect x="432" y="343" width="7" height="5" fill="#7d00f8"/><rect x="439" y="343" width="6" height="5" fill="#7e00f9"/><rect x="445" y="343" width="6" height="5" fill="#7f01fa"/><rect x="451" y="343" width="6" height="5" fill="#8001fb"/><rect x="457" y="343" width="6" height="5" fill="#8101fc"/><rect x="463" y="343" width="7" height="5" fill="#8201fd"/><rect x="470" y="343" width="6" height="5" fill="#8202fd"/><rect x="476" y="343" width="12" height="5" fill="#8302fe"/><rect x="488" y="343" width="7" height="5" fill="#8402ff"/><rect x="495" y="343" width="6" height="5" fill="#8402fe"/><rect x="501" y="343" width="6" height="5" fill="#8503fb"/><rect x="507" y="343" width="6" height="5" fill="#8603f9"/><rect x="513" y="343" width="6" height="5" fill="#8604f8"/><rect x="519" y="343" width="6" height="5" fill="#8603f8"/><rect x="74" y="348" width="10" height="6" fill="#8402ff"/><rect x="84" y="348" width="6" height="6" fill="#8302ff"/><rect x="90" y="348" width="25" height="6" fill="#8302fe"/><rect x="115" y="348" width="12" height="6" fill="#8302ff"/><rect x="127" y="348" width="50" height="6" fill="#8302fe"/><rect x="177" y="348" width="6" height="6" fill="#8201fd"/><rect x="183" y="348" width="19" height="6" fill="#8101fc"/><rect x="202" y="348" width="19" height="6" fill="#8001fc"/><rect x="221" y="348" width="6" height="6" fill="#8001fb"/><rect x="227" y="348" width="6" height="6" fill="#7e01fa"/><rect x="233" y="348" width="6" height="6" fill="#7c00f8"/><rect x="239" y="348" width="7" height="6" fill="#7900f2"/><rect x="246" y="348" width="6" height="6" fill="#7600ed"/><rect x="252" y="348" width="6" height="6" fill="#7300e6"/><rect x="258" y="348" width="6" height="6" fill="#6f00df"/><rect x="264" y="348" width="7" height="6" fill="#6c00d9"/><rect x="271" y="348" width="6" height="6" fill="#6a00d4"/><rect x="277" y="348" width="6" height="6" fill="#6900d2"/><rect x="283" y="348" width="6" height="6" fill="#6800d0"/><rect x="289" y="348" width="6" height="6" fill="#6700cd"/><rect x="295" y="348" width="7" height="6" fill="#6500c9"/><rect x="302" y="348" width="6" height="6" fill="#6200c4"/><rect x="308" y="348" width="6" height="6" fill="#5f00be"/><rect x="314" y="348" width="6" height="6" fill="#5d00b9"/><rect x="320" y="348" width="7" height="6" fill="#5b00b5"/><rect x="327" y="348" width="6" height="6" fill="#5a00b1"/><rect x="333" y="348" width="18" height="6" fill="#5800ae"/><rect x="351" y="348" width="7" height="6" fill="#5900b0"/><rect x="358" y="348" width="6" height="6" fill="#5b00b4"/><rect x="364" y="348" width="6" height="6" fill="#5c00b7"/><rect x="370" y="348" width="6" height="6" fill="#5f00bc"/><rect x="376" y="348" width="7" height="6" fill="#6200c3"/><rect x="383" y="348" width="6" height="6" fill="#6500ca"/><rect x="389" y="348" width="6" height="6" fill="#6800d0"/><rect x="395" y="348" width="6" height="6" fill="#6c00d8"/><rect x="401" y="348" width="6" height="6" fill="#7000e1"/><rect x="407" y="348" width="7" height="6" fill="#7500e9"/><rect x="414" y="348" width="6" height="6" fill="#7700ee"/><rect x="420" y="348" width="6" height="6" fill="#7900f2"/><rect x="426" y="348" width="6" height="6" fill="#7b00f6"/><rect x="432" y="348" width="7" height="6" fill="#7c00f8"/><rect x="439" y="348" width="6" height="6" fill="#7d00f9"/><rect x="445" y="348" width="6" height="6" fill="#7f01fa"/><rect x="451" y="348" width="6" height="6" fill="#8001fb"/><rect x="457" y="348" width="6" height="6" fill="#8001fc"/><rect x="463" y="348" width="13" height="6" fill="#8101fc"/><rect x="476" y="348" width="6" height="6" fill="#8201fd"/><rect x="482" y="348" width="6" height="6" fill="#8202fe"/><rect x="488" y="348" width="13" height="6" fill="#8302fe"/><rect x="501" y="348" width="6" height="6" fill="#8402ff"/><rect x="507" y="348" width="6" height="6" fill="#8402fe"/><rect x="513" y="348" width="6" height="6" fill="#8402fd"/><rect x="519" y="348" width="6" height="6" fill="#8402ff"/><rect x="74" y="354" width="4" height="5" fill="#8202fe"/><rect x="78" y="354" width="6" height="5" fill="#8202fd"/><rect x="84" y="354" width="12" height="5" fill="#8201fd"/><rect x="96" y="354" width="25" height="5" fill="#8101fd"/><rect x="121" y="354" width="19" height="5" fill="#8201fd"/><rect x="140" y="354" width="37" height="5" fill="#8101fd"/><rect x="177" y="354" width="6" height="5" fill="#8101fc"/><rect x="183" y="354" width="32" height="5" fill="#8001fc"/><rect x="215" y="354" width="6" height="5" fill="#8001fb"/><rect x="221" y="354" width="6" height="5" fill="#7f01fb"/><rect x="227" y="354" width="6" height="5" fill="#7e00f9"/><rect x="233" y="354" width="6" height="5" fill="#7c00f8"/><rect x="239" y="354" width="7" height="5" fill="#7a00f4"/><rect x="246" y="354" width="6" height="5" fill="#7800ef"/><rect x="252" y="354" width="6" height="5" fill="#7500ea"/><rect x="258" y="354" width="6" height="5" fill="#7200e5"/><rect x="264" y="354" width="7" height="5" fill="#7000e0"/><rect x="271" y="354" width="6" height="5" fill="#6e00dc"/><rect x="277" y="354" width="6" height="5" fill="#6d00d9"/><rect x="283" y="354" width="6" height="5" fill="#6b00d7"/><rect x="289" y="354" width="6" height="5" fill="#6a00d4"/><rect x="295" y="354" width="7" height="5" fill="#6800d0"/><rect x="302" y="354" width="6" height="5" fill="#6600cc"/><rect x="308" y="354" width="6" height="5" fill="#6400c8"/><rect x="314" y="354" width="6" height="5" fill="#6200c4"/><rect x="320" y="354" width="7" height="5" fill="#6000c0"/><rect x="327" y="354" width="6" height="5" fill="#5e00bc"/><rect x="333" y="354" width="18" height="5" fill="#5d00b9"/><rect x="351" y="354" width="7" height="5" fill="#5e00ba"/><rect x="358" y="354" width="6" height="5" fill="#5f00bd"/><rect x="364" y="354" width="6" height="5" fill="#6000c0"/><rect x="370" y="354" width="6" height="5" fill="#6200c4"/><rect x="376" y="354" width="7" height="5" fill="#6500ca"/><rect x="383" y="354" width="6" height="5" fill="#6800d0"/><rect x="389" y="354" width="6" height="5" fill="#6b00d6"/><rect x="395" y="354" width="6" height="5" fill="#6e00db"/><rect x="401" y="354" width="6" height="5" fill="#7100e3"/><rect x="407" y="354" width="7" height="5" fill="#7500ea"/><rect x="414" y="354" width="6" height="5" fill="#7700ef"/><rect x="420" y="354" width="6" height="5" fill="#7900f2"/><rect x="426" y="354" width="6" height="5" fill="#7b00f5"/><rect x="432" y="354" width="7" height="5" fill="#7c00f8"/><rect x="439" y="354" width="6" height="5" fill="#7d00f9"/><rect x="445" y="354" width="6" height="5" fill="#7e01fa"/><rect x="451" y="354" width="6" height="5" fill="#8001fb"/><rect x="457" y="354" width="13" height="5" fill="#8001fc"/><rect x="470" y="354" width="12" height="5" fill="#8101fc"/><rect x="482" y="354" width="13" height="5" fill="#8101fd"/><rect x="495" y="354" width="6" height="5" fill="#8201fd"/><rect x="501" y="354" width="6" height="5" fill="#8202fe"/><rect x="507" y="354" width="12" height="5" fill="#8302fe"/><rect x="519" y="354" width="6" height="5" fill="#8202fe"/><rect x="74" y="359" width="4" height="5" fill="#8101fd"/><rect x="78" y="359" width="18" height="5" fill="#8101fc"/><rect x="96" y="359" width="106" height="5" fill="#8001fc"/><rect x="202" y="359" width="13" height="5" fill="#8001fb"/><rect x="215" y="359" width="6" height="5" fill="#7f01fb"/><rect x="221" y="359" width="6" height="5" fill="#7e01fa"/><rect x="227" y="359" width="6" height="5" fill="#7d00f9"/><rect x="233" y="359" width="6" height="5" fill="#7c00f8"/><rect x="239" y="359" width="7" height="5" fill="#7a00f4"/><rect x="246" y="359" width="6" height="5" fill="#7800f1"/><rect x="252" y="359" width="6" height="5" fill="#7700ed"/><rect x="258" y="359" width="6" height="5" fill="#7500ea"/><rect x="264" y="359" width="7" height="5" fill="#7300e6"/><rect x="271" y="359" width="6" height="5" fill="#7200e3"/><rect x="277" y="359" width="6" height="5" fill="#7000e0"/><rect x="283" y="359" width="6" height="5" fill="#6f00de"/><rect x="289" y="359" width="6" height="5" fill="#6d00db"/><rect x="295" y="359" width="7" height="5" fill="#6c00d8"/><rect x="302" y="359" width="6" height="5" fill="#6a00d4"/><rect x="308" y="359" width="6" height="5" fill="#6800d1"/><rect x="314" y="359" width="6" height="5" fill="#6700cd"/><rect x="320" y="359" width="7" height="5" fill="#6500ca"/><rect x="327" y="359" width="6" height="5" fill="#6300c6"/><rect x="333" y="359" width="6" height="5" fill="#6200c4"/><rect x="339" y="359" width="12" height="5" fill="#6200c3"/><rect x="351" y="359" width="13" height="5" fill="#6200c4"/><rect x="364" y="359" width="6" height="5" fill="#6300c7"/><rect x="370" y="359" width="6" height="5" fill="#6500cb"/><rect x="376" y="359" width="7" height="5" fill="#6800d1"/><rect x="383" y="359" width="6" height="5" fill="#6b00d6"/><rect x="389" y="359" width="6" height="5" fill="#6d00da"/><rect x="395" y="359" width="6" height="5" fill="#6f00df"/><rect x="401" y="359" width="6" height="5" fill="#7200e4"/><rect x="407" y="359" width="7" height="5" fill="#7500ea"/><rect x="414" y="359" width="6" height="5" fill="#7700ef"/><rect x="420" y="359" width="6" height="5" fill="#7900f2"/><rect x="426" y="359" width="6" height="5" fill="#7b00f5"/><rect x="432" y="359" width="7" height="5" fill="#7c00f8"/><rect x="439" y="359" width="6" height="5" fill="#7d00f9"/><rect x="445" y="359" width="6" height="5" fill="#7e01fa"/><rect x="451" y="359" width="6" height="5" fill="#7f01fb"/><rect x="457" y="359" width="6" height="5" fill="#8001fb"/><rect x="463" y="359" width="32" height="5" fill="#8001fc"/><rect x="495" y="359" width="6" height="5" fill="#8101fc"/><rect x="501" y="359" width="6" height="5" fill="#8101fd"/><rect x="507" y="359" width="12" height="5" fill="#8201fd"/><rect x="519" y="359" width="6" height="5" fill="#8101fd"/><rect x="74" y="364" width="4" height="5" fill="#8101fc"/><rect x="78" y="364" width="118" height="5" fill="#8001fc"/><rect x="196" y="364" width="12" height="5" fill="#8001fb"/><rect x="208" y="364" width="7" height="5" fill="#7f01fb"/><rect x="215" y="364" width="6" height="5" fill="#7f01fa"/><rect x="221" y="364" width="6" height="5" fill="#7e00fa"/><rect x="227" y="364" width="6" height="5" fill="#7d00f9"/><rect x="233" y="364" width="6" height="5" fill="#7c00f8"/><rect x="239" y="364" width="7" height="5" fill="#7b00f6"/><rect x="246" y="364" width="6" height="5" fill="#7a00f4"/><rect x="252" y="364" width="6" height="5" fill="#7900f1"/><rect x="258" y="364" width="6" height="5" fill="#7700ee"/><rect x="264" y="364" width="7" height="5" fill="#7500ea"/><rect x="271" y="364" width="6" height="5" fill="#7400e8"/><rect x="277" y="364" width="6" height="5" fill="#7300e6"/><rect x="283" y="364" width="6" height="5" fill="#7200e5"/><rect x="289" y="364" width="6" height="5" fill="#7100e2"/><rect x="295" y="364" width="7" height="5" fill="#6f00de"/><rect x="302" y="364" width="6" height="5" fill="#6e00db"/><rect x="308" y="364" width="6" height="5" fill="#6c00d8"/><rect x="314" y="364" width="6" height="5" fill="#6a00d5"/><rect x="320" y="364" width="7" height="5" fill="#6900d1"/><rect x="327" y="364" width="6" height="5" fill="#6700ce"/><rect x="333" y="364" width="6" height="5" fill="#6600cb"/><rect x="339" y="364" width="19" height="5" fill="#6500cb"/><rect x="358" y="364" width="6" height="5" fill="#6600cb"/><rect x="364" y="364" width="6" height="5" fill="#6700cd"/><rect x="370" y="364" width="6" height="5" fill="#6900d1"/><rect x="376" y="364" width="7" height="5" fill="#6b00d6"/><rect x="383" y="364" width="6" height="5" fill="#6d00da"/><rect x="389" y="364" width="6" height="5" fill="#6f00de"/><rect x="395" y="364" width="6" height="5" fill="#7100e2"/><rect x="401" y="364" width="6" height="5" fill="#7300e6"/><rect x="407" y="364" width="7" height="5" fill="#7500eb"/><rect x="414" y="364" width="6" height="5" fill="#7700ee"/><rect x="420" y="364" width="6" height="5" fill="#7900f2"/><rect x="426" y="364" width="6" height="5" fill="#7b00f5"/><rect x="432" y="364" width="7" height="5" fill="#7c00f8"/><rect x="439" y="364" width="6" height="5" fill="#7d00f9"/><rect x="445" y="364" width="6" height="5" fill="#7e01fa"/><rect x="451" y="364" width="6" height="5" fill="#7f01fa"/><rect x="457" y="364" width="6" height="5" fill="#7f01fb"/><rect x="463" y="364" width="7" height="5" fill="#8001fb"/><rect x="470" y="364" width="31" height="5" fill="#8001fc"/><rect x="501" y="364" width="24" height="5" fill="#8101fc"/><rect x="74" y="369" width="128" height="5" fill="#8001fb"/><rect x="202" y="369" width="6" height="5" fill="#7f01fb"/><rect x="208" y="369" width="13" height="5" fill="#7e01fa"/><rect x="221" y="369" width="6" height="5" fill="#7e00f9"/><rect x="227" y="369" width="6" height="5" fill="#7d00f9"/><rect x="233" y="369" width="13" height="5" fill="#7c00f8"/><rect x="246" y="369" width="6" height="5" fill="#7b00f7"/><rect x="252" y="369" width="6" height="5" fill="#7a00f4"/><rect x="258" y="369" width="6" height="5" fill="#7800f1"/><rect x="264" y="369" width="7" height="5" fill="#7700ee"/><rect x="271" y="369" width="6" height="5" fill="#7600eb"/><rect x="277" y="369" width="12" height="5" fill="#7500ea"/><rect x="289" y="369" width="6" height="5" fill="#7400e7"/><rect x="295" y="369" width="7" height="5" fill="#7200e4"/><rect x="302" y="369" width="6" height="5" fill="#7000e1"/><rect x="308" y="369" width="6" height="5" fill="#6f00de"/><rect x="314" y="369" width="6" height="5" fill="#6d00da"/><rect x="320" y="369" width="7" height="5" fill="#6b00d7"/><rect x="327" y="369" width="6" height="5" fill="#6a00d4"/><rect x="333" y="369" width="6" height="5" fill="#6900d2"/><rect x="339" y="369" width="19" height="5" fill="#6900d1"/><rect x="358" y="369" width="6" height="5" fill="#6900d2"/><rect x="364" y="369" width="6" height="5" fill="#6a00d4"/><rect x="370" y="369" width="6" height="5" fill="#6b00d7"/><rect x="376" y="369" width="7" height="5" fill="#6d00da"/><rect x="383" y="369" width="6" height="5" fill="#6f00de"/><rect x="389" y="369" width="6" height="5" fill="#7100e1"/><rect x="395" y="369" width="6" height="5" fill="#7200e5"/><rect x="401" y="369" width="6" height="5" fill="#7400e8"/><rect x="407" y="369" width="7" height="5" fill="#7600ec"/><rect x="414" y="369" width="6" height="5" fill="#7700ef"/><rect x="420" y="369" width="6" height="5" fill="#7900f2"/><rect x="426" y="369" width="6" height="5" fill="#7a00f5"/><rect x="432" y="369" width="7" height="5" fill="#7c00f8"/><rect x="439" y="369" width="6" height="5" fill="#7d00f9"/><rect x="445" y="369" width="6" height="5" fill="#7e00fa"/><rect x="451" y="369" width="12" height="5" fill="#7e01fa"/><rect x="463" y="369" width="7" height="5" fill="#7f01fb"/><rect x="470" y="369" width="37" height="5" fill="#8001fb"/><rect x="507" y="369" width="12" height="5" fill="#8001fc"/><rect x="519" y="369" width="6" height="5" fill="#8001fb"/><rect x="74" y="374" width="128" height="5" fill="#7f01fb"/><rect x="202" y="374" width="6" height="5" fill="#7f01fa"/><rect x="208" y="374" width="7" height="5" fill="#7e01fa"/><rect x="215" y="374" width="12" height="5" fill="#7d00f9"/><rect x="227" y="374" width="6" height="5" fill="#7d00f8"/><rect x="233" y="374" width="13" height="5" fill="#7c00f8"/><rect x="246" y="374" width="6" height="5" fill="#7c00f7"/><rect x="252" y="374" width="6" height="5" fill="#7a00f5"/><rect x="258" y="374" width="6" height="5" fill="#7900f2"/><rect x="264" y="374" width="7" height="5" fill="#7800f0"/><rect x="271" y="374" width="6" height="5" fill="#7700ee"/><rect x="277" y="374" width="6" height="5" fill="#7600ed"/><rect x="283" y="374" width="6" height="5" fill="#7600eb"/><rect x="289" y="374" width="6" height="5" fill="#7500ea"/><rect x="295" y="374" width="7" height="5" fill="#7400e8"/><rect x="302" y="374" width="6" height="5" fill="#7300e5"/><rect x="308" y="374" width="6" height="5" fill="#7100e2"/><rect x="314" y="374" width="6" height="5" fill="#6f00de"/><rect x="320" y="374" width="7" height="5" fill="#6e00db"/><rect x="327" y="374" width="6" height="5" fill="#6d00d9"/><rect x="333" y="374" width="31" height="5" fill="#6c00d8"/><rect x="364" y="374" width="6" height="5" fill="#6d00d9"/><rect x="370" y="374" width="6" height="5" fill="#6e00db"/><rect x="376" y="374" width="7" height="5" fill="#6f00de"/><rect x="383" y="374" width="6" height="5" fill="#7100e2"/><rect x="389" y="374" width="6" height="5" fill="#7200e5"/><rect x="395" y="374" width="6" height="5" fill="#7400e8"/><rect x="401" y="374" width="6" height="5" fill="#7600eb"/><rect x="407" y="374" width="7" height="5" fill="#7700ee"/><rect x="414" y="374" width="6" height="5" fill="#7800f0"/><rect x="420" y="374" width="6" height="5" fill="#7900f2"/><rect x="426" y="374" width="6" height="5" fill="#7a00f5"/><rect x="432" y="374" width="7" height="5" fill="#7c00f8"/><rect x="439" y="374" width="12" height="5" fill="#7d00f9"/><rect x="451" y="374" width="6" height="5" fill="#7e00f9"/><rect x="457" y="374" width="6" height="5" fill="#7e01fa"/><rect x="463" y="374" width="7" height="5" fill="#7f01fa"/><rect x="470" y="374" width="55" height="5" fill="#7f01fb"/><rect x="74" y="379" width="128" height="5" fill="#7e01fa"/><rect x="202" y="379" width="6" height="5" fill="#7e00fa"/><rect x="208" y="379" width="7" height="5" fill="#7e00f9"/><rect x="215" y="379" width="6" height="5" fill="#7d00f9"/><rect x="221" y="379" width="18" height="5" fill="#7c00f8"/><rect x="239" y="379" width="7" height="5" fill="#7c00f7"/><rect x="246" y="379" width="6" height="5" fill="#7b00f7"/><rect x="252" y="379" width="6" height="5" fill="#7a00f4"/><rect x="258" y="379" width="6" height="5" fill="#7900f2"/><rect x="264" y="379" width="7" height="5" fill="#7900f1"/><rect x="271" y="379" width="6" height="5" fill="#7800f0"/><rect x="277" y="379" width="6" height="5" fill="#7700ee"/><rect x="283" y="379" width="6" height="5" fill="#7600ec"/><rect x="289" y="379" width="6" height="5" fill="#7500eb"/><rect x="295" y="379" width="7" height="5" fill="#7500ea"/><rect x="302" y="379" width="6" height="5" fill="#7400e8"/><rect x="308" y="379" width="6" height="5" fill="#7200e4"/><rect x="314" y="379" width="6" height="5" fill="#7000e1"/><rect x="320" y="379" width="7" height="5" fill="#6f00df"/><rect x="327" y="379" width="43" height="5" fill="#6f00de"/><rect x="370" y="379" width="6" height="5" fill="#6f00df"/><rect x="376" y="379" width="7" height="5" fill="#7000e1"/><rect x="383" y="379" width="6" height="5" fill="#7200e4"/><rect x="389" y="379" width="6" height="5" fill="#7400e7"/><rect x="395" y="379" width="6" height="5" fill="#7500eb"/><rect x="401" y="379" width="6" height="5" fill="#7700ee"/><rect x="407" y="379" width="7" height="5" fill="#7800f0"/><rect x="414" y="379" width="6" height="5" fill="#7900f1"/><rect x="420" y="379" width="6" height="5" fill="#7900f2"/><rect x="426" y="379" width="6" height="5" fill="#7a00f5"/><rect x="432" y="379" width="7" height="5" fill="#7c00f7"/><rect x="439" y="379" width="12" height="5" fill="#7c00f8"/><rect x="451" y="379" width="6" height="5" fill="#7d00f9"/><rect x="457" y="379" width="6" height="5" fill="#7e00f9"/><rect x="463" y="379" width="7" height="5" fill="#7e00fa"/><rect x="470" y="379" width="55" height="5" fill="#7e01fa"/><rect x="74" y="384" width="141" height="6" fill="#7d00f9"/><rect x="215" y="384" width="6" height="6" fill="#7d00f8"/><rect x="221" y="384" width="6" height="6" fill="#7c00f8"/><rect x="227" y="384" width="6" height="6" fill="#7b00f6"/><rect x="233" y="384" width="6" height="6" fill="#7b00f5"/><rect x="239" y="384" width="7" height="6" fill="#7a00f5"/><rect x="246" y="384" width="6" height="6" fill="#7a00f4"/><rect x="252" y="384" width="6" height="6" fill="#7a00f3"/><rect x="258" y="384" width="6" height="6" fill="#7900f2"/><rect x="264" y="384" width="7" height="6" fill="#7900f1"/><rect x="271" y="384" width="6" height="6" fill="#7800f1"/><rect x="277" y="384" width="6" height="6" fill="#7700ee"/><rect x="283" y="384" width="6" height="6" fill="#7600ec"/><rect x="289" y="384" width="6" height="6" fill="#7500eb"/><rect x="295" y="384" width="7" height="6" fill="#7500ea"/><rect x="302" y="384" width="6" height="6" fill="#7400e8"/><rect x="308" y="384" width="6" height="6" fill="#7200e5"/><rect x="314" y="384" width="6" height="6" fill="#7100e3"/><rect x="320" y="384" width="56" height="6" fill="#7100e2"/><rect x="376" y="384" width="7" height="6" fill="#7100e3"/><rect x="383" y="384" width="6" height="6" fill="#7200e5"/><rect x="389" y="384" width="6" height="6" fill="#7400e8"/><rect x="395" y="384" width="6" height="6" fill="#7600eb"/><rect x="401" y="384" width="6" height="6" fill="#7700ef"/><rect x="407" y="384" width="7" height="6" fill="#7800f1"/><rect x="414" y="384" width="12" height="6" fill="#7900f2"/><rect x="426" y="384" width="6" height="6" fill="#7a00f5"/><rect x="432" y="384" width="7" height="6" fill="#7c00f7"/><rect x="439" y="384" width="12" height="6" fill="#7c00f8"/><rect x="451" y="384" width="74" height="6" fill="#7d00f9"/><rect x="74" y="390" width="147" height="5" fill="#7c00f8"/><rect x="221" y="390" width="6" height="5" fill="#7b00f7"/><rect x="227" y="390" width="6" height="5" fill="#7a00f5"/><rect x="233" y="390" width="6" height="5" fill="#7900f3"/><rect x="239" y="390" width="19" height="5" fill="#7900f2"/><rect x="258" y="390" width="6" height="5" fill="#7900f1"/><rect x="264" y="390" width="7" height="5" fill="#7800f1"/><rect x="271" y="390" width="6" height="5" fill="#7800f0"/><rect x="277" y="390" width="6" height="5" fill="#7700ee"/><rect x="283" y="390" width="6" height="5" fill="#7600ec"/><rect x="289" y="390" width="6" height="5" fill="#7500eb"/><rect x="295" y="390" width="7" height="5" fill="#7500ea"/><rect x="302" y="390" width="6" height="5" fill="#7400e8"/><rect x="308" y="390" width="6" height="5" fill="#7300e5"/><rect x="314" y="390" width="62" height="5" fill="#7200e4"/><rect x="376" y="390" width="7" height="5" fill="#7200e5"/><rect x="383" y="390" width="6" height="5" fill="#7300e6"/><rect x="389" y="390" width="6" height="5" fill="#7400e8"/><rect x="395" y="390" width="6" height="5" fill="#7600eb"/><rect x="401" y="390" width="6" height="5" fill="#7700ef"/><rect x="407" y="390" width="7" height="5" fill="#7800f1"/><rect x="414" y="390" width="12" height="5" fill="#7900f2"/><rect x="426" y="390" width="6" height="5" fill="#7a00f5"/><rect x="432" y="390" width="7" height="5" fill="#7b00f7"/><rect x="439" y="390" width="86" height="5" fill="#7c00f8"/><rect x="74" y="395" width="153" height="5" fill="#7a00f5"/><rect x="227" y="395" width="6" height="5" fill="#7a00f3"/><rect x="233" y="395" width="6" height="5" fill="#7900f2"/><rect x="239" y="395" width="13" height="5" fill="#7900f1"/><rect x="252" y="395" width="6" height="5" fill="#7800f0"/><rect x="258" y="395" width="6" height="5" fill="#7700ef"/><rect x="264" y="395" width="13" height="5" fill="#7700ee"/><rect x="277" y="395" width="6" height="5" fill="#7600ed"/><rect x="283" y="395" width="6" height="5" fill="#7600eb"/><rect x="289" y="395" width="6" height="5" fill="#7500eb"/><rect x="295" y="395" width="7" height="5" fill="#7500ea"/><rect x="302" y="395" width="6" height="5" fill="#7400e8"/><rect x="308" y="395" width="6" height="5" fill="#7300e5"/><rect x="314" y="395" width="56" height="5" fill="#7200e4"/><rect x="370" y="395" width="6" height="5" fill="#7200e5"/><rect x="376" y="395" width="7" height="5" fill="#7300e6"/><rect x="383" y="395" width="6" height="5" fill="#7400e8"/><rect x="389" y="395" width="6" height="5" fill="#7500e9"/><rect x="395" y="395" width="6" height="5" fill="#7600eb"/><rect x="401" y="395" width="6" height="5" fill="#7700ef"/><rect x="407" y="395" width="7" height="5" fill="#7800f1"/><rect x="414" y="395" width="12" height="5" fill="#7900f2"/><rect x="426" y="395" width="6" height="5" fill="#7a00f3"/><rect x="432" y="395" width="7" height="5" fill="#7a00f5"/><rect x="439" y="395" width="12" height="5" fill="#7b00f5"/><rect x="451" y="395" width="74" height="5" fill="#7a00f5"/><rect x="74" y="400" width="153" height="5" fill="#7900f2"/><rect x="227" y="400" width="19" height="5" fill="#7900f1"/><rect x="246" y="400" width="6" height="5" fill="#7800f0"/><rect x="252" y="400" width="6" height="5" fill="#7700ee"/><rect x="258" y="400" width="19" height="5" fill="#7600ec"/><rect x="277" y="400" width="12" height="5" fill="#7600eb"/><rect x="289" y="400" width="6" height="5" fill="#7500eb"/><rect x="295" y="400" width="7" height="5" fill="#7500ea"/><rect x="302" y="400" width="6" height="5" fill="#7400e8"/><rect x="308" y="400" width="6" height="5" fill="#7300e5"/><rect x="314" y="400" width="56" height="5" fill="#7200e4"/><rect x="370" y="400" width="6" height="5" fill="#7300e5"/><rect x="376" y="400" width="7" height="5" fill="#7400e7"/><rect x="383" y="400" width="6" height="5" fill="#7500e9"/><rect x="389" y="400" width="6" height="5" fill="#7500ea"/><rect x="395" y="400" width="6" height="5" fill="#7600eb"/><rect x="401" y="400" width="6" height="5" fill="#7700ed"/><rect x="407" y="400" width="7" height="5" fill="#7800f0"/><rect x="414" y="400" width="6" height="5" fill="#7800f1"/><rect x="420" y="400" width="12" height="5" fill="#7900f1"/><rect x="432" y="400" width="93" height="5" fill="#7900f2"/><rect x="74" y="405" width="159" height="5" fill="#7700ee"/><rect x="233" y="405" width="13" height="5" fill="#7700ef"/><rect x="246" y="405" width="6" height="5" fill="#7700ee"/><rect x="252" y="405" width="6" height="5" fill="#7600ed"/><rect x="258" y="405" width="6" height="5" fill="#7600eb"/><rect x="264" y="405" width="25" height="5" fill="#7500eb"/><rect x="289" y="405" width="6" height="5" fill="#7500ea"/><rect x="295" y="405" width="7" height="5" fill="#7500e9"/><rect x="302" y="405" width="6" height="5" fill="#7300e7"/><rect x="308" y="405" width="6" height="5" fill="#7300e5"/><rect x="314" y="405" width="56" height="5" fill="#7200e4"/><rect x="370" y="405" width="6" height="5" fill="#7200e5"/><rect x="376" y="405" width="7" height="5" fill="#7300e6"/><rect x="383" y="405" width="6" height="5" fill="#7400e7"/><rect x="389" y="405" width="12" height="5" fill="#7400e8"/><rect x="401" y="405" width="6" height="5" fill="#7500ea"/><rect x="407" y="405" width="7" height="5" fill="#7600ec"/><rect x="414" y="405" width="111" height="5" fill="#7700ee"/><rect x="74" y="410" width="141" height="5" fill="#7600eb"/><rect x="215" y="410" width="6" height="5" fill="#7500eb"/><rect x="221" y="410" width="31" height="5" fill="#7600eb"/><rect x="252" y="410" width="6" height="5" fill="#7500eb"/><rect x="258" y="410" width="31" height="5" fill="#7500ea"/><rect x="289" y="410" width="6" height="5" fill="#7500e9"/><rect x="295" y="410" width="7" height="5" fill="#7400e8"/><rect x="302" y="410" width="6" height="5" fill="#7300e6"/><rect x="308" y="410" width="75" height="5" fill="#7300e5"/><rect x="383" y="410" width="18" height="5" fill="#7300e6"/><rect x="401" y="410" width="6" height="5" fill="#7400e7"/><rect x="407" y="410" width="7" height="5" fill="#7400e9"/><rect x="414" y="410" width="6" height="5" fill="#7500ea"/><rect x="420" y="410" width="6" height="5" fill="#7500eb"/><rect x="426" y="410" width="99" height="5" fill="#7600eb"/><rect x="74" y="415" width="228" height="5" fill="#7400e8"/><rect x="302" y="415" width="105" height="5" fill="#7400e7"/><rect x="407" y="415" width="118" height="5" fill="#7400e8"/>
</g>
<path d="M250 66.5h11M202 67.5h15M247 67.5h3M261 67.5h9M195 68.5h7M217 68.5h3M244 68.5h3M267 68.5h2M189 69.5h6M218 69.5h1M220 69.5h3M227 69.5h17M267 69.5h1M187 70.5h2M217 70.5h1M220 70.5h1M223 70.5h4M267 70.5h1M189 71.5h4M215 71.5h2M220 71.5h1M267 71.5h1M277 71.5h6M193 72.5h12M214 72.5h1M218 72.5h2M267 72.5h10M279 72.5h2M379 72.5h2M416 72.5h4M196 73.5h5M211 73.5h3M217 73.5h1M277 73.5h2M354 73.5h9M376 73.5h1M415 73.5h1M417 73.5h2M194 74.5h2M209 74.5h2M216 74.5h1M276 74.5h1M318 74.5h17M353 74.5h1M359 74.5h4M414 74.5h1M418 74.5h2M169 75.5h3M193 75.5h1M207 75.5h2M215 75.5h1M275 75.5h1M315 75.5h7M325 75.5h7M415 75.5h2M420 75.5h4M425 75.5h1M170 76.5h1M193 76.5h1M204 76.5h3M213 76.5h2M274 76.5h1M315 76.5h1M317 76.5h1M320 76.5h1M326 76.5h1M417 76.5h5M425 76.5h1M161 77.5h3M170 77.5h2M178 77.5h1M191 77.5h5M201 77.5h3M212 77.5h2M275 77.5h1M316 77.5h1M320 77.5h1M327 77.5h1M425 77.5h1M159 78.5h2M172 78.5h2M179 78.5h2M194 78.5h1M198 78.5h3M212 78.5h1M214 78.5h3M275 78.5h1M316 78.5h1M319 78.5h1M325 78.5h2M425 78.5h1M153 79.5h3M174 79.5h1M180 79.5h2M193 79.5h5M211 79.5h1M214 79.5h2M275 79.5h2M319 79.5h1M324 79.5h6M425 79.5h1M427 79.5h2M150 80.5h3M164 80.5h1M175 80.5h1M180 80.5h2M190 80.5h5M211 80.5h1M273 80.5h2M320 80.5h1M322 80.5h2M384 80.5h1M425 80.5h2M429 80.5h2M148 81.5h2M164 81.5h2M175 81.5h2M181 81.5h3M187 81.5h3M194 81.5h2M212 81.5h2M273 81.5h1M320 81.5h2M381 81.5h3M422 81.5h3M431 81.5h2M155 82.5h1M162 82.5h2M166 82.5h1M174 82.5h1M177 82.5h1M181 82.5h1M183 82.5h4M196 82.5h3M214 82.5h11M273 82.5h1M378 82.5h4M417 82.5h5M433 82.5h4M471 82.5h4M156 83.5h6M167 83.5h1M175 83.5h2M181 83.5h1M185 83.5h2M199 83.5h2M225 83.5h1M273 83.5h1M375 83.5h4M409 83.5h8M437 83.5h3M470 83.5h1M472 83.5h1M475 83.5h5M157 84.5h3M164 84.5h3M187 84.5h3M194 84.5h5M226 84.5h2M272 84.5h1M372 84.5h3M376 84.5h1M408 84.5h1M437 84.5h2M473 84.5h2M480 84.5h5M147 85.5h3M160 85.5h4M190 85.5h4M228 85.5h1M271 85.5h1M370 85.5h2M374 85.5h2M407 85.5h1M436 85.5h1M147 86.5h1M150 86.5h1M175 86.5h1M183 86.5h2M229 86.5h1M269 86.5h2M368 86.5h2M371 86.5h3M406 86.5h1M434 86.5h2M475 86.5h1M146 87.5h1M150 87.5h1M165 87.5h1M174 87.5h2M181 87.5h2M184 87.5h1M192 87.5h3M230 87.5h1M267 87.5h2M367 87.5h1M369 87.5h2M401 87.5h5M436 87.5h20M146 88.5h1M151 88.5h1M165 88.5h2M173 88.5h1M176 88.5h1M183 88.5h2M191 88.5h2M195 88.5h4M230 88.5h1M266 88.5h2M367 88.5h2M400 88.5h1M456 88.5h4M146 89.5h1M150 89.5h14M165 89.5h2M174 89.5h1M176 89.5h1M190 89.5h2M199 89.5h5M230 89.5h1M268 89.5h2M365 89.5h3M398 89.5h1M400 89.5h1M457 89.5h1M471 89.5h12M146 90.5h1M149 90.5h2M152 90.5h2M164 90.5h2M167 90.5h1M175 90.5h3M189 90.5h1M204 90.5h4M230 90.5h1M270 90.5h2M366 90.5h1M368 90.5h1M392 90.5h1M396 90.5h2M399 90.5h1M401 90.5h1M458 90.5h1M467 90.5h4M483 90.5h2M146 91.5h3M154 91.5h1M168 91.5h1M177 91.5h1M189 91.5h1M208 91.5h2M230 91.5h3M271 91.5h2M367 91.5h1M369 91.5h1M385 91.5h6M392 91.5h5M399 91.5h4M459 91.5h2M463 91.5h4M485 91.5h3M102 92.5h11M146 92.5h1M155 92.5h1M169 92.5h1M179 92.5h3M189 92.5h2M210 92.5h2M233 92.5h2M265 92.5h6M289 92.5h1M368 92.5h2M384 92.5h1M390 92.5h1M392 92.5h1M397 92.5h1M403 92.5h1M461 92.5h2M488 92.5h5M100 93.5h2M113 93.5h5M137 93.5h3M155 93.5h1M170 93.5h1M181 93.5h4M189 93.5h3M212 93.5h2M234 93.5h2M265 93.5h1M332 93.5h3M369 93.5h2M384 93.5h1M390 93.5h1M392 93.5h1M397 93.5h1M403 93.5h1M493 93.5h2M98 94.5h2M118 94.5h4M134 94.5h3M140 94.5h2M155 94.5h1M171 94.5h2M182 94.5h1M185 94.5h1M190 94.5h4M201 94.5h2M214 94.5h1M235 94.5h1M265 94.5h1M328 94.5h4M335 94.5h2M383 94.5h1M390 94.5h1M393 94.5h1M404 94.5h1M495 94.5h11M510 94.5h7M96 95.5h2M122 95.5h5M131 95.5h3M142 95.5h2M147 95.5h5M155 95.5h1M173 95.5h1M183 95.5h3M193 95.5h10M215 95.5h1M235 95.5h1M266 95.5h4M326 95.5h2M337 95.5h2M383 95.5h1M391 95.5h1M393 95.5h1M506 95.5h4M517 95.5h3M95 96.5h1M127 96.5h4M144 96.5h11M156 96.5h1M171 96.5h2M183 96.5h1M186 96.5h2M195 96.5h1M197 96.5h2M203 96.5h2M216 96.5h1M235 96.5h1M268 96.5h1M324 96.5h2M339 96.5h4M378 96.5h5M391 96.5h1M393 96.5h1M520 96.5h2M77 97.5h1M93 97.5h2M152 97.5h6M170 97.5h1M182 97.5h1M188 97.5h3M195 97.5h2M205 97.5h2M217 97.5h1M234 97.5h2M259 97.5h9M322 97.5h2M343 97.5h2M375 97.5h3M391 97.5h1M393 97.5h1M395 97.5h1M522 97.5h2M78 98.5h1M92 98.5h1M157 98.5h4M168 98.5h2M174 98.5h1M182 98.5h1M191 98.5h4M197 98.5h1M207 98.5h3M218 98.5h1M233 98.5h2M257 98.5h2M320 98.5h2M345 98.5h2M355 98.5h1M362 98.5h13M390 98.5h1M393 98.5h2M396 98.5h1M79 99.5h2M93 99.5h1M161 99.5h3M166 99.5h2M175 99.5h2M181 99.5h1M196 99.5h1M210 99.5h1M219 99.5h1M232 99.5h1M257 99.5h1M319 99.5h1M347 99.5h2M355 99.5h1M359 99.5h3M387 99.5h4M393 99.5h1M397 99.5h1M81 100.5h4M94 100.5h2M163 100.5h3M177 100.5h2M180 100.5h1M194 100.5h2M211 100.5h2M220 100.5h1M232 100.5h2M256 100.5h2M318 100.5h1M349 100.5h2M355 100.5h4M386 100.5h1M392 100.5h1M398 100.5h1M85 101.5h2M96 101.5h2M146 101.5h8M179 101.5h2M192 101.5h2M213 101.5h1M220 101.5h1M232 101.5h2M256 101.5h1M279 101.5h1M318 101.5h1M344 101.5h8M355 101.5h1M382 101.5h1M385 101.5h2M391 101.5h1M399 101.5h1M85 102.5h1M92 102.5h4M146 102.5h1M152 102.5h1M191 102.5h1M211 102.5h2M215 102.5h2M221 102.5h1M233 102.5h2M253 102.5h3M271 102.5h9M317 102.5h1M340 102.5h4M355 102.5h1M387 102.5h4M77 103.5h3M85 103.5h1M90 103.5h6M146 103.5h1M150 103.5h2M189 103.5h2M194 103.5h1M210 103.5h1M216 103.5h6M234 103.5h2M250 103.5h3M270 103.5h2M279 103.5h1M316 103.5h1M341 103.5h1M354 103.5h1M75 104.5h2M80 104.5h1M84 104.5h1M96 104.5h3M147 104.5h3M188 104.5h1M194 104.5h2M208 104.5h2M216 104.5h1M235 104.5h1M249 104.5h2M272 104.5h1M280 104.5h1M315 104.5h1M329 104.5h1M341 104.5h1M353 104.5h2M523 104.5h1M81 105.5h4M99 105.5h1M187 105.5h1M194 105.5h1M196 105.5h1M206 105.5h2M217 105.5h1M236 105.5h1M249 105.5h2M272 105.5h1M280 105.5h1M314 105.5h1M327 105.5h2M342 105.5h1M352 105.5h1M522 105.5h1M97 106.5h2M149 106.5h1M186 106.5h1M193 106.5h1M196 106.5h1M204 106.5h3M218 106.5h1M236 106.5h1M248 106.5h2M272 106.5h2M279 106.5h2M313 106.5h1M326 106.5h1M342 106.5h10M522 106.5h1M96 107.5h1M150 107.5h2M180 107.5h6M193 107.5h1M197 107.5h1M207 107.5h3M218 107.5h2M236 107.5h2M248 107.5h2M274 107.5h5M312 107.5h1M324 107.5h2M327 107.5h1M521 107.5h1M95 108.5h1M152 108.5h1M185 108.5h1M193 108.5h4M210 108.5h1M216 108.5h2M236 108.5h2M247 108.5h2M311 108.5h1M322 108.5h2M327 108.5h1M520 108.5h1M95 109.5h1M153 109.5h2M162 109.5h2M184 109.5h1M211 109.5h2M214 109.5h2M237 109.5h1M246 109.5h2M310 109.5h1M322 109.5h1M326 109.5h1M520 109.5h1M94 110.5h1M155 110.5h8M184 110.5h1M213 110.5h1M237 110.5h2M246 110.5h1M310 110.5h1M322 110.5h1M326 110.5h1M518 110.5h2M94 111.5h1M160 111.5h2M183 111.5h1M202 111.5h4M237 111.5h2M246 111.5h1M309 111.5h1M322 111.5h1M327 111.5h1M494 111.5h2M504 111.5h1M515 111.5h3M94 112.5h1M151 112.5h9M183 112.5h1M202 112.5h1M206 112.5h5M238 112.5h2M246 112.5h1M308 112.5h1M322 112.5h1M327 112.5h1M493 112.5h1M496 112.5h3M502 112.5h2M513 112.5h2M94 113.5h1M112 113.5h2M182 113.5h1M202 113.5h1M211 113.5h1M239 113.5h7M297 113.5h1M308 113.5h1M322 113.5h1M328 113.5h1M492 113.5h1M499 113.5h3M504 113.5h1M510 113.5h3M94 114.5h1M110 114.5h2M114 114.5h8M182 114.5h1M203 114.5h1M211 114.5h1M244 114.5h2M298 114.5h1M307 114.5h1M322 114.5h1M328 114.5h1M491 114.5h1M499 114.5h1M504 114.5h6M95 115.5h1M109 115.5h1M114 115.5h1M122 115.5h4M182 115.5h1M203 115.5h1M212 115.5h1M245 115.5h1M307 115.5h1M323 115.5h1M329 115.5h3M491 115.5h1M498 115.5h1M503 115.5h2M96 116.5h1M108 116.5h1M126 116.5h3M181 116.5h1M213 116.5h1M217 116.5h3M306 116.5h1M323 116.5h1M332 116.5h4M480 116.5h11M497 116.5h1M503 116.5h1M97 117.5h1M107 117.5h1M129 117.5h3M167 117.5h4M180 117.5h2M204 117.5h1M214 117.5h3M220 117.5h1M306 117.5h2M321 117.5h1M323 117.5h1M335 117.5h1M476 117.5h4M495 117.5h2M503 117.5h1M98 118.5h6M106 118.5h1M108 118.5h1M132 118.5h1M159 118.5h8M171 118.5h2M181 118.5h1M204 118.5h1M220 118.5h1M290 118.5h2M308 118.5h3M322 118.5h1M333 118.5h2M474 118.5h2M494 118.5h1M502 118.5h1M103 119.5h1M105 119.5h1M109 119.5h1M133 119.5h1M172 119.5h1M182 119.5h1M203 119.5h1M221 119.5h1M290 119.5h1M292 119.5h3M311 119.5h3M321 119.5h1M331 119.5h2M473 119.5h1M494 119.5h1M502 119.5h1M102 120.5h1M104 120.5h1M110 120.5h1M134 120.5h1M172 120.5h1M177 120.5h1M183 120.5h1M203 120.5h1M221 120.5h1M291 120.5h1M295 120.5h1M314 120.5h2M320 120.5h1M329 120.5h2M473 120.5h1M494 120.5h1M502 120.5h1M102 121.5h2M134 121.5h1M172 121.5h1M175 121.5h2M184 121.5h1M203 121.5h1M222 121.5h1M291 121.5h2M295 121.5h1M316 121.5h1M319 121.5h1M327 121.5h2M472 121.5h1M493 121.5h1M502 121.5h1M100 122.5h2M135 122.5h1M172 122.5h3M185 122.5h3M199 122.5h1M203 122.5h1M223 122.5h1M293 122.5h2M296 122.5h1M317 122.5h1M319 122.5h1M325 122.5h2M472 122.5h1M493 122.5h1M501 122.5h1M99 123.5h2M135 123.5h1M172 123.5h1M188 123.5h3M200 123.5h3M223 123.5h1M293 123.5h1M296 123.5h1M309 123.5h4M318 123.5h1M324 123.5h1M471 123.5h1M493 123.5h1M501 123.5h1M98 124.5h2M136 124.5h1M191 124.5h2M202 124.5h1M224 124.5h1M291 124.5h2M297 124.5h1M308 124.5h1M313 124.5h2M323 124.5h1M471 124.5h1M493 124.5h1M500 124.5h1M97 125.5h1M136 125.5h1M193 125.5h2M202 125.5h1M225 125.5h1M290 125.5h2M293 125.5h1M297 125.5h1M308 125.5h1M314 125.5h1M322 125.5h1M470 125.5h1M493 125.5h1M500 125.5h1M137 126.5h1M195 126.5h1M202 126.5h1M226 126.5h1M289 126.5h1M292 126.5h2M298 126.5h1M308 126.5h1M314 126.5h1M321 126.5h1M470 126.5h1M476 126.5h1M493 126.5h1M499 126.5h1M91 127.5h1M138 127.5h2M177 127.5h1M195 127.5h1M202 127.5h1M227 127.5h1M288 127.5h1M291 127.5h1M294 127.5h1M298 127.5h1M307 127.5h1M314 127.5h1M316 127.5h5M469 127.5h1M476 127.5h1M493 127.5h1M499 127.5h1M90 128.5h1M135 128.5h1M140 128.5h1M177 128.5h2M196 128.5h1M202 128.5h1M227 128.5h1M287 128.5h1M291 128.5h1M294 128.5h1M299 128.5h1M307 128.5h1M314 128.5h2M470 128.5h2M476 128.5h2M493 128.5h1M497 128.5h2M134 129.5h1M140 129.5h1M176 129.5h1M178 129.5h1M197 129.5h1M202 129.5h1M227 129.5h1M288 129.5h1M290 129.5h1M295 129.5h1M299 129.5h1M307 129.5h1M472 129.5h1M475 129.5h1M477 129.5h1M493 129.5h1M496 129.5h1M513 129.5h2M86 130.5h2M141 130.5h1M176 130.5h1M178 130.5h1M198 130.5h1M202 130.5h1M227 130.5h3M288 130.5h1M290 130.5h1M295 130.5h1M300 130.5h1M306 130.5h1M473 130.5h3M477 130.5h1M493 130.5h1M495 130.5h1M81 131.5h2M141 131.5h1M175 131.5h1M178 131.5h1M199 131.5h1M201 131.5h1M228 131.5h2M289 131.5h1M295 131.5h1M300 131.5h1M305 131.5h1M474 131.5h2M477 131.5h1M493 131.5h2M77 132.5h3M142 132.5h1M175 132.5h1M178 132.5h1M200 132.5h2M227 132.5h1M230 132.5h1M289 132.5h1M296 132.5h1M301 132.5h1M304 132.5h1M474 132.5h2M477 132.5h1M493 132.5h2M519 132.5h1M140 133.5h2M175 133.5h1M177 133.5h1M226 133.5h2M230 133.5h1M296 133.5h1M300 133.5h2M303 133.5h1M474 133.5h2M478 133.5h1M493 133.5h1M519 133.5h1M141 134.5h1M176 134.5h2M184 134.5h1M224 134.5h2M227 134.5h1M230 134.5h1M295 134.5h1M297 134.5h3M303 134.5h1M474 134.5h2M478 134.5h1M142 135.5h2M176 135.5h1M183 135.5h1M221 135.5h3M227 135.5h1M231 135.5h1M294 135.5h3M302 135.5h1M474 135.5h2M478 135.5h1M143 136.5h3M182 136.5h1M219 136.5h2M227 136.5h1M231 136.5h1M300 136.5h2M473 136.5h1M475 136.5h1M478 136.5h1M144 137.5h1M146 137.5h2M181 137.5h1M188 137.5h2M216 137.5h3M226 137.5h1M231 137.5h1M297 137.5h3M473 137.5h1M475 137.5h1M478 137.5h1M145 138.5h2M180 138.5h1M186 138.5h2M190 138.5h2M214 138.5h2M218 138.5h5M226 138.5h1M231 138.5h1M294 138.5h3M473 138.5h1M476 138.5h1M478 138.5h1M146 139.5h1M184 139.5h2M192 139.5h2M213 139.5h1M215 139.5h3M223 139.5h1M226 139.5h1M232 139.5h1M294 139.5h1M473 139.5h1M476 139.5h1M478 139.5h1M144 140.5h2M194 140.5h1M212 140.5h1M214 140.5h1M223 140.5h1M227 140.5h1M232 140.5h1M295 140.5h1M472 140.5h1M476 140.5h2M144 141.5h1M195 141.5h1M211 141.5h1M222 141.5h1M227 141.5h2M232 141.5h1M295 141.5h1M472 141.5h1M476 141.5h2M144 142.5h1M185 142.5h6M195 142.5h1M210 142.5h1M214 142.5h1M221 142.5h4M229 142.5h3M233 142.5h1M296 142.5h1M347 142.5h3M361 142.5h2M472 142.5h1M477 142.5h1M144 143.5h1M191 143.5h2M196 143.5h1M209 143.5h1M214 143.5h2M224 143.5h1M232 143.5h2M297 143.5h1M345 143.5h2M349 143.5h1M360 143.5h1M363 143.5h2M374 143.5h3M397 143.5h2M470 143.5h2M475 143.5h1M144 144.5h1M192 144.5h1M196 144.5h1M207 144.5h2M213 144.5h1M215 144.5h1M224 144.5h1M298 144.5h1M344 144.5h1M349 144.5h1M360 144.5h1M363 144.5h1M373 144.5h1M376 144.5h1M395 144.5h2M469 144.5h1M475 144.5h3M144 145.5h1M191 145.5h1M194 145.5h1M197 145.5h1M206 145.5h1M213 145.5h1M215 145.5h1M222 145.5h2M297 145.5h1M339 145.5h2M343 145.5h1M349 145.5h1M360 145.5h1M363 145.5h1M373 145.5h1M375 145.5h1M393 145.5h2M468 145.5h1M475 145.5h1M477 145.5h1M144 146.5h1M191 146.5h1M193 146.5h1M195 146.5h1M197 146.5h1M205 146.5h1M213 146.5h1M216 146.5h1M220 146.5h2M295 146.5h2M338 146.5h1M341 146.5h2M349 146.5h1M359 146.5h1M363 146.5h1M374 146.5h2M392 146.5h1M467 146.5h1M474 146.5h1M477 146.5h1M144 147.5h1M191 147.5h2M195 147.5h1M197 147.5h1M203 147.5h2M212 147.5h1M216 147.5h4M294 147.5h1M317 147.5h1M337 147.5h1M349 147.5h1M359 147.5h1M364 147.5h1M374 147.5h1M391 147.5h1M466 147.5h1M474 147.5h1M477 147.5h1M144 148.5h1M190 148.5h1M197 148.5h1M201 148.5h2M211 148.5h1M292 148.5h2M317 148.5h2M336 148.5h1M349 148.5h1M359 148.5h1M364 148.5h1M374 148.5h1M465 148.5h1M474 148.5h1M477 148.5h1M144 149.5h1M190 149.5h1M197 149.5h1M199 149.5h2M211 149.5h1M291 149.5h1M309 149.5h1M318 149.5h2M336 149.5h1M349 149.5h1M359 149.5h1M364 149.5h1M374 149.5h1M464 149.5h1M474 149.5h1M478 149.5h1M144 150.5h1M196 150.5h3M210 150.5h1M290 150.5h1M307 150.5h2M310 150.5h3M318 150.5h1M320 150.5h1M335 150.5h1M349 150.5h1M359 150.5h1M364 150.5h1M463 150.5h1M474 150.5h1M478 150.5h1M144 151.5h1M159 151.5h1M210 151.5h1M290 151.5h1M305 151.5h2M313 151.5h2M318 151.5h1M321 151.5h1M335 151.5h1M348 151.5h1M359 151.5h1M365 151.5h1M462 151.5h1M474 151.5h4M144 152.5h1M158 152.5h1M209 152.5h1M289 152.5h1M304 152.5h1M315 152.5h1M319 152.5h1M322 152.5h1M335 152.5h1M348 152.5h1M359 152.5h1M365 152.5h1M394 152.5h1M461 152.5h1M474 152.5h1M144 153.5h1M209 153.5h1M289 153.5h1M303 153.5h1M315 153.5h1M319 153.5h1M323 153.5h1M335 153.5h1M348 153.5h1M360 153.5h1M365 153.5h1M461 153.5h1M474 153.5h1M144 154.5h1M208 154.5h1M289 154.5h1M302 154.5h1M310 154.5h1M316 154.5h1M320 154.5h1M323 154.5h1M335 154.5h13M360 154.5h1M365 154.5h1M460 154.5h1M474 154.5h1M145 155.5h1M208 155.5h1M289 155.5h1M302 155.5h1M310 155.5h1M317 155.5h1M321 155.5h1M324 155.5h1M333 155.5h2M360 155.5h1M365 155.5h1M450 155.5h1M460 155.5h1M474 155.5h1M145 156.5h1M207 156.5h1M289 156.5h1M301 156.5h1M310 156.5h1M318 156.5h1M321 156.5h1M324 156.5h1M330 156.5h4M360 156.5h1M366 156.5h1M448 156.5h2M451 156.5h2M460 156.5h1M473 156.5h1M145 157.5h1M207 157.5h1M289 157.5h1M301 157.5h1M319 157.5h4M325 157.5h1M328 157.5h2M332 157.5h1M360 157.5h1M366 157.5h1M447 157.5h1M453 157.5h1M459 157.5h1M472 157.5h1M474 157.5h1M145 158.5h1M206 158.5h1M289 158.5h1M300 158.5h1M325 158.5h1M328 158.5h1M332 158.5h1M360 158.5h1M366 158.5h1M446 158.5h1M454 158.5h2M459 158.5h1M471 158.5h1M474 158.5h1M146 159.5h1M205 159.5h1M290 159.5h1M300 159.5h1M325 159.5h1M329 159.5h1M333 159.5h1M361 159.5h2M366 159.5h1M445 159.5h1M455 159.5h1M459 159.5h1M471 159.5h1M474 159.5h1M146 160.5h1M204 160.5h1M290 160.5h1M299 160.5h1M316 160.5h3M326 160.5h1M329 160.5h1M333 160.5h1M363 160.5h4M446 160.5h1M455 160.5h1M458 160.5h1M470 160.5h1M474 160.5h1M147 161.5h1M204 161.5h1M291 161.5h1M299 161.5h1M326 161.5h1M328 161.5h1M334 161.5h1M447 161.5h2M455 161.5h1M458 161.5h1M468 161.5h2M474 161.5h1M147 162.5h1M203 162.5h1M291 162.5h1M295 162.5h4M306 162.5h6M327 162.5h1M335 162.5h1M449 162.5h2M455 162.5h1M457 162.5h1M467 162.5h1M474 162.5h1M148 163.5h1M203 163.5h1M292 163.5h3M301 163.5h5M311 163.5h1M336 163.5h2M450 163.5h1M456 163.5h2M466 163.5h1M474 163.5h1M149 164.5h1M202 164.5h1M295 164.5h6M312 164.5h1M338 164.5h3M450 164.5h1M456 164.5h1M465 164.5h1M473 164.5h1M150 165.5h1M202 165.5h1M291 165.5h4M312 165.5h1M329 165.5h1M341 165.5h1M450 165.5h1M456 165.5h1M464 165.5h1M469 165.5h5M151 166.5h1M201 166.5h1M291 166.5h1M313 166.5h1M329 166.5h1M342 166.5h2M450 166.5h1M456 166.5h1M464 166.5h5M152 167.5h1M201 167.5h2M290 167.5h1M313 167.5h1M344 167.5h1M450 167.5h1M456 167.5h1M152 168.5h1M201 168.5h1M290 168.5h1M314 168.5h1M343 168.5h1M450 168.5h1M464 168.5h1M153 169.5h1M201 169.5h1M289 169.5h1M314 169.5h1M343 169.5h1M450 169.5h1M463 169.5h2M153 170.5h1M200 170.5h1M289 170.5h1M315 170.5h2M342 170.5h1M449 170.5h1M460 170.5h4M153 171.5h1M200 171.5h1M288 171.5h1M317 171.5h1M341 171.5h1M449 171.5h1M461 171.5h1M463 171.5h1M154 172.5h1M199 172.5h1M288 172.5h1M318 172.5h2M327 172.5h5M341 172.5h1M449 172.5h1M461 172.5h2M154 173.5h1M199 173.5h1M287 173.5h1M320 173.5h1M326 173.5h1M332 173.5h2M340 173.5h1M449 173.5h1M462 173.5h1M154 174.5h1M199 174.5h1M287 174.5h1M321 174.5h2M325 174.5h1M334 174.5h2M340 174.5h1M449 174.5h1M155 175.5h1M199 175.5h1M286 175.5h1M323 175.5h2M336 175.5h5M450 175.5h1M155 176.5h1M157 176.5h2M190 176.5h2M199 176.5h1M339 176.5h1M450 176.5h1M155 177.5h1M157 177.5h1M159 177.5h1M188 177.5h2M192 177.5h2M199 177.5h1M285 177.5h1M339 177.5h2M450 177.5h1M155 178.5h1M157 178.5h1M160 178.5h1M183 178.5h5M194 178.5h1M199 178.5h1M285 178.5h1M339 178.5h2M361 178.5h1M450 178.5h1M156 179.5h2M161 179.5h1M180 179.5h3M195 179.5h1M199 179.5h1M284 179.5h1M339 179.5h2M361 179.5h2M450 179.5h1M156 180.5h1M158 180.5h1M161 180.5h1M180 180.5h1M196 180.5h1M199 180.5h1M284 180.5h1M339 180.5h1M341 180.5h1M361 180.5h2M449 180.5h1M157 181.5h1M159 181.5h1M162 181.5h1M179 181.5h1M197 181.5h1M199 181.5h1M283 181.5h1M340 181.5h1M342 181.5h1M362 181.5h2M449 181.5h1M157 182.5h1M159 182.5h1M162 182.5h1M179 182.5h1M198 182.5h2M283 182.5h1M340 182.5h1M343 182.5h1M362 182.5h2M449 182.5h1M157 183.5h1M160 183.5h1M162 183.5h1M179 183.5h1M199 183.5h1M282 183.5h1M341 183.5h1M344 183.5h1M362 183.5h1M364 183.5h1M449 183.5h1M158 184.5h1M160 184.5h1M163 184.5h1M178 184.5h1M282 184.5h1M341 184.5h1M344 184.5h2M362 184.5h1M365 184.5h1M448 184.5h1M158 185.5h1M161 185.5h1M163 185.5h1M178 185.5h1M281 185.5h1M341 185.5h1M345 185.5h1M362 185.5h1M366 185.5h1M448 185.5h1M159 186.5h1M161 186.5h1M164 186.5h1M178 186.5h1M281 186.5h1M342 186.5h1M345 186.5h1M363 186.5h1M367 186.5h2M448 186.5h4M160 187.5h1M162 187.5h1M165 187.5h1M178 187.5h1M202 187.5h1M281 187.5h1M342 187.5h1M346 187.5h1M363 187.5h1M369 187.5h8M446 187.5h2M161 188.5h2M165 188.5h1M178 188.5h1M203 188.5h1M205 188.5h1M280 188.5h1M342 188.5h1M346 188.5h1M364 188.5h1M377 188.5h3M445 188.5h1M166 189.5h1M178 189.5h1M203 189.5h1M280 189.5h1M343 189.5h1M346 189.5h2M365 189.5h2M380 189.5h1M444 189.5h1M166 190.5h1M178 190.5h1M279 190.5h1M343 190.5h1M347 190.5h1M367 190.5h2M381 190.5h1M443 190.5h1M167 191.5h1M178 191.5h1M279 191.5h1M344 191.5h1M347 191.5h1M369 191.5h2M382 191.5h1M442 191.5h1M167 192.5h1M178 192.5h1M279 192.5h1M344 192.5h1M347 192.5h2M371 192.5h2M383 192.5h2M441 192.5h1M101 193.5h1M168 193.5h1M178 193.5h1M194 193.5h4M279 193.5h1M344 193.5h1M348 193.5h1M372 193.5h1M385 193.5h1M411 193.5h1M434 193.5h7M103 194.5h2M169 194.5h1M178 194.5h1M198 194.5h3M279 194.5h1M345 194.5h1M348 194.5h1M372 194.5h1M386 194.5h1M411 194.5h2M434 194.5h1M104 195.5h1M169 195.5h1M178 195.5h1M190 195.5h2M197 195.5h2M201 195.5h2M279 195.5h1M345 195.5h1M348 195.5h2M372 195.5h1M387 195.5h1M411 195.5h2M434 195.5h1M170 196.5h1M178 196.5h2M188 196.5h3M199 196.5h3M203 196.5h2M279 196.5h1M345 196.5h1M348 196.5h2M372 196.5h1M388 196.5h1M410 196.5h1M413 196.5h1M434 196.5h1M105 197.5h1M171 197.5h1M180 197.5h2M187 197.5h1M190 197.5h1M205 197.5h3M279 197.5h1M345 197.5h2M349 197.5h1M372 197.5h1M389 197.5h1M409 197.5h1M413 197.5h1M434 197.5h4M171 198.5h1M182 198.5h2M185 198.5h2M190 198.5h1M279 198.5h1M345 198.5h2M349 198.5h1M371 198.5h1M389 198.5h1M408 198.5h1M414 198.5h1M434 198.5h1M172 199.5h1M184 199.5h1M190 199.5h1M210 199.5h3M279 199.5h1M345 199.5h2M349 199.5h2M371 199.5h1M389 199.5h1M407 199.5h1M414 199.5h1M434 199.5h1M172 200.5h1M189 200.5h1M208 200.5h4M279 200.5h1M346 200.5h1M350 200.5h1M370 200.5h1M389 200.5h1M406 200.5h1M415 200.5h1M433 200.5h1M450 200.5h2M173 201.5h1M189 201.5h1M206 201.5h3M216 201.5h1M279 201.5h1M346 201.5h1M350 201.5h1M370 201.5h1M389 201.5h1M405 201.5h1M416 201.5h1M433 201.5h1M449 201.5h1M451 201.5h1M173 202.5h1M189 202.5h1M279 202.5h1M346 202.5h2M350 202.5h1M369 202.5h1M389 202.5h1M404 202.5h1M417 202.5h1M433 202.5h1M449 202.5h1M451 202.5h1M174 203.5h2M189 203.5h1M202 203.5h1M279 203.5h1M346 203.5h2M351 203.5h1M368 203.5h1M389 203.5h1M403 203.5h1M418 203.5h1M433 203.5h1M449 203.5h1M452 203.5h1M176 204.5h1M190 204.5h1M279 204.5h1M347 204.5h1M351 204.5h1M368 204.5h1M389 204.5h1M402 204.5h1M419 204.5h1M433 204.5h1M449 204.5h1M452 204.5h1M177 205.5h4M190 205.5h1M279 205.5h1M347 205.5h2M351 205.5h1M367 205.5h1M390 205.5h1M401 205.5h1M419 205.5h1M433 205.5h1M449 205.5h1M452 205.5h1M181 206.5h2M191 206.5h1M279 206.5h1M348 206.5h1M351 206.5h2M365 206.5h2M390 206.5h1M401 206.5h1M420 206.5h1M433 206.5h1M449 206.5h1M452 206.5h1M183 207.5h2M192 207.5h1M279 207.5h1M348 207.5h2M352 207.5h1M364 207.5h1M390 207.5h1M401 207.5h1M420 207.5h1M433 207.5h1M449 207.5h1M452 207.5h1M185 208.5h1M193 208.5h1M279 208.5h1M349 208.5h1M352 208.5h2M362 208.5h2M391 208.5h1M400 208.5h1M420 208.5h1M433 208.5h1M449 208.5h1M452 208.5h1M185 209.5h1M194 209.5h1M279 209.5h1M349 209.5h1M353 209.5h2M361 209.5h1M391 209.5h1M400 209.5h1M420 209.5h1M433 209.5h1M449 209.5h1M451 209.5h2M186 210.5h2M194 210.5h1M279 210.5h1M350 210.5h1M354 210.5h3M359 210.5h2M391 210.5h1M400 210.5h1M420 210.5h1M423 210.5h1M433 210.5h1M449 210.5h3M188 211.5h1M195 211.5h1M279 211.5h1M350 211.5h1M357 211.5h2M391 211.5h1M400 211.5h1M420 211.5h1M423 211.5h2M433 211.5h1M189 212.5h1M195 212.5h1M280 212.5h1M350 212.5h2M392 212.5h1M400 212.5h1M420 212.5h1M423 212.5h2M433 212.5h1M190 213.5h2M195 213.5h1M280 213.5h1M351 213.5h1M392 213.5h1M399 213.5h1M420 213.5h1M423 213.5h3M433 213.5h1M191 214.5h2M195 214.5h1M280 214.5h1M352 214.5h1M358 214.5h6M392 214.5h1M399 214.5h1M421 214.5h1M423 214.5h2M426 214.5h2M433 214.5h1M192 215.5h1M196 215.5h1M210 215.5h1M280 215.5h1M352 215.5h6M363 215.5h1M392 215.5h1M399 215.5h1M421 215.5h1M423 215.5h2M428 215.5h1M432 215.5h1M447 215.5h1M193 216.5h1M196 216.5h1M208 216.5h2M211 216.5h2M280 216.5h1M363 216.5h1M393 216.5h1M398 216.5h1M422 216.5h1M424 216.5h1M429 216.5h1M432 216.5h1M448 216.5h1M194 217.5h3M207 217.5h2M213 217.5h2M280 217.5h1M363 217.5h1M393 217.5h1M397 217.5h1M422 217.5h1M424 217.5h1M430 217.5h3M448 217.5h1M194 218.5h3M206 218.5h1M215 218.5h6M281 218.5h1M363 218.5h1M394 218.5h1M396 218.5h1M422 218.5h1M424 218.5h1M455 218.5h1M195 219.5h3M205 219.5h1M221 219.5h2M281 219.5h1M362 219.5h1M394 219.5h2M422 219.5h1M424 219.5h1M454 219.5h2M197 220.5h3M204 220.5h1M223 220.5h2M282 220.5h1M362 220.5h1M394 220.5h1M399 220.5h1M422 220.5h1M424 220.5h1M454 220.5h2M200 221.5h2M203 221.5h1M225 221.5h1M283 221.5h1M361 221.5h1M399 221.5h1M422 221.5h1M424 221.5h1M453 221.5h1M455 221.5h1M202 222.5h1M226 222.5h1M283 222.5h1M361 222.5h1M398 222.5h1M422 222.5h1M425 222.5h1M452 222.5h1M455 222.5h1M202 223.5h1M227 223.5h1M284 223.5h1M360 223.5h1M398 223.5h1M423 223.5h1M425 223.5h1M451 223.5h1M455 223.5h1M203 224.5h1M228 224.5h1M284 224.5h1M360 224.5h1M398 224.5h1M423 224.5h1M425 224.5h1M445 224.5h1M452 224.5h1M455 224.5h1M203 225.5h1M229 225.5h1M285 225.5h2M360 225.5h1M398 225.5h1M424 225.5h2M444 225.5h2M453 225.5h3M203 226.5h1M230 226.5h1M287 226.5h2M360 226.5h1M398 226.5h1M417 226.5h1M424 226.5h2M443 226.5h1M445 226.5h1M203 227.5h1M231 227.5h1M289 227.5h2M298 227.5h5M359 227.5h2M398 227.5h1M417 227.5h2M425 227.5h1M443 227.5h1M445 227.5h1M202 228.5h1M231 228.5h1M291 228.5h2M295 228.5h3M303 228.5h2M358 228.5h1M418 228.5h2M425 228.5h1M442 228.5h1M445 228.5h1M202 229.5h1M232 229.5h1M293 229.5h2M305 229.5h2M358 229.5h1M418 229.5h1M420 229.5h1M425 229.5h1M441 229.5h1M446 229.5h1M202 230.5h1M233 230.5h1M307 230.5h1M357 230.5h1M419 230.5h1M421 230.5h1M426 230.5h1M441 230.5h1M446 230.5h1M201 231.5h1M233 231.5h1M308 231.5h1M356 231.5h1M419 231.5h1M422 231.5h1M426 231.5h1M440 231.5h1M446 231.5h1M201 232.5h1M234 232.5h1M309 232.5h1M356 232.5h1M420 232.5h1M423 232.5h2M439 232.5h1M446 232.5h1M201 233.5h1M234 233.5h1M310 233.5h1M355 233.5h1M420 233.5h1M425 233.5h1M439 233.5h1M446 233.5h1M201 234.5h1M234 234.5h1M310 234.5h1M355 234.5h1M421 234.5h1M426 234.5h1M438 234.5h1M446 234.5h1M201 235.5h1M235 235.5h1M310 235.5h1M355 235.5h1M421 235.5h1M426 235.5h1M437 235.5h1M445 235.5h1M200 236.5h1M235 236.5h1M310 236.5h1M354 236.5h1M422 236.5h1M427 236.5h1M437 236.5h1M445 236.5h1M200 237.5h1M235 237.5h1M310 237.5h2M354 237.5h1M422 237.5h1M427 237.5h1M436 237.5h1M445 237.5h1M185 238.5h1M200 238.5h1M236 238.5h1M311 238.5h1M340 238.5h2M354 238.5h1M423 238.5h1M428 238.5h1M436 238.5h1M445 238.5h1M200 239.5h1M236 239.5h1M311 239.5h1M340 239.5h2M353 239.5h1M423 239.5h1M428 239.5h1M435 239.5h1M444 239.5h1M200 240.5h1M237 240.5h1M312 240.5h1M340 240.5h2M353 240.5h1M424 240.5h1M429 240.5h1M435 240.5h1M444 240.5h1M200 241.5h1M238 241.5h2M312 241.5h1M340 241.5h2M352 241.5h1M424 241.5h1M429 241.5h1M435 241.5h1M443 241.5h1M462 241.5h1M199 242.5h1M240 242.5h1M313 242.5h1M341 242.5h1M352 242.5h1M424 242.5h1M430 242.5h1M436 242.5h2M443 242.5h1M463 242.5h2M199 243.5h1M241 243.5h2M313 243.5h1M341 243.5h1M352 243.5h1M425 243.5h1M430 243.5h1M438 243.5h2M442 243.5h1M463 243.5h1M465 243.5h11M199 244.5h1M243 244.5h3M313 244.5h1M341 244.5h1M351 244.5h1M425 244.5h5M440 244.5h1M442 244.5h1M464 244.5h1M476 244.5h1M199 245.5h1M246 245.5h2M313 245.5h1M341 245.5h1M351 245.5h1M441 245.5h1M465 245.5h1M476 245.5h1M199 246.5h1M248 246.5h1M314 246.5h1M351 246.5h1M465 246.5h1M477 246.5h1M199 247.5h1M249 247.5h1M314 247.5h1M350 247.5h1M466 247.5h1M478 247.5h1M199 248.5h1M250 248.5h1M314 248.5h1M350 248.5h1M467 248.5h1M478 248.5h1M199 249.5h1M251 249.5h1M314 249.5h1M350 249.5h1M468 249.5h1M479 249.5h1M199 250.5h1M252 250.5h1M314 250.5h1M349 250.5h1M469 250.5h1M479 250.5h1M200 251.5h1M253 251.5h1M315 251.5h1M349 251.5h1M431 251.5h1M470 251.5h1M480 251.5h1M200 252.5h1M254 252.5h1M315 252.5h1M348 252.5h1M431 252.5h4M471 252.5h1M481 252.5h1M200 253.5h1M255 253.5h1M315 253.5h1M348 253.5h1M432 253.5h2M435 253.5h4M472 253.5h2M482 253.5h1M200 254.5h1M256 254.5h1M315 254.5h1M348 254.5h1M434 254.5h8M474 254.5h2M482 254.5h1M201 255.5h1M256 255.5h1M315 255.5h1M348 255.5h1M476 255.5h2M483 255.5h1M201 256.5h1M255 256.5h1M315 256.5h1M348 256.5h1M478 256.5h3M484 256.5h1M201 257.5h1M255 257.5h1M315 257.5h1M348 257.5h1M481 257.5h2M485 257.5h1M201 258.5h1M255 258.5h1M315 258.5h1M348 258.5h1M483 258.5h3M202 259.5h1M254 259.5h1M316 259.5h1M348 259.5h1M485 259.5h2M202 260.5h1M254 260.5h1M316 260.5h1M348 260.5h1M476 260.5h1M202 261.5h1M254 261.5h1M316 261.5h1M349 261.5h1M464 261.5h2M475 261.5h1M477 261.5h1M203 262.5h1M253 262.5h1M316 262.5h1M349 262.5h1M463 262.5h1M466 262.5h1M475 262.5h1M477 262.5h1M203 263.5h1M253 263.5h1M316 263.5h1M349 263.5h1M463 263.5h1M467 263.5h1M474 263.5h1M478 263.5h1M204 264.5h1M252 264.5h1M316 264.5h1M349 264.5h1M360 264.5h1M462 264.5h1M468 264.5h1M474 264.5h1M478 264.5h1M204 265.5h1M252 265.5h1M316 265.5h1M349 265.5h1M360 265.5h1M462 265.5h1M469 265.5h1M474 265.5h1M478 265.5h1M84 266.5h3M204 266.5h1M252 266.5h1M316 266.5h1M349 266.5h1M359 266.5h2M461 266.5h1M469 266.5h1M473 266.5h1M478 266.5h1M205 267.5h1M251 267.5h1M315 267.5h1M349 267.5h1M359 267.5h2M460 267.5h1M470 267.5h1M473 267.5h1M479 267.5h1M205 268.5h1M251 268.5h1M315 268.5h1M348 268.5h1M359 268.5h2M455 268.5h2M460 268.5h1M470 268.5h1M473 268.5h1M479 268.5h1M206 269.5h1M251 269.5h1M315 269.5h1M348 269.5h1M358 269.5h1M360 269.5h1M454 269.5h1M457 269.5h3M470 269.5h1M472 269.5h1M479 269.5h1M206 270.5h1M251 270.5h1M315 270.5h1M347 270.5h1M358 270.5h1M360 270.5h1M453 270.5h1M470 270.5h1M472 270.5h1M479 270.5h1M207 271.5h1M250 271.5h1M315 271.5h1M347 271.5h1M357 271.5h1M360 271.5h1M453 271.5h1M471 271.5h1M480 271.5h1M522 271.5h1M207 272.5h1M250 272.5h1M314 272.5h1M346 272.5h1M357 272.5h1M360 272.5h1M452 272.5h1M471 272.5h1M480 272.5h1M521 272.5h1M208 273.5h1M250 273.5h1M314 273.5h1M346 273.5h1M356 273.5h1M360 273.5h1M452 273.5h1M481 273.5h1M209 274.5h1M250 274.5h1M314 274.5h1M346 274.5h1M356 274.5h1M360 274.5h1M452 274.5h1M481 274.5h1M209 275.5h1M250 275.5h1M314 275.5h1M346 275.5h1M355 275.5h1M360 275.5h1M451 275.5h1M482 275.5h1M210 276.5h1M250 276.5h1M314 276.5h1M345 276.5h1M355 276.5h1M360 276.5h1M450 276.5h1M482 276.5h1M210 277.5h2M249 277.5h2M314 277.5h1M345 277.5h1M354 277.5h1M360 277.5h1M449 277.5h1M483 277.5h1M211 278.5h1M249 278.5h1M314 278.5h1M345 278.5h1M354 278.5h1M360 278.5h1M447 278.5h2M483 278.5h1M211 279.5h1M249 279.5h1M314 279.5h1M345 279.5h1M354 279.5h1M359 279.5h1M445 279.5h2M483 279.5h1M503 279.5h1M211 280.5h1M249 280.5h1M315 280.5h1M344 280.5h1M354 280.5h1M359 280.5h1M444 280.5h1M484 280.5h1M211 281.5h1M249 281.5h1M315 281.5h1M344 281.5h1M354 281.5h1M358 281.5h1M444 281.5h1M484 281.5h1M211 282.5h1M249 282.5h1M315 282.5h1M344 282.5h1M354 282.5h1M358 282.5h1M443 282.5h1M485 282.5h1M211 283.5h1M249 283.5h1M315 283.5h1M344 283.5h1M354 283.5h1M357 283.5h1M443 283.5h1M485 283.5h1M211 284.5h1M248 284.5h1M316 284.5h1M344 284.5h1M354 284.5h1M357 284.5h1M443 284.5h1M485 284.5h1M211 285.5h1M247 285.5h2M316 285.5h1M343 285.5h1M354 285.5h1M356 285.5h1M442 285.5h1M486 285.5h1M211 286.5h1M245 286.5h2M317 286.5h1M343 286.5h1M354 286.5h1M356 286.5h1M442 286.5h1M486 286.5h1M211 287.5h1M243 287.5h2M317 287.5h1M342 287.5h2M354 287.5h2M442 287.5h1M486 287.5h1M211 288.5h1M241 288.5h2M318 288.5h1M342 288.5h1M354 288.5h2M442 288.5h1M487 288.5h1M211 289.5h1M239 289.5h2M318 289.5h1M342 289.5h1M354 289.5h1M441 289.5h1M487 289.5h1M211 290.5h1M239 290.5h1M318 290.5h1M342 290.5h1M354 290.5h1M441 290.5h1M488 290.5h1M211 291.5h1M238 291.5h1M319 291.5h1M341 291.5h1M441 291.5h1M488 291.5h1M211 292.5h1M238 292.5h1M319 292.5h1M341 292.5h1M442 292.5h1M489 292.5h1M211 293.5h1M238 293.5h1M319 293.5h1M341 293.5h1M442 293.5h1M489 293.5h1M211 294.5h1M238 294.5h1M319 294.5h1M340 294.5h1M442 294.5h1M489 294.5h1M211 295.5h1M238 295.5h1M319 295.5h1M340 295.5h1M442 295.5h1M489 295.5h1M211 296.5h1M238 296.5h1M320 296.5h1M339 296.5h1M442 296.5h1M488 296.5h1M211 297.5h1M237 297.5h1M320 297.5h1M338 297.5h1M442 297.5h1M488 297.5h1M210 298.5h1M237 298.5h1M320 298.5h1M338 298.5h1M442 298.5h1M488 298.5h1M210 299.5h1M237 299.5h1M320 299.5h1M337 299.5h1M442 299.5h1M488 299.5h1M210 300.5h1M236 300.5h1M321 300.5h1M336 300.5h1M442 300.5h1M488 300.5h1M210 301.5h1M236 301.5h1M321 301.5h1M336 301.5h1M443 301.5h1M488 301.5h1M210 302.5h1M235 302.5h1M321 302.5h1M335 302.5h1M443 302.5h1M461 302.5h2M488 302.5h1M210 303.5h1M235 303.5h1M321 303.5h1M335 303.5h1M443 303.5h1M459 303.5h2M463 303.5h2M488 303.5h1M210 304.5h1M235 304.5h1M322 304.5h1M334 304.5h1M443 304.5h1M456 304.5h3M464 304.5h1M487 304.5h1M210 305.5h1M234 305.5h1M322 305.5h1M334 305.5h1M444 305.5h1M454 305.5h2M465 305.5h1M487 305.5h1M210 306.5h1M234 306.5h1M323 306.5h1M333 306.5h1M444 306.5h2M452 306.5h2M465 306.5h1M487 306.5h1M209 307.5h1M234 307.5h1M323 307.5h1M333 307.5h1M446 307.5h6M466 307.5h2M487 307.5h1M209 308.5h1M233 308.5h1M323 308.5h1M331 308.5h2M468 308.5h1M486 308.5h1M514 308.5h1M209 309.5h1M232 309.5h1M323 309.5h1M327 309.5h4M469 309.5h1M486 309.5h1M514 309.5h2M209 310.5h1M231 310.5h1M323 310.5h4M469 310.5h1M486 310.5h1M515 310.5h1M209 311.5h1M231 311.5h1M323 311.5h1M470 311.5h1M485 311.5h1M515 311.5h2M209 312.5h1M230 312.5h1M471 312.5h1M484 312.5h1M515 312.5h2M208 313.5h2M229 313.5h1M472 313.5h1M483 313.5h1M516 313.5h2M208 314.5h1M228 314.5h1M472 314.5h1M483 314.5h1M516 314.5h1M518 314.5h1M208 315.5h1M227 315.5h1M473 315.5h1M482 315.5h1M516 315.5h1M518 315.5h1M208 316.5h1M226 316.5h1M473 316.5h4M481 316.5h1M517 316.5h1M519 316.5h1M208 317.5h1M225 317.5h1M476 317.5h5M517 317.5h1M519 317.5h1M208 318.5h1M224 318.5h1M518 318.5h2M208 319.5h1M223 319.5h1M519 319.5h1M208 320.5h1M222 320.5h1M208 321.5h1M222 321.5h1M513 321.5h1M208 322.5h1M221 322.5h1M479 322.5h1M513 322.5h3M208 323.5h1M221 323.5h1M479 323.5h3M513 323.5h1M208 324.5h1M221 324.5h1M480 324.5h1M482 324.5h1M513 324.5h1M208 325.5h1M220 325.5h1M480 325.5h1M483 325.5h1M512 325.5h1M514 325.5h1M208 326.5h1M220 326.5h1M481 326.5h2M512 326.5h1M514 326.5h1M208 327.5h1M220 327.5h1M511 327.5h1M514 327.5h1M208 328.5h1M219 328.5h1M510 328.5h1M514 328.5h1M208 329.5h1M218 329.5h1M510 329.5h1M513 329.5h1M208 330.5h1M217 330.5h1M509 330.5h1M512 330.5h1M208 331.5h1M216 331.5h1M509 331.5h3M208 332.5h1M216 332.5h1M508 332.5h2M208 333.5h1M215 333.5h1M508 333.5h1M208 334.5h1M215 334.5h1M208 335.5h1M214 335.5h1M208 336.5h1M214 336.5h1M208 337.5h1M214 337.5h1M208 338.5h1M214 338.5h1M207 339.5h1M214 339.5h1M207 340.5h1M214 340.5h1M207 341.5h1M214 341.5h1M207 342.5h1M213 342.5h1M207 343.5h1M213 343.5h1M208 344.5h1M213 344.5h1M225 344.5h2M208 345.5h1M212 345.5h1M209 346.5h1M212 346.5h1M210 347.5h1M212 347.5h1M214 347.5h1M210 348.5h1M212 348.5h3M211 349.5h1M215 349.5h1M211 350.5h1M216 350.5h1M212 351.5h6M224 369.5h2M222 370.5h3M226 370.5h1M221 371.5h2M226 371.5h1M219 372.5h2M224 372.5h1M226 372.5h1M218 373.5h1M223 373.5h1M225 373.5h1M218 374.5h1M221 374.5h1M223 374.5h1M225 374.5h1M364 374.5h2M421 374.5h19M455 374.5h14M217 375.5h1M220 375.5h3M225 375.5h1M361 375.5h4M366 375.5h3M405 375.5h16M440 375.5h5M450 375.5h5M469 375.5h6M216 376.5h1M219 376.5h2M224 376.5h1M355 376.5h6M369 376.5h4M402 376.5h4M444 376.5h6M475 376.5h3M216 377.5h1M218 377.5h1M224 377.5h1M353 377.5h2M373 377.5h9M402 377.5h3M478 377.5h4M215 378.5h1M217 378.5h1M224 378.5h1M352 378.5h1M382 378.5h4M400 378.5h2M482 378.5h4M215 379.5h1M218 379.5h1M223 379.5h1M350 379.5h2M386 379.5h2M398 379.5h2M486 379.5h4M212 380.5h1M215 380.5h1M219 380.5h1M223 380.5h1M297 380.5h3M337 380.5h6M349 380.5h1M386 380.5h1M388 380.5h2M396 380.5h2M490 380.5h6M211 381.5h1M213 381.5h1M215 381.5h1M220 381.5h1M223 381.5h1M295 381.5h2M300 381.5h3M334 381.5h3M343 381.5h3M348 381.5h1M385 381.5h1M390 381.5h6M496 381.5h4M210 382.5h1M213 382.5h1M215 382.5h1M221 382.5h1M223 382.5h1M293 382.5h2M303 382.5h22M328 382.5h6M346 382.5h2M385 382.5h1M388 382.5h3M500 382.5h2M209 383.5h1M213 383.5h1M215 383.5h1M221 383.5h3M290 383.5h3M305 383.5h23M332 383.5h2M385 383.5h3M502 383.5h2M207 384.5h2M212 384.5h1M214 384.5h1M222 384.5h2M288 384.5h2M301 384.5h4M324 384.5h8M504 384.5h3M206 385.5h1M212 385.5h1M214 385.5h1M222 385.5h2M286 385.5h10M300 385.5h1M507 385.5h2M207 386.5h2M210 386.5h2M213 386.5h1M222 386.5h2M282 386.5h6M296 386.5h4M509 386.5h3M199 387.5h4M209 387.5h1M212 387.5h1M223 387.5h1M278 387.5h4M283 387.5h3M510 387.5h1M174 388.5h6M197 388.5h2M203 388.5h4M210 388.5h2M223 388.5h1M275 388.5h3M281 388.5h2M509 388.5h1M143 389.5h12M174 389.5h1M179 389.5h18M207 389.5h3M223 389.5h1M273 389.5h2M278 389.5h3M508 389.5h1M136 390.5h7M149 390.5h8M174 390.5h1M223 390.5h2M272 390.5h1M276 390.5h2M508 390.5h1M133 391.5h19M157 391.5h1M164 391.5h3M172 391.5h3M223 391.5h2M270 391.5h2M273 391.5h3M507 391.5h1M128 392.5h6M158 392.5h2M162 392.5h2M167 392.5h5M222 392.5h3M268 392.5h2M271 392.5h2M506 392.5h1M124 393.5h4M160 393.5h2M219 393.5h6M266 393.5h5M505 393.5h1M122 394.5h2M216 394.5h6M225 394.5h2M263 394.5h5M505 394.5h1M118 395.5h4M205 395.5h13M227 395.5h3M260 395.5h6M504 395.5h1M113 396.5h5M199 396.5h6M230 396.5h2M258 396.5h2M261 396.5h2M504 396.5h1M111 397.5h2M196 397.5h3M232 397.5h13M258 397.5h3M503 397.5h1M508 397.5h7M97 398.5h6M110 398.5h1M197 398.5h2M234 398.5h2M237 398.5h4M245 398.5h13M503 398.5h5M515 398.5h5M77 399.5h20M109 399.5h1M199 399.5h1M233 399.5h10M257 399.5h1M502 399.5h1M520 399.5h3M97 400.5h1M109 400.5h1M200 400.5h2M231 400.5h2M243 400.5h2M257 400.5h1M501 400.5h1M97 401.5h1M108 401.5h1M202 401.5h1M229 401.5h2M244 401.5h1M257 401.5h1M501 401.5h1M98 402.5h2M108 402.5h1M203 402.5h2M227 402.5h2M230 402.5h9M244 402.5h1M258 402.5h2M502 402.5h1M108 403.5h1M205 403.5h1M220 403.5h10M239 403.5h6M255 403.5h6M502 403.5h1M109 404.5h1M206 404.5h4M252 404.5h3M503 404.5h1M109 405.5h1M210 405.5h5M250 405.5h2M504 405.5h1M110 406.5h1M215 406.5h10M243 406.5h7M504 406.5h1M110 407.5h1M225 407.5h18M505 407.5h1M111 408.5h1M505 408.5h6M111 409.5h1M511 409.5h3M112 410.5h1M514 410.5h4M113 411.5h1M77 412.5h10M114 412.5h1M87 413.5h19M114 413.5h1M106 414.5h10" fill="none" stroke="#0890ff" stroke-width="1" shape-rendering="crispEdges"/>
<rect x="74.5" y="57.5" width="450" height="362" fill="none" stroke="#000" stroke-width="1" shape-rendering="crispEdges"/>
<g shape-rendering="crispEdges">
<rect x="535" y="57" width="23" height="1" fill="#ffff00"/>
<rect x="535" y="58" width="23" height="1" fill="#fffc00"/>
<rect x="535" y="59" width="23" height="1" fill="#fef900"/>
<rect x="535" y="60" width="23" height="1" fill="#fef600"/>
<rect x="535" y="61" width="23" height="1" fill="#fdf400"/>
<rect x="535" y="62" width="23" height="1" fill="#fdf100"/>
<rect x="535" y="63" width="23" height="1" fill="#fcee00"/>
<rect x="535" y="64" width="23" height="1" fill="#fceb00"/>
<rect x="535" y="65" width="23" height="1" fill="#fce800"/>
<rect x="535" y="66" width="23" height="1" fill="#fbe500"/>
<rect x="535" y="67" width="23" height="1" fill="#fbe200"/>
<rect x="535" y="68" width="23" height="1" fill="#fae000"/>
<rect x="535" y="69" width="23" height="1" fill="#fadd00"/>
<rect x="535" y="70" width="23" height="1" fill="#f9da00"/>
<rect x="535" y="71" width="23" height="1" fill="#f9d700"/>
<rect x="535" y="72" width="23" height="1" fill="#f9d400"/>
<rect x="535" y="73" width="23" height="1" fill="#f8d100"/>
<rect x="535" y="74" width="23" height="1" fill="#f8cf00"/>
<rect x="535" y="75" width="23" height="1" fill="#f7cc00"/>
<rect x="535" y="76" width="23" height="1" fill="#f7ca00"/>
<rect x="535" y="77" width="23" height="1" fill="#f6c700"/>
<rect x="535" y="78" width="23" height="1" fill="#f6c500"/>
<rect x="535" y="79" width="23" height="1" fill="#f5c300"/>
<rect x="535" y="80" width="23" height="1" fill="#f5c000"/>
<rect x="535" y="81" width="23" height="1" fill="#f4be00"/>
<rect x="535" y="82" width="23" height="1" fill="#f4bb00"/>
<rect x="535" y="83" width="23" height="1" fill="#f3b900"/>
<rect x="535" y="84" width="23" height="1" fill="#f3b600"/>
<rect x="535" y="85" width="23" height="1" fill="#f2b400"/>
<rect x="535" y="86" width="23" height="1" fill="#f2b200"/>
<rect x="535" y="87" width="23" height="1" fill="#f1af00"/>
<rect x="535" y="88" width="23" height="1" fill="#f1ad00"/>
<rect x="535" y="89" width="23" height="1" fill="#f0aa00"/>
<rect x="535" y="90" width="23" height="1" fill="#f0a800"/>
<rect x="535" y="91" width="23" height="1" fill="#f0a700"/>
<rect x="535" y="92" width="23" height="1" fill="#efa500"/>
<rect x="535" y="93" width="23" height="1" fill="#efa400"/>
<rect x="535" y="94" width="23" height="1" fill="#efa300"/>
<rect x="535" y="95" width="23" height="1" fill="#efa200"/>
<rect x="535" y="96" width="23" height="1" fill="#efa100"/>
<rect x="535" y="97" width="23" height="1" fill="#ee9f00"/>
<rect x="535" y="98" width="23" height="1" fill="#ee9e00"/>
<rect x="535" y="99" width="23" height="1" fill="#ee9d00"/>
<rect x="535" y="100" width="23" height="1" fill="#ee9c00"/>
<rect x="535" y="101" width="23" height="1" fill="#ed9b00"/>
<rect x="535" y="102" width="23" height="1" fill="#ed9900"/>
<rect x="535" y="103" width="23" height="1" fill="#ed9800"/>
<rect x="535" y="104" width="23" height="1" fill="#ed9700"/>
<rect x="535" y="105" width="23" height="1" fill="#ec9600"/>
<rect x="535" y="106" width="23" height="1" fill="#ec9400"/>
<rect x="535" y="107" width="23" height="1" fill="#ec9300"/>
<rect x="535" y="108" width="23" height="1" fill="#ec9200"/>
<rect x="535" y="109" width="23" height="1" fill="#eb9100"/>
<rect x="535" y="110" width="23" height="1" fill="#eb9000"/>
<rect x="535" y="111" width="23" height="1" fill="#eb8e00"/>
<rect x="535" y="112" width="23" height="1" fill="#eb8d00"/>
<rect x="535" y="113" width="23" height="1" fill="#ea8c00"/>
<rect x="535" y="114" width="23" height="1" fill="#ea8b00"/>
<rect x="535" y="115" width="23" height="1" fill="#ea8a00"/>
<rect x="535" y="116" width="23" height="1" fill="#ea8800"/>
<rect x="535" y="117" width="23" height="1" fill="#e98700"/>
<rect x="535" y="118" width="23" height="1" fill="#e98600"/>
<rect x="535" y="119" width="23" height="1" fill="#e98500"/>
<rect x="535" y="120" width="23" height="1" fill="#e98300"/>
<rect x="535" y="121" width="23" height="1" fill="#e88200"/>
<rect x="535" y="122" width="23" height="1" fill="#e88100"/>
<rect x="535" y="123" width="23" height="1" fill="#e88000"/>
<rect x="535" y="124" width="23" height="1" fill="#e87f00"/>
<rect x="535" y="125" width="23" height="1" fill="#e77e00"/>
<rect x="535" y="126" width="23" height="1" fill="#e77d00"/>
<rect x="535" y="127" width="23" height="1" fill="#e67c00"/>
<rect x="535" y="128" width="23" height="1" fill="#e67b00"/>
<rect x="535" y="129" width="23" height="1" fill="#e67a00"/>
<rect x="535" y="130" width="23" height="1" fill="#e57900"/>
<rect x="535" y="131" width="23" height="1" fill="#e57900"/>
<rect x="535" y="132" width="23" height="1" fill="#e57800"/>
<rect x="535" y="133" width="23" height="1" fill="#e47700"/>
<rect x="535" y="134" width="23" height="1" fill="#e47600"/>
<rect x="535" y="135" width="23" height="1" fill="#e47500"/>
<rect x="535" y="136" width="23" height="1" fill="#e37400"/>
<rect x="535" y="137" width="23" height="1" fill="#e37300"/>
<rect x="535" y="138" width="23" height="1" fill="#e27200"/>
<rect x="535" y="139" width="23" height="1" fill="#e27100"/>
<rect x="535" y="140" width="23" height="1" fill="#e27000"/>
<rect x="535" y="141" width="23" height="1" fill="#e16f00"/>
<rect x="535" y="142" width="23" height="1" fill="#e16f00"/>
<rect x="535" y="143" width="23" height="1" fill="#e16e00"/>
<rect x="535" y="144" width="23" height="1" fill="#e06d00"/>
<rect x="535" y="145" width="23" height="1" fill="#e06c00"/>
<rect x="535" y="146" width="23" height="1" fill="#e06b00"/>
<rect x="535" y="147" width="23" height="1" fill="#df6a00"/>
<rect x="535" y="148" width="23" height="1" fill="#df6900"/>
<rect x="535" y="149" width="23" height="1" fill="#de6800"/>
<rect x="535" y="150" width="23" height="1" fill="#de6700"/>
<rect x="535" y="151" width="23" height="1" fill="#de6600"/>
<rect x="535" y="152" width="23" height="1" fill="#dd6500"/>
<rect x="535" y="153" width="23" height="1" fill="#dd6400"/>
<rect x="535" y="154" width="23" height="1" fill="#dd6400"/>
<rect x="535" y="155" width="23" height="1" fill="#dc6300"/>
<rect x="535" y="156" width="23" height="1" fill="#dc6200"/>
<rect x="535" y="157" width="23" height="1" fill="#dc6100"/>
<rect x="535" y="158" width="23" height="1" fill="#db6000"/>
<rect x="535" y="159" width="23" height="1" fill="#db5f00"/>
<rect x="535" y="160" width="23" height="1" fill="#da5f00"/>
<rect x="535" y="161" width="23" height="1" fill="#da5e00"/>
<rect x="535" y="162" width="23" height="1" fill="#da5d00"/>
<rect x="535" y="163" width="23" height="1" fill="#d95c00"/>
<rect x="535" y="164" width="23" height="1" fill="#d95b00"/>
<rect x="535" y="165" width="23" height="1" fill="#d95b00"/>
<rect x="535" y="166" width="23" height="1" fill="#d85a00"/>
<rect x="535" y="167" width="23" height="1" fill="#d85900"/>
<rect x="535" y="168" width="23" height="1" fill="#d85800"/>
<rect x="535" y="169" width="23" height="1" fill="#d75800"/>
<rect x="535" y="170" width="23" height="1" fill="#d75700"/>
<rect x="535" y="171" width="23" height="1" fill="#d65600"/>
<rect x="535" y="172" width="23" height="1" fill="#d65500"/>
<rect x="535" y="173" width="23" height="1" fill="#d65400"/>
<rect x="535" y="174" width="23" height="1" fill="#d55400"/>
<rect x="535" y="175" width="23" height="1" fill="#d55300"/>
<rect x="535" y="176" width="23" height="1" fill="#d55200"/>
<rect x="535" y="177" width="23" height="1" fill="#d45100"/>
<rect x="535" y="178" width="23" height="1" fill="#d45000"/>
<rect x="535" y="179" width="23" height="1" fill="#d45000"/>
<rect x="535" y="180" width="23" height="1" fill="#d34f00"/>
<rect x="535" y="181" width="23" height="1" fill="#d34e00"/>
<rect x="535" y="182" width="23" height="1" fill="#d24d00"/>
<rect x="535" y="183" width="23" height="1" fill="#d24c00"/>
<rect x="535" y="184" width="23" height="1" fill="#d24c00"/>
<rect x="535" y="185" width="23" height="1" fill="#d14b00"/>
<rect x="535" y="186" width="23" height="1" fill="#d14a00"/>
<rect x="535" y="187" width="23" height="1" fill="#d14900"/>
<rect x="535" y="188" width="23" height="1" fill="#d04900"/>
<rect x="535" y="189" width="23" height="1" fill="#d04800"/>
<rect x="535" y="190" width="23" height="1" fill="#cf4700"/>
<rect x="535" y="191" width="23" height="1" fill="#cf4600"/>
<rect x="535" y="192" width="23" height="1" fill="#ce4600"/>
<rect x="535" y="193" width="23" height="1" fill="#ce4500"/>
<rect x="535" y="194" width="23" height="1" fill="#cd4400"/>
<rect x="535" y="195" width="23" height="1" fill="#cd4300"/>
<rect x="535" y="196" width="23" height="1" fill="#cc4300"/>
<rect x="535" y="197" width="23" height="1" fill="#cc4200"/>
<rect x="535" y="198" width="23" height="1" fill="#cb4100"/>
<rect x="535" y="199" width="23" height="1" fill="#cb4000"/>
<rect x="535" y="200" width="23" height="1" fill="#ca4000"/>
<rect x="535" y="201" width="23" height="1" fill="#ca3f00"/>
<rect x="535" y="202" width="23" height="1" fill="#ca3e00"/>
<rect x="535" y="203" width="23" height="1" fill="#c93e00"/>
<rect x="535" y="204" width="23" height="1" fill="#c93d00"/>
<rect x="535" y="205" width="23" height="1" fill="#c83c00"/>
<rect x="535" y="206" width="23" height="1" fill="#c83b00"/>
<rect x="535" y="207" width="23" height="1" fill="#c73b00"/>
<rect x="535" y="208" width="23" height="1" fill="#c73a00"/>
<rect x="535" y="209" width="23" height="1" fill="#c63900"/>
<rect x="535" y="210" width="23" height="1" fill="#c63800"/>
<rect x="535" y="211" width="23" height="1" fill="#c53800"/>
<rect x="535" y="212" width="23" height="1" fill="#c53700"/>
<rect x="535" y="213" width="23" height="1" fill="#c43600"/>
<rect x="535" y="214" width="23" height="1" fill="#c43600"/>
<rect x="535" y="215" width="23" height="1" fill="#c33500"/>
<rect x="535" y="216" width="23" height="1" fill="#c33400"/>
<rect x="535" y="217" width="23" height="1" fill="#c23300"/>
<rect x="535" y="218" width="23" height="1" fill="#c23300"/>
<rect x="535" y="219" width="23" height="1" fill="#c13200"/>
<rect x="535" y="220" width="23" height="1" fill="#c13100"/>
<rect x="535" y="221" width="23" height="1" fill="#c03000"/>
<rect x="535" y="222" width="23" height="1" fill="#c03000"/>
<rect x="535" y="223" width="23" height="1" fill="#bf2f01"/>
<rect x="535" y="224" width="23" height="1" fill="#bf2f01"/>
<rect x="535" y="225" width="23" height="1" fill="#bf2f01"/>
<rect x="535" y="226" width="23" height="1" fill="#be2e02"/>
<rect x="535" y="227" width="23" height="1" fill="#be2e02"/>
<rect x="535" y="228" width="23" height="1" fill="#bd2d03"/>
<rect x="535" y="229" width="23" height="1" fill="#bd2d03"/>
<rect x="535" y="230" width="23" height="1" fill="#bd2d03"/>
<rect x="535" y="231" width="23" height="1" fill="#bc2c04"/>
<rect x="535" y="232" width="23" height="1" fill="#bc2c04"/>
<rect x="535" y="233" width="23" height="1" fill="#bb2b05"/>
<rect x="535" y="234" width="23" height="1" fill="#bb2b05"/>
<rect x="535" y="235" width="23" height="1" fill="#bb2b05"/>
<rect x="535" y="236" width="23" height="1" fill="#ba2a06"/>
<rect x="535" y="237" width="23" height="1" fill="#ba2a06"/>
<rect x="535" y="238" width="23" height="1" fill="#b92907"/>
<rect x="535" y="239" width="23" height="1" fill="#b92907"/>
<rect x="535" y="240" width="23" height="1" fill="#b92907"/>
<rect x="535" y="241" width="23" height="1" fill="#b82808"/>
<rect x="535" y="242" width="23" height="1" fill="#b8280b"/>
<rect x="535" y="243" width="23" height="1" fill="#b72710"/>
<rect x="535" y="244" width="23" height="1" fill="#b62615"/>
<rect x="535" y="245" width="23" height="1" fill="#b6261a"/>
<rect x="535" y="246" width="23" height="1" fill="#b5251f"/>
<rect x="535" y="247" width="23" height="1" fill="#b52524"/>
<rect x="535" y="248" width="23" height="1" fill="#b42429"/>
<rect x="535" y="249" width="23" height="1" fill="#b3232d"/>
<rect x="535" y="250" width="23" height="1" fill="#b32332"/>
<rect x="535" y="251" width="23" height="1" fill="#b22237"/>
<rect x="535" y="252" width="23" height="1" fill="#b1213c"/>
<rect x="535" y="253" width="23" height="1" fill="#b12141"/>
<rect x="535" y="254" width="23" height="1" fill="#b02046"/>
<rect x="535" y="255" width="23" height="1" fill="#af204b"/>
<rect x="535" y="256" width="23" height="1" fill="#ae1f50"/>
<rect x="535" y="257" width="23" height="1" fill="#ae1e54"/>
<rect x="535" y="258" width="23" height="1" fill="#ad1e59"/>
<rect x="535" y="259" width="23" height="1" fill="#ac1d5e"/>
<rect x="535" y="260" width="23" height="1" fill="#ab1d63"/>
<rect x="535" y="261" width="23" height="1" fill="#aa1c68"/>
<rect x="535" y="262" width="23" height="1" fill="#a91b6d"/>
<rect x="535" y="263" width="23" height="1" fill="#a81b72"/>
<rect x="535" y="264" width="23" height="1" fill="#a71a76"/>
<rect x="535" y="265" width="23" height="1" fill="#a61a7b"/>
<rect x="535" y="266" width="23" height="1" fill="#a51980"/>
<rect x="535" y="267" width="23" height="1" fill="#a41885"/>
<rect x="535" y="268" width="23" height="1" fill="#a3188a"/>
<rect x="535" y="269" width="23" height="1" fill="#a2178f"/>
<rect x="535" y="270" width="23" height="1" fill="#a11794"/>
<rect x="535" y="271" width="23" height="1" fill="#a01698"/>
<rect x="535" y="272" width="23" height="1" fill="#9f159c"/>
<rect x="535" y="273" width="23" height="1" fill="#9e159f"/>
<rect x="535" y="274" width="23" height="1" fill="#9d14a3"/>
<rect x="535" y="275" width="23" height="1" fill="#9d14a6"/>
<rect x="535" y="276" width="23" height="1" fill="#9c13a9"/>
<rect x="535" y="277" width="23" height="1" fill="#9b12ad"/>
<rect x="535" y="278" width="23" height="1" fill="#9a12b0"/>
<rect x="535" y="279" width="23" height="1" fill="#9911b4"/>
<rect x="535" y="280" width="23" height="1" fill="#9810b7"/>
<rect x="535" y="281" width="23" height="1" fill="#9710ba"/>
<rect x="535" y="282" width="23" height="1" fill="#970fbe"/>
<rect x="535" y="283" width="23" height="1" fill="#960fc1"/>
<rect x="535" y="284" width="23" height="1" fill="#950ec5"/>
<rect x="535" y="285" width="23" height="1" fill="#940dc8"/>
<rect x="535" y="286" width="23" height="1" fill="#930dcb"/>
<rect x="535" y="287" width="23" height="1" fill="#920ccf"/>
<rect x="535" y="288" width="23" height="1" fill="#920cd1"/>
<rect x="535" y="289" width="23" height="1" fill="#910bd3"/>
<rect x="535" y="290" width="23" height="1" fill="#910bd5"/>
<rect x="535" y="291" width="23" height="1" fill="#900bd6"/>
<rect x="535" y="292" width="23" height="1" fill="#900ad8"/>
<rect x="535" y="293" width="23" height="1" fill="#8f0ada"/>
<rect x="535" y="294" width="23" height="1" fill="#8e09dc"/>
<rect x="535" y="295" width="23" height="1" fill="#8e09de"/>
<rect x="535" y="296" width="23" height="1" fill="#8d09df"/>
<rect x="535" y="297" width="23" height="1" fill="#8d08e1"/>
<rect x="535" y="298" width="23" height="1" fill="#8c08e3"/>
<rect x="535" y="299" width="23" height="1" fill="#8c08e5"/>
<rect x="535" y="300" width="23" height="1" fill="#8b07e7"/>
<rect x="535" y="301" width="23" height="1" fill="#8b07e8"/>
<rect x="535" y="302" width="23" height="1" fill="#8a06ea"/>
<rect x="535" y="303" width="23" height="1" fill="#8a06ec"/>
<rect x="535" y="304" width="23" height="1" fill="#8906ee"/>
<rect x="535" y="305" width="23" height="1" fill="#8905ef"/>
<rect x="535" y="306" width="23" height="1" fill="#8805f1"/>
<rect x="535" y="307" width="23" height="1" fill="#8805f3"/>
<rect x="535" y="308" width="23" height="1" fill="#8704f5"/>
<rect x="535" y="309" width="23" height="1" fill="#8604f7"/>
<rect x="535" y="310" width="23" height="1" fill="#8603f8"/>
<rect x="535" y="311" width="23" height="1" fill="#8503fa"/>
<rect x="535" y="312" width="23" height="1" fill="#8503fc"/>
<rect x="535" y="313" width="23" height="1" fill="#8402fe"/>
<rect x="535" y="314" width="23" height="1" fill="#8402ff"/>
<rect x="535" y="315" width="23" height="1" fill="#8302fe"/>
<rect x="535" y="316" width="23" height="1" fill="#8302fe"/>
<rect x="535" y="317" width="23" height="1" fill="#8201fd"/>
<rect x="535" y="318" width="23" height="1" fill="#8101fd"/>
<rect x="535" y="319" width="23" height="1" fill="#8101fc"/>
<rect x="535" y="320" width="23" height="1" fill="#8001fc"/>
<rect x="535" y="321" width="23" height="1" fill="#8001fb"/>
<rect x="535" y="322" width="23" height="1" fill="#7f01fb"/>
<rect x="535" y="323" width="23" height="1" fill="#7e01fa"/>
<rect x="535" y="324" width="23" height="1" fill="#7e00fa"/>
<rect x="535" y="325" width="23" height="1" fill="#7d00f9"/>
<rect x="535" y="326" width="23" height="1" fill="#7d00f8"/>
<rect x="535" y="327" width="23" height="1" fill="#7c00f8"/>
<rect x="535" y="328" width="23" height="1" fill="#7b00f6"/>
<rect x="535" y="329" width="23" height="1" fill="#7a00f4"/>
<rect x="535" y="330" width="23" height="1" fill="#7900f2"/>
<rect x="535" y="331" width="23" height="1" fill="#7800f0"/>
<rect x="535" y="332" width="23" height="1" fill="#7700ee"/>
<rect x="535" y="333" width="23" height="1" fill="#7600ec"/>
<rect x="535" y="334" width="23" height="1" fill="#7500ea"/>
<rect x="535" y="335" width="23" height="1" fill="#7400e8"/>
<rect x="535" y="336" width="23" height="1" fill="#7300e6"/>
<rect x="535" y="337" width="23" height="1" fill="#7200e4"/>
<rect x="535" y="338" width="23" height="1" fill="#7100e2"/>
<rect x="535" y="339" width="23" height="1" fill="#7000e0"/>
<rect x="535" y="340" width="23" height="1" fill="#6f00de"/>
<rect x="535" y="341" width="23" height="1" fill="#6e00dc"/>
<rect x="535" y="342" width="23" height="1" fill="#6d00da"/>
<rect x="535" y="343" width="23" height="1" fill="#6c00d8"/>
<rect x="535" y="344" width="23" height="1" fill="#6b00d6"/>
<rect x="535" y="345" width="23" height="1" fill="#6a00d4"/>
<rect x="535" y="346" width="23" height="1" fill="#6900d2"/>
<rect x="535" y="347" width="23" height="1" fill="#6800d0"/>
<rect x="535" y="348" width="23" height="1" fill="#6700ce"/>
<rect x="535" y="349" width="23" height="1" fill="#6600cc"/>
<rect x="535" y="350" width="23" height="1" fill="#6500ca"/>
<rect x="535" y="351" width="23" height="1" fill="#6400c8"/>
<rect x="535" y="352" width="23" height="1" fill="#6300c6"/>
<rect x="535" y="353" width="23" height="1" fill="#6200c4"/>
<rect x="535" y="354" width="23" height="1" fill="#6100c2"/>
<rect x="535" y="355" width="23" height="1" fill="#6000c0"/>
<rect x="535" y="356" width="23" height="1" fill="#5f00bd"/>
<rect x="535" y="357" width="23" height="1" fill="#5e00bb"/>
<rect x="535" y="358" width="23" height="1" fill="#5d00b9"/>
<rect x="535" y="359" width="23" height="1" fill="#5c00b7"/>
<rect x="535" y="360" width="23" height="1" fill="#5b00b4"/>
<rect x="535" y="361" width="23" height="1" fill="#5a00b2"/>
<rect x="535" y="362" width="23" height="1" fill="#5900b0"/>
<rect x="535" y="363" width="23" height="1" fill="#5800ad"/>
<rect x="535" y="364" width="23" height="1" fill="#5700ab"/>
<rect x="535" y="365" width="23" height="1" fill="#5600a9"/>
<rect x="535" y="366" width="23" height="1" fill="#5500a6"/>
<rect x="535" y="367" width="23" height="1" fill="#5400a4"/>
<rect x="535" y="368" width="23" height="1" fill="#5300a2"/>
<rect x="535" y="369" width="23" height="1" fill="#52009f"/>
<rect x="535" y="370" width="23" height="1" fill="#51009d"/>
<rect x="535" y="371" width="23" height="1" fill="#50009b"/>
<rect x="535" y="372" width="23" height="1" fill="#4f0099"/>
<rect x="535" y="373" width="23" height="1" fill="#4e0096"/>
<rect x="535" y="374" width="23" height="1" fill="#4c0094"/>
<rect x="535" y="375" width="23" height="1" fill="#4b0092"/>
<rect x="535" y="376" width="23" height="1" fill="#4a008f"/>
<rect x="535" y="377" width="23" height="1" fill="#49008d"/>
<rect x="535" y="378" width="23" height="1" fill="#48008b"/>
<rect x="535" y="379" width="23" height="1" fill="#470088"/>
<rect x="535" y="380" width="23" height="1" fill="#460086"/>
<rect x="535" y="381" width="23" height="1" fill="#450084"/>
<rect x="535" y="382" width="23" height="1" fill="#440081"/>
<rect x="535" y="383" width="23" height="1" fill="#43007f"/>
<rect x="535" y="384" width="23" height="1" fill="#42007d"/>
<rect x="535" y="385" width="23" height="1" fill="#41007b"/>
<rect x="535" y="386" width="23" height="1" fill="#400078"/>
<rect x="535" y="387" width="23" height="1" fill="#3f0075"/>
<rect x="535" y="388" width="23" height="1" fill="#3d0072"/>
<rect x="535" y="389" width="23" height="1" fill="#3c006e"/>
<rect x="535" y="390" width="23" height="1" fill="#3a006b"/>
<rect x="535" y="391" width="23" height="1" fill="#390067"/>
<rect x="535" y="392" width="23" height="1" fill="#370064"/>
<rect x="535" y="393" width="23" height="1" fill="#360060"/>
<rect x="535" y="394" width="23" height="1" fill="#34005d"/>
<rect x="535" y="395" width="23" height="1" fill="#33005a"/>
<rect x="535" y="396" width="23" height="1" fill="#320056"/>
<rect x="535" y="397" width="23" height="1" fill="#300053"/>
<rect x="535" y="398" width="23" height="1" fill="#2f004f"/>
<rect x="535" y="399" width="23" height="1" fill="#2d004c"/>
<rect x="535" y="400" width="23" height="1" fill="#2c0049"/>
<rect x="535" y="401" width="23" height="1" fill="#2a0045"/>
<rect x="535" y="402" width="23" height="1" fill="#290042"/>
<rect x="535" y="403" width="23" height="1" fill="#27003e"/>
<rect x="535" y="404" width="23" height="1" fill="#26003b"/>
<rect x="535" y="405" width="23" height="1" fill="#240038"/>
<rect x="535" y="406" width="23" height="1" fill="#230034"/>
<rect x="535" y="407" width="23" height="1" fill="#220031"/>
<rect x="535" y="408" width="23" height="1" fill="#20002d"/>
<rect x="535" y="409" width="23" height="1" fill="#1f002a"/>
<rect x="535" y="410" width="23" height="1" fill="#1d0027"/>
<rect x="535" y="411" width="23" height="1" fill="#1c0023"/>
<rect x="535" y="412" width="23" height="1" fill="#1a0020"/>
<rect x="535" y="413" width="23" height="1" fill="#19001c"/>
<rect x="535" y="414" width="23" height="1" fill="#170019"/>
<rect x="535" y="415" width="23" height="1" fill="#160016"/>
<rect x="535" y="416" width="23" height="1" fill="#140012"/>
<rect x="535" y="417" width="23" height="1" fill="#13000f"/>
<rect x="535" y="418" width="23" height="1" fill="#11000b"/>
<rect x="535" y="419" width="23" height="1" fill="#100008"/>
<rect x="535" y="387" width="5" height="1" fill="#000"/><rect x="553" y="387" width="5" height="1" fill="#000"/>
<rect x="535" y="354" width="5" height="1" fill="#000"/><rect x="553" y="354" width="5" height="1" fill="#000"/>
<rect x="535" y="321" width="5" height="1" fill="#000"/><rect x="553" y="321" width="5" height="1" fill="#000"/>
<rect x="535" y="288" width="5" height="1" fill="#000"/><rect x="553" y="288" width="5" height="1" fill="#000"/>
<rect x="535" y="255" width="5" height="1" fill="#000"/><rect x="553" y="255" width="5" height="1" fill="#000"/>
<rect x="535" y="222" width="5" height="1" fill="#000"/><rect x="553" y="222" width="5" height="1" fill="#000"/>
<rect x="535" y="189" width="5" height="1" fill="#000"/><rect x="553" y="189" width="5" height="1" fill="#000"/>
<rect x="535" y="156" width="5" height="1" fill="#000"/><rect x="553" y="156" width="5" height="1" fill="#000"/>
<rect x="535" y="123" width="5" height="1" fill="#000"/><rect x="553" y="123" width="5" height="1" fill="#000"/>
<rect x="535" y="90" width="5" height="1" fill="#000"/><rect x="553" y="90" width="5" height="1" fill="#000"/>
<rect x="535.5" y="57.5" width="22" height="362" fill="none" stroke="#000" stroke-width="1"/>
</g>
<g>
<text transform="translate(296.6,32)" text-anchor="middle">VTEC / TECU 20250115_015.01200</text>
<text transform="translate(297.8,471)" text-anchor="middle">Longitude / deg</text>
<text transform="translate(18,239.5) rotate(-90)" text-anchor="middle">Latitude / deg</text>
<text transform="translate(111.97,443)" text-anchor="middle">-150</text>
<text transform="translate(174.0,443)" text-anchor="middle">-100</text>
<text transform="translate(235.53,443)" text-anchor="middle">-50</text>
<text transform="translate(299.5,443)" text-anchor="middle">0</text>
<text transform="translate(360.93,443)" text-anchor="middle">50</text>
<text transform="translate(423.57,443)" text-anchor="middle">100</text>
<text transform="translate(485.5,443)" text-anchor="middle">150</text>
<text transform="translate(62.0,408)" text-anchor="end">-80</text>
<text transform="translate(62.0,366)" text-anchor="end">-60</text>
<text transform="translate(62.0,325)" text-anchor="end">-40</text>
<text transform="translate(62.0,284)" text-anchor="end">-20</text>
<text transform="translate(61.0,243)" text-anchor="end">0</text>
<text transform="translate(61.0,202)" text-anchor="end">20</text>
<text transform="translate(61.0,161)" text-anchor="end">40</text>
<text transform="translate(61.0,120)" text-anchor="end">60</text>
<text transform="translate(61.0,78)" text-anchor="end">80</text>
<text transform="translate(571.4,423)">0</text>
<text transform="translate(571.4,391)">10</text>
<text transform="translate(571.4,358)">20</text>
<text transform="translate(571.4,325)">30</text>
<text transform="translate(571.4,292)">40</text>
<text transform="translate(571.4,259)">50</text>
<text transform="translate(571.4,226)">60</text>
<text transform="translate(571.4,193)">70</text>
<text transform="translate(571.4,160)">80</text>
<text transform="translate(571.4,127)">90</text>
<text transform="translate(571.4,94)">100</text>
<text transform="translate(571.4,61)">110</text>
</g>
</svg></body></html>
